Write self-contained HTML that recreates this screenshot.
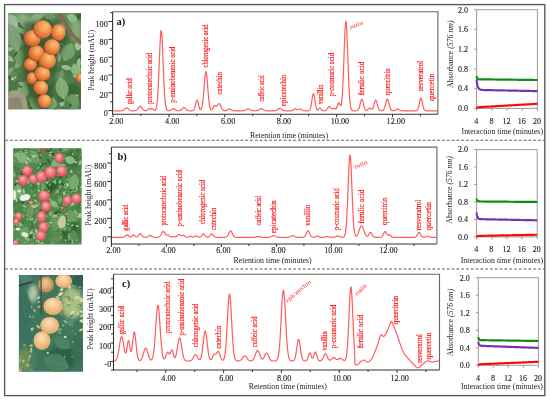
<!DOCTYPE html>
<html><head><meta charset="utf-8"><title>Figure</title>
<style>html,body{margin:0;padding:0;background:#fff;}svg{display:block;filter:blur(0.3px);}</style></head><body>
<svg width="550" height="402" viewBox="0 0 550 402" font-family="'Liberation Serif', 'Times New Roman', serif">
<defs><radialGradient id="ap1" cx="0.58" cy="0.42" r="0.6" fx="0.64" fy="0.3"><stop offset="0" stop-color="#fcc47c"/><stop offset="0.45" stop-color="#f39c52"/><stop offset="0.85" stop-color="#dc6c36"/><stop offset="1" stop-color="#b24c26"/></radialGradient>
<radialGradient id="ap1b" cx="0.56" cy="0.42" r="0.6" fx="0.6" fy="0.3"><stop offset="0" stop-color="#fbbc76"/><stop offset="0.45" stop-color="#f0924a"/><stop offset="0.85" stop-color="#d66232"/><stop offset="1" stop-color="#ae4824"/></radialGradient>
<radialGradient id="ap2" cx="0.5" cy="0.45" r="0.6" fx="0.45" fy="0.32"><stop offset="0" stop-color="#fcbcb8"/><stop offset="0.45" stop-color="#f27c84"/><stop offset="0.85" stop-color="#d6505c"/><stop offset="1" stop-color="#d6505c"/></radialGradient>
<radialGradient id="ap3" cx="0.5" cy="0.45" r="0.6" fx="0.45" fy="0.3"><stop offset="0" stop-color="#fce2b6"/><stop offset="0.45" stop-color="#f4c892"/><stop offset="0.85" stop-color="#e4ac74"/><stop offset="1" stop-color="#cc9460"/></radialGradient>
<radialGradient id="ap3d" cx="0.5" cy="0.5" r="0.55" fx="0.45" fy="0.35"><stop offset="0" stop-color="#f0c890"/><stop offset="0.45" stop-color="#deb07a"/><stop offset="0.85" stop-color="#b88a58"/><stop offset="1" stop-color="#b88a58"/></radialGradient>
<filter id="soft" x="-5%" y="-5%" width="110%" height="110%"><feGaussianBlur stdDeviation="0.5"/></filter>
<filter id="soft2" x="-20%" y="-20%" width="140%" height="140%"><feGaussianBlur stdDeviation="2"/></filter>
<clipPath id="c1"><rect x="8.3" y="13.3" width="72.7" height="96"/></clipPath>
<clipPath id="c2"><rect x="13.2" y="148.2" width="68.3" height="96.2"/></clipPath>
<clipPath id="c3"><rect x="18.9" y="275" width="64.1" height="96.7"/></clipPath></defs>
<rect x="0" y="0" width="550" height="402" fill="#fff"/>
<rect x="4.6" y="4.6" width="540.2" height="391" fill="none" stroke="#5a5a5a" stroke-width="1.4"/>
<line x1="5.3" y1="140.2" x2="544.2" y2="140.2" stroke="#555" stroke-width="1.1" stroke-dasharray="2.6 2.2"/>
<line x1="5.3" y1="269.0" x2="544.2" y2="269.0" stroke="#555" stroke-width="1.1" stroke-dasharray="2.6 2.2"/>
<g clip-path="url(#c1)">
<rect x="8" y="13" width="74" height="97" fill="#4b7a44"/>
<g filter="url(#soft2)">
<ellipse cx="18" cy="28" rx="12" ry="16" transform="rotate(0 18 28)" fill="#7fa874" opacity="1"/>
<ellipse cx="15" cy="60" rx="9" ry="18" transform="rotate(0 15 60)" fill="#557f4a" opacity="1"/>
<ellipse cx="72" cy="60" rx="10" ry="18" transform="rotate(0 72 60)" fill="#4a7a42" opacity="1"/>
<ellipse cx="70" cy="96" rx="12" ry="14" transform="rotate(0 70 96)" fill="#3c6634" opacity="1"/>
<ellipse cx="22" cy="84" rx="10" ry="10" transform="rotate(0 22 84)" fill="#4d7644" opacity="1"/>
<ellipse cx="64" cy="20" rx="14" ry="8" transform="rotate(0 64 20)" fill="#5e8c52" opacity="1"/>
<ellipse cx="76" cy="30" rx="6" ry="12" transform="rotate(0 76 30)" fill="#84ac74" opacity="1"/>
</g>
<g filter="url(#soft)">
<path d="M-7.7 0 Q0 -6.0 7.7 0 Q0 6.0 -7.7 0Z" transform="translate(41.0 67.3) rotate(91)" fill="#9cb896"/>
<path d="M-5.9 0 Q0 -5.0 5.9 0 Q0 5.0 -5.9 0Z" transform="translate(21.9 91.0) rotate(34)" fill="#84a87e"/>
<path d="M-7.25 0 Q0 -6.2 7.25 0 Q0 6.2 -7.25 0Z" transform="translate(30.1 21.8) rotate(8)" fill="#84a87e"/>
<path d="M-6.45 0 Q0 -4.4 6.45 0 Q0 4.4 -6.45 0Z" transform="translate(78.4 76.4) rotate(3)" fill="#9cb896"/>
<path d="M-7.5 0 Q0 -6.2 7.5 0 Q0 6.2 -7.5 0Z" transform="translate(12.6 16.5) rotate(140)" fill="#6a9464"/>
<path d="M-6.1 0 Q0 -5.2 6.1 0 Q0 5.2 -6.1 0Z" transform="translate(40.2 94.7) rotate(90)" fill="#2f5230"/>
<path d="M-5.65 0 Q0 -4.6 5.65 0 Q0 4.6 -5.65 0Z" transform="translate(14.2 76.5) rotate(168)" fill="#3c6236"/>
<path d="M-4.9 0 Q0 -3.6 4.9 0 Q0 3.6 -4.9 0Z" transform="translate(59.7 43.6) rotate(13)" fill="#78a070"/>
<path d="M-5.15 0 Q0 -3.4 5.15 0 Q0 3.4 -5.15 0Z" transform="translate(15.9 23.5) rotate(3)" fill="#2f5230"/>
<path d="M-7.65 0 Q0 -6.0 7.65 0 Q0 6.0 -7.65 0Z" transform="translate(8.0 33.3) rotate(176)" fill="#84a87e"/>
<path d="M-4.8 0 Q0 -4.2 4.8 0 Q0 4.2 -4.8 0Z" transform="translate(38.6 67.9) rotate(61)" fill="#6a9464"/>
<path d="M-7.05 0 Q0 -4.8 7.05 0 Q0 4.8 -7.05 0Z" transform="translate(32.3 106.5) rotate(44)" fill="#3c6236"/>
<path d="M-5.95 0 Q0 -5.2 5.95 0 Q0 5.2 -5.95 0Z" transform="translate(8.8 58.1) rotate(34)" fill="#9cb896"/>
<path d="M-4.5 0 Q0 -3.8 4.5 0 Q0 3.8 -4.5 0Z" transform="translate(21.9 84.0) rotate(21)" fill="#84a87e"/>
<path d="M-7.45 0 Q0 -7.0 7.45 0 Q0 7.0 -7.45 0Z" transform="translate(80.3 13.0) rotate(107)" fill="#3c6236"/>
<path d="M-7.4 0 Q0 -6.2 7.4 0 Q0 6.2 -7.4 0Z" transform="translate(23.4 51.2) rotate(18)" fill="#52804a"/>
<path d="M-7.1 0 Q0 -5.2 7.1 0 Q0 5.2 -7.1 0Z" transform="translate(23.6 38.1) rotate(53)" fill="#3c6236"/>
<path d="M-6.55 0 Q0 -4.2 6.55 0 Q0 4.2 -6.55 0Z" transform="translate(13.4 33.2) rotate(66)" fill="#9cb896"/>
<path d="M-5.95 0 Q0 -4.8 5.95 0 Q0 4.8 -5.95 0Z" transform="translate(41.1 106.0) rotate(156)" fill="#52804a"/>
<path d="M-4.9 0 Q0 -4.2 4.9 0 Q0 4.2 -4.9 0Z" transform="translate(53.8 43.1) rotate(131)" fill="#52804a"/>
<path d="M-4.8 0 Q0 -4.6 4.8 0 Q0 4.6 -4.8 0Z" transform="translate(62.0 104.2) rotate(159)" fill="#9cb896"/>
<path d="M-4.45 0 Q0 -3.6 4.45 0 Q0 3.6 -4.45 0Z" transform="translate(13.7 17.6) rotate(46)" fill="#2f5230"/>
<path d="M-7.3 0 Q0 -6.0 7.3 0 Q0 6.0 -7.3 0Z" transform="translate(59.4 37.9) rotate(53)" fill="#52804a"/>
<path d="M-4.5 0 Q0 -3.6 4.5 0 Q0 3.6 -4.5 0Z" transform="translate(75.8 107.8) rotate(118)" fill="#9cb896"/>
<path d="M-7.65 0 Q0 -5.4 7.65 0 Q0 5.4 -7.65 0Z" transform="translate(52.8 40.2) rotate(3)" fill="#6a9464"/>
<path d="M-4.2 0 Q0 -3.0 4.2 0 Q0 3.0 -4.2 0Z" transform="translate(38.0 37.2) rotate(96)" fill="#52804a"/>
<path d="M-5.8 0 Q0 -4.4 5.8 0 Q0 4.4 -5.8 0Z" transform="translate(14.7 26.4) rotate(132)" fill="#9cb896"/>
<path d="M-4.15 0 Q0 -2.6 4.15 0 Q0 2.6 -4.15 0Z" transform="translate(50.7 26.6) rotate(164)" fill="#2f5230"/>
<path d="M-6.4 0 Q0 -4.2 6.4 0 Q0 4.2 -6.4 0Z" transform="translate(30.8 16.3) rotate(12)" fill="#6a9464"/>
<path d="M-4.3 0 Q0 -3.6 4.3 0 Q0 3.6 -4.3 0Z" transform="translate(31.3 109.9) rotate(133)" fill="#2f5230"/>
<path d="M-7.85 0 Q0 -5.8 7.85 0 Q0 5.8 -7.85 0Z" transform="translate(61.8 25.6) rotate(15)" fill="#84a87e"/>
<path d="M-5.65 0 Q0 -5.0 5.65 0 Q0 5.0 -5.65 0Z" transform="translate(73.8 97.5) rotate(155)" fill="#9cb896"/>
<path d="M-5.5 0 Q0 -3.6 5.5 0 Q0 3.6 -5.5 0Z" transform="translate(9.1 77.2) rotate(13)" fill="#3c6236"/>
<path d="M-7.5 0 Q0 -6.6 7.5 0 Q0 6.6 -7.5 0Z" transform="translate(54.7 109.4) rotate(70)" fill="#2f5230"/>
<path d="M-5.85 0 Q0 -4.8 5.85 0 Q0 4.8 -5.85 0Z" transform="translate(58.7 57.4) rotate(93)" fill="#9cb896"/>
<path d="M-5.9 0 Q0 -4.2 5.9 0 Q0 4.2 -5.9 0Z" transform="translate(10.2 71.3) rotate(126)" fill="#84a87e"/>
<path d="M-5.95 0 Q0 -5.6 5.95 0 Q0 5.6 -5.95 0Z" transform="translate(64.9 77.0) rotate(66)" fill="#52804a"/>
<path d="M-4.7 0 Q0 -4.4 4.7 0 Q0 4.4 -4.7 0Z" transform="translate(57.5 32.6) rotate(119)" fill="#84a87e"/>
<path d="M-5.6 0 Q0 -4.0 5.6 0 Q0 4.0 -5.6 0Z" transform="translate(44.4 36.4) rotate(114)" fill="#78a070"/>
<path d="M-7.5 0 Q0 -5.8 7.5 0 Q0 5.8 -7.5 0Z" transform="translate(66.8 101.7) rotate(105)" fill="#6a9464"/>
<path d="M-5.4 0 Q0 -5.0 5.4 0 Q0 5.0 -5.4 0Z" transform="translate(23.3 26.1) rotate(7)" fill="#3c6236"/>
<path d="M-4.7 0 Q0 -3.6 4.7 0 Q0 3.6 -4.7 0Z" transform="translate(77.4 39.8) rotate(50)" fill="#52804a"/>
<path d="M-6.1 0 Q0 -5.2 6.1 0 Q0 5.2 -6.1 0Z" transform="translate(68.7 50.1) rotate(129)" fill="#78a070"/>
<path d="M-4.3 0 Q0 -2.8 4.3 0 Q0 2.8 -4.3 0Z" transform="translate(79.7 56.9) rotate(157)" fill="#3c6236"/>
<path d="M-5.4 0 Q0 -4.6 5.4 0 Q0 4.6 -5.4 0Z" transform="translate(57.5 40.3) rotate(102)" fill="#2f5230"/>
<path d="M-4.1 0 Q0 -3.8 4.1 0 Q0 3.8 -4.1 0Z" transform="translate(17.9 57.1) rotate(43)" fill="#52804a"/>
<path d="M-4.45 0 Q0 -3.0 4.45 0 Q0 3.0 -4.45 0Z" transform="translate(66.2 108.4) rotate(96)" fill="#2f5230"/>
<path d="M-6.75 0 Q0 -4.8 6.75 0 Q0 4.8 -6.75 0Z" transform="translate(66.9 106.0) rotate(86)" fill="#52804a"/>
<path d="M-6.15 0 Q0 -4.0 6.15 0 Q0 4.0 -6.15 0Z" transform="translate(60.1 86.2) rotate(41)" fill="#78a070"/>
<path d="M-6.1 0 Q0 -5.0 6.1 0 Q0 5.0 -6.1 0Z" transform="translate(33.2 80.6) rotate(136)" fill="#84a87e"/>
<path d="M-4.9 0 Q0 -3.8 4.9 0 Q0 3.8 -4.9 0Z" transform="translate(70.0 80.9) rotate(161)" fill="#84a87e"/>
<path d="M-6.5 0 Q0 -6.0 6.5 0 Q0 6.0 -6.5 0Z" transform="translate(17.5 57.0) rotate(68)" fill="#9cb896"/>
<path d="M-7.3 0 Q0 -5.4 7.3 0 Q0 5.4 -7.3 0Z" transform="translate(55.6 61.8) rotate(59)" fill="#52804a"/>
<path d="M-7.2 0 Q0 -6.8 7.2 0 Q0 6.8 -7.2 0Z" transform="translate(15.2 97.0) rotate(22)" fill="#52804a"/>
<path d="M-7.9 0 Q0 -6.4 7.9 0 Q0 6.4 -7.9 0Z" transform="translate(73.7 108.1) rotate(142)" fill="#6a9464"/>
<path d="M-4.05 0 Q0 -3.2 4.05 0 Q0 3.2 -4.05 0Z" transform="translate(27.1 82.7) rotate(7)" fill="#6a9464"/>
<path d="M-5.95 0 Q0 -3.8 5.95 0 Q0 3.8 -5.95 0Z" transform="translate(48.2 87.5) rotate(146)" fill="#3c6236"/>
<path d="M-6.15 0 Q0 -5.2 6.15 0 Q0 5.2 -6.15 0Z" transform="translate(39.3 16.4) rotate(165)" fill="#84a87e"/>
<path d="M-6.9 0 Q0 -6.2 6.9 0 Q0 6.2 -6.9 0Z" transform="translate(18.9 63.1) rotate(124)" fill="#84a87e"/>
<path d="M-7.05 0 Q0 -5.4 7.05 0 Q0 5.4 -7.05 0Z" transform="translate(50.3 79.8) rotate(101)" fill="#78a070"/>
<path d="M-6.1 0 Q0 -5.6 6.1 0 Q0 5.6 -6.1 0Z" transform="translate(61.2 75.0) rotate(101)" fill="#6a9464"/>
<path d="M-7.5 0 Q0 -6.2 7.5 0 Q0 6.2 -7.5 0Z" transform="translate(57.0 105.6) rotate(55)" fill="#52804a"/>
<path d="M-6.3 0 Q0 -4.4 6.3 0 Q0 4.4 -6.3 0Z" transform="translate(78.7 63.8) rotate(96)" fill="#9cb896"/>
<path d="M-6.15 0 Q0 -4.0 6.15 0 Q0 4.0 -6.15 0Z" transform="translate(8.4 49.6) rotate(165)" fill="#9cb896"/>
<path d="M-5.95 0 Q0 -5.2 5.95 0 Q0 5.2 -5.95 0Z" transform="translate(66.5 67.6) rotate(12)" fill="#9cb896"/>
<path d="M-7.2 0 Q0 -5.6 7.2 0 Q0 5.6 -7.2 0Z" transform="translate(41.5 102.3) rotate(44)" fill="#84a87e"/>
<path d="M-7.25 0 Q0 -6.8 7.25 0 Q0 6.8 -7.25 0Z" transform="translate(17.3 55.1) rotate(86)" fill="#6a9464"/>
<path d="M-4.1 0 Q0 -3.0 4.1 0 Q0 3.0 -4.1 0Z" transform="translate(15.9 53.7) rotate(126)" fill="#3c6236"/>
<path d="M-4.05 0 Q0 -3.0 4.05 0 Q0 3.0 -4.05 0Z" transform="translate(10.6 28.1) rotate(130)" fill="#52804a"/>
<path d="M-6.9 0 Q0 -4.8 6.9 0 Q0 4.8 -6.9 0Z" transform="translate(53.2 23.2) rotate(92)" fill="#6a9464"/>
<path d="M-9.0 0 Q0 -12 9.0 0 Q0 12 -9.0 0Z" transform="translate(26 22) rotate(60)" fill="#8aac84"/><path d="M-8.1 0 L8.1 0" transform="translate(26 22) rotate(60)" stroke="#a4c29c" stroke-width="0.5"/>
<path d="M-15.0 0 Q0 -14 15.0 0 Q0 14 -15.0 0Z" transform="translate(14 38) rotate(75)" fill="#7a9e74"/><path d="M-13.5 0 L13.5 0" transform="translate(14 38) rotate(75)" stroke="#94b48c" stroke-width="0.5"/>
<path d="M-7.0 0 Q0 -10 7.0 0 Q0 10 -7.0 0Z" transform="translate(12 20) rotate(40)" fill="#a0b89a"/>
<path d="M-8.0 0 Q0 -9.0 8.0 0 Q0 9.0 -8.0 0Z" transform="translate(20 58) rotate(100)" fill="#6f9a62"/>
<path d="M-6.0 0 Q0 -8 6.0 0 Q0 8 -6.0 0Z" transform="translate(14 76) rotate(80)" fill="#5f8a54"/>
<path d="M-8.0 0 Q0 -9.0 8.0 0 Q0 9.0 -8.0 0Z" transform="translate(24 92) rotate(110)" fill="#7aa46c"/>
<path d="M-6.0 0 Q0 -8 6.0 0 Q0 8 -6.0 0Z" transform="translate(36 18) rotate(-10)" fill="#86b07a"/>
<path d="M-6.0 0 Q0 -8 6.0 0 Q0 8 -6.0 0Z" transform="translate(50 16) rotate(10)" fill="#6e9a62"/>
<path d="M-10.0 0 Q0 -14 10.0 0 Q0 14 -10.0 0Z" transform="translate(68 52) rotate(115)" fill="#76a06a"/><path d="M-9.0 0 L9.0 0" transform="translate(68 52) rotate(115)" stroke="#90b684" stroke-width="0.5"/>
<path d="M-7.0 0 Q0 -10 7.0 0 Q0 10 -7.0 0Z" transform="translate(76 70) rotate(70)" fill="#8ab87c"/>
<path d="M-12.0 0 Q0 -13.0 12.0 0 Q0 13.0 -12.0 0Z" transform="translate(62 88) rotate(80)" fill="#80aa76"/><path d="M-10.8 0 L10.8 0" transform="translate(62 88) rotate(80)" stroke="#98c08e" stroke-width="0.5"/>
<path d="M-7.0 0 Q0 -10 7.0 0 Q0 10 -7.0 0Z" transform="translate(74 100) rotate(60)" fill="#6a9c5c"/>
<path d="M-7.0 0 Q0 -10 7.0 0 Q0 10 -7.0 0Z" transform="translate(52 104) rotate(100)" fill="#78a86a"/>
<path d="M-8.0 0 Q0 -8 8.0 0 Q0 8 -8.0 0Z" transform="translate(34 104) rotate(70)" fill="#6a9a5c"/>
<path d="M-6.0 0 Q0 -8 6.0 0 Q0 8 -6.0 0Z" transform="translate(72 18) rotate(30)" fill="#8fbc82"/>
<path d="M-5.0 0 Q0 -7.0 5.0 0 Q0 7.0 -5.0 0Z" transform="translate(78 46) rotate(100)" fill="#9ec690"/>
<path d="M-5.0 0 Q0 -7.0 5.0 0 Q0 7.0 -5.0 0Z" transform="translate(56 76) rotate(120)" fill="#5c8c50"/>
<path d="M-5.0 0 Q0 -8 5.0 0 Q0 8 -5.0 0Z" transform="translate(70 80) rotate(20)" fill="#4f7e44"/>
<g filter="url(#soft2)"><path d="M24 22 L60 20 L68 38 L58 58 L54 80 L50 108 L36 108 L26 86 L22 60 Z" fill="#34502c" opacity="0.7"/></g>
<path d="M8 93 Q13 88 19 91 Q25 94 27 102 L28 110 L8 110 Z" fill="#a39c84"/>
<path d="M9 99 Q15 95 21 99 L23 110 L9 110 Z" fill="#8e8770"/>
<circle cx="12.5" cy="79" r="1.3" fill="#d8d2c0"/><circle cx="15" cy="77.5" r="1" fill="#cfc8b4"/>
<path d="M58.5 13 L66 25 L72 34 L80 43" stroke="#80584e" stroke-width="3.2" fill="none" stroke-linecap="round"/>
<path d="M58.5 13 L66 25 L72 34 L80 43" stroke="#b08078" stroke-width="0.8" fill="none" transform="translate(-0.6 -0.4)"/>
<ellipse cx="79.8" cy="78" rx="3.8" ry="4.8" fill="url(#ap1b)"/>
<ellipse cx="44.4" cy="101.2" rx="6.8" ry="7" fill="url(#ap1)"/>
<ellipse cx="40.8" cy="87.8" rx="7.5" ry="7.2" fill="url(#ap1)"/>
<ellipse cx="31.9" cy="78.2" rx="5.2" ry="6" fill="url(#ap1b)"/>
<ellipse cx="30.3" cy="64.5" rx="6.6" ry="6.4" fill="url(#ap1b)"/>
<ellipse cx="42.3" cy="73.8" rx="8.1" ry="7.3" fill="url(#ap1)"/>
<ellipse cx="36.3" cy="53.4" rx="8.1" ry="8.1" fill="url(#ap1b)"/>
<ellipse cx="47.3" cy="60.5" rx="8.7" ry="8.5" fill="url(#ap1)"/>
<ellipse cx="32.3" cy="38.4" rx="8.4" ry="8.3" fill="url(#ap1b)"/>
<ellipse cx="52" cy="47.2" rx="8.1" ry="8" fill="url(#ap1)"/>
<ellipse cx="58.3" cy="32.6" rx="7.3" ry="8.4" fill="url(#ap1)"/>
<ellipse cx="42.5" cy="29.4" rx="9.3" ry="9.2" fill="url(#ap1)"/>
</g>
</g>
<g clip-path="url(#c2)">
<rect x="13" y="148" width="69" height="97" fill="#4e8549"/>
<g filter="url(#soft2)">
<ellipse cx="25" cy="160" rx="10" ry="8" transform="rotate(0 25 160)" fill="#5e9458" opacity="1"/>
<ellipse cx="72" cy="160" rx="10" ry="8" transform="rotate(0 72 160)" fill="#3c703e" opacity="1"/>
<ellipse cx="28" cy="200" rx="10" ry="12" transform="rotate(0 28 200)" fill="#4f8a4c" opacity="1"/>
<ellipse cx="70" cy="230" rx="10" ry="14" transform="rotate(0 70 230)" fill="#3a6e3c" opacity="1"/>
<ellipse cx="25" cy="235" rx="10" ry="10" transform="rotate(0 25 235)" fill="#5c9456" opacity="1"/>
<ellipse cx="50" cy="188" rx="8" ry="6" transform="rotate(0 50 188)" fill="#2f5e32" opacity="1"/>
<ellipse cx="58" cy="222" rx="8" ry="12" transform="rotate(0 58 222)" fill="#6a9a5e" opacity="1"/>
</g>
<g filter="url(#soft)">
<path d="M-2.05 0 Q0 -2.2 2.05 0 Q0 2.2 -2.05 0Z" transform="translate(79.1 161.6) rotate(33)" fill="#2f5e30"/>
<path d="M-3.6 0 Q0 -2.6 3.6 0 Q0 2.6 -3.6 0Z" transform="translate(64.0 233.2) rotate(48)" fill="#2f5e30"/>
<path d="M-3.85 0 Q0 -3.6 3.85 0 Q0 3.6 -3.85 0Z" transform="translate(35.0 206.3) rotate(166)" fill="#a8cc9a"/>
<path d="M-2.05 0 Q0 -1.6 2.05 0 Q0 1.6 -2.05 0Z" transform="translate(74.0 204.0) rotate(76)" fill="#417a40"/>
<path d="M-3.9 0 Q0 -3.8 3.9 0 Q0 3.8 -3.9 0Z" transform="translate(71.6 204.5) rotate(173)" fill="#8cbc80"/>
<path d="M-2.65 0 Q0 -2.0 2.65 0 Q0 2.0 -2.65 0Z" transform="translate(17.2 179.7) rotate(71)" fill="#4a8446"/>
<path d="M-3.05 0 Q0 -2.4 3.05 0 Q0 2.4 -3.05 0Z" transform="translate(73.1 240.7) rotate(49)" fill="#a8cc9a"/>
<path d="M-3.05 0 Q0 -2.2 3.05 0 Q0 2.2 -3.05 0Z" transform="translate(25.8 152.8) rotate(167)" fill="#8cbc80"/>
<path d="M-2.8 0 Q0 -2.8 2.8 0 Q0 2.8 -2.8 0Z" transform="translate(32.6 233.6) rotate(33)" fill="#8cbc80"/>
<path d="M-2.6 0 Q0 -2.4 2.6 0 Q0 2.4 -2.6 0Z" transform="translate(38.8 204.5) rotate(98)" fill="#72a866"/>
<path d="M-2.85 0 Q0 -2.2 2.85 0 Q0 2.2 -2.85 0Z" transform="translate(65.3 235.2) rotate(80)" fill="#2f5e30"/>
<path d="M-3.85 0 Q0 -4.0 3.85 0 Q0 4.0 -3.85 0Z" transform="translate(42.8 187.1) rotate(92)" fill="#72a866"/>
<path d="M-2.4 0 Q0 -1.8 2.4 0 Q0 1.8 -2.4 0Z" transform="translate(13.5 192.5) rotate(68)" fill="#417a40"/>
<path d="M-2.4 0 Q0 -1.8 2.4 0 Q0 1.8 -2.4 0Z" transform="translate(35.7 182.6) rotate(96)" fill="#4a8446"/>
<path d="M-3.3 0 Q0 -2.4 3.3 0 Q0 2.4 -3.3 0Z" transform="translate(66.7 219.7) rotate(35)" fill="#2f5e30"/>
<path d="M-2.9 0 Q0 -2.8 2.9 0 Q0 2.8 -2.9 0Z" transform="translate(70.1 237.3) rotate(90)" fill="#8cbc80"/>
<path d="M-3.35 0 Q0 -3.4 3.35 0 Q0 3.4 -3.35 0Z" transform="translate(22.4 175.6) rotate(86)" fill="#2f5e30"/>
<path d="M-3.55 0 Q0 -3.6 3.55 0 Q0 3.6 -3.55 0Z" transform="translate(57.4 182.3) rotate(110)" fill="#2f5e30"/>
<path d="M-3.25 0 Q0 -2.8 3.25 0 Q0 2.8 -3.25 0Z" transform="translate(14.3 196.5) rotate(31)" fill="#a8cc9a"/>
<path d="M-2.35 0 Q0 -1.8 2.35 0 Q0 1.8 -2.35 0Z" transform="translate(54.2 215.9) rotate(34)" fill="#a8cc9a"/>
<path d="M-2.5 0 Q0 -2.6 2.5 0 Q0 2.6 -2.5 0Z" transform="translate(21.1 169.0) rotate(33)" fill="#5a9052"/>
<path d="M-3.25 0 Q0 -2.8 3.25 0 Q0 2.8 -3.25 0Z" transform="translate(64.9 204.3) rotate(21)" fill="#8cbc80"/>
<path d="M-2.75 0 Q0 -2.8 2.75 0 Q0 2.8 -2.75 0Z" transform="translate(70.6 151.7) rotate(6)" fill="#417a40"/>
<path d="M-2.1 0 Q0 -2.0 2.1 0 Q0 2.0 -2.1 0Z" transform="translate(65.0 209.6) rotate(75)" fill="#5a9052"/>
<path d="M-2.55 0 Q0 -1.8 2.55 0 Q0 1.8 -2.55 0Z" transform="translate(30.2 170.4) rotate(120)" fill="#417a40"/>
<path d="M-2.65 0 Q0 -2.0 2.65 0 Q0 2.0 -2.65 0Z" transform="translate(25.3 241.3) rotate(29)" fill="#5a9052"/>
<path d="M-2.05 0 Q0 -2.0 2.05 0 Q0 2.0 -2.05 0Z" transform="translate(15.9 195.2) rotate(1)" fill="#a8cc9a"/>
<path d="M-3.3 0 Q0 -2.8 3.3 0 Q0 2.8 -3.3 0Z" transform="translate(69.0 191.9) rotate(77)" fill="#5a9052"/>
<path d="M-3.65 0 Q0 -2.6 3.65 0 Q0 2.6 -3.65 0Z" transform="translate(36.6 231.8) rotate(68)" fill="#a8cc9a"/>
<path d="M-3.9 0 Q0 -3.6 3.9 0 Q0 3.6 -3.9 0Z" transform="translate(20.4 230.1) rotate(117)" fill="#5a9052"/>
<path d="M-2.4 0 Q0 -2.0 2.4 0 Q0 2.0 -2.4 0Z" transform="translate(71.5 197.7) rotate(29)" fill="#4a8446"/>
<path d="M-3.0 0 Q0 -2.2 3.0 0 Q0 2.2 -3.0 0Z" transform="translate(67.8 196.1) rotate(97)" fill="#72a866"/>
<path d="M-3.5 0 Q0 -3.0 3.5 0 Q0 3.0 -3.5 0Z" transform="translate(41.0 232.8) rotate(118)" fill="#417a40"/>
<path d="M-3.85 0 Q0 -3.2 3.85 0 Q0 3.2 -3.85 0Z" transform="translate(61.8 156.3) rotate(10)" fill="#8cbc80"/>
<path d="M-3.1 0 Q0 -3.2 3.1 0 Q0 3.2 -3.1 0Z" transform="translate(79.9 162.8) rotate(108)" fill="#8cbc80"/>
<path d="M-2.25 0 Q0 -2.0 2.25 0 Q0 2.0 -2.25 0Z" transform="translate(35.2 222.3) rotate(9)" fill="#a8cc9a"/>
<path d="M-2.15 0 Q0 -1.6 2.15 0 Q0 1.6 -2.15 0Z" transform="translate(69.9 157.6) rotate(91)" fill="#5a9052"/>
<path d="M-3.25 0 Q0 -3.2 3.25 0 Q0 3.2 -3.25 0Z" transform="translate(75.7 188.0) rotate(60)" fill="#a8cc9a"/>
<path d="M-3.8 0 Q0 -3.8 3.8 0 Q0 3.8 -3.8 0Z" transform="translate(78.0 218.5) rotate(117)" fill="#5a9052"/>
<path d="M-2.5 0 Q0 -1.8 2.5 0 Q0 1.8 -2.5 0Z" transform="translate(59.9 148.3) rotate(57)" fill="#2f5e30"/>
<path d="M-3.8 0 Q0 -3.8 3.8 0 Q0 3.8 -3.8 0Z" transform="translate(77.6 158.9) rotate(165)" fill="#417a40"/>
<path d="M-2.7 0 Q0 -2.6 2.7 0 Q0 2.6 -2.7 0Z" transform="translate(45.9 188.2) rotate(55)" fill="#8cbc80"/>
<path d="M-3.8 0 Q0 -3.8 3.8 0 Q0 3.8 -3.8 0Z" transform="translate(28.7 208.3) rotate(84)" fill="#5a9052"/>
<path d="M-2.25 0 Q0 -1.8 2.25 0 Q0 1.8 -2.25 0Z" transform="translate(48.5 169.1) rotate(56)" fill="#417a40"/>
<path d="M-2.5 0 Q0 -2.0 2.5 0 Q0 2.0 -2.5 0Z" transform="translate(43.7 172.9) rotate(101)" fill="#5a9052"/>
<path d="M-2.15 0 Q0 -1.8 2.15 0 Q0 1.8 -2.15 0Z" transform="translate(68.3 196.9) rotate(69)" fill="#a8cc9a"/>
<path d="M-3.25 0 Q0 -2.4 3.25 0 Q0 2.4 -3.25 0Z" transform="translate(53.2 192.5) rotate(124)" fill="#4a8446"/>
<path d="M-2.4 0 Q0 -2.2 2.4 0 Q0 2.2 -2.4 0Z" transform="translate(71.8 190.7) rotate(169)" fill="#2f5e30"/>
<path d="M-3.55 0 Q0 -2.8 3.55 0 Q0 2.8 -3.55 0Z" transform="translate(23.7 192.0) rotate(85)" fill="#a8cc9a"/>
<path d="M-3.5 0 Q0 -2.8 3.5 0 Q0 2.8 -3.5 0Z" transform="translate(31.4 160.1) rotate(142)" fill="#8cbc80"/>
<path d="M-3.85 0 Q0 -3.2 3.85 0 Q0 3.2 -3.85 0Z" transform="translate(29.5 214.8) rotate(72)" fill="#8cbc80"/>
<path d="M-3.35 0 Q0 -2.8 3.35 0 Q0 2.8 -3.35 0Z" transform="translate(62.4 223.3) rotate(144)" fill="#72a866"/>
<path d="M-3.55 0 Q0 -2.8 3.55 0 Q0 2.8 -3.55 0Z" transform="translate(31.1 232.3) rotate(95)" fill="#a8cc9a"/>
<path d="M-3.85 0 Q0 -3.6 3.85 0 Q0 3.6 -3.85 0Z" transform="translate(33.1 152.5) rotate(43)" fill="#72a866"/>
<path d="M-3.95 0 Q0 -3.6 3.95 0 Q0 3.6 -3.95 0Z" transform="translate(68.1 184.2) rotate(41)" fill="#72a866"/>
<path d="M-2.3 0 Q0 -2.0 2.3 0 Q0 2.0 -2.3 0Z" transform="translate(38.8 241.6) rotate(91)" fill="#a8cc9a"/>
<path d="M-3.35 0 Q0 -3.2 3.35 0 Q0 3.2 -3.35 0Z" transform="translate(66.6 160.3) rotate(42)" fill="#417a40"/>
<path d="M-3.5 0 Q0 -2.6 3.5 0 Q0 2.6 -3.5 0Z" transform="translate(20.0 197.0) rotate(30)" fill="#4a8446"/>
<path d="M-2.35 0 Q0 -2.2 2.35 0 Q0 2.2 -2.35 0Z" transform="translate(36.2 194.9) rotate(127)" fill="#5a9052"/>
<path d="M-2.35 0 Q0 -1.8 2.35 0 Q0 1.8 -2.35 0Z" transform="translate(38.6 194.2) rotate(90)" fill="#5a9052"/>
<path d="M-2.65 0 Q0 -2.6 2.65 0 Q0 2.6 -2.65 0Z" transform="translate(60.3 200.2) rotate(58)" fill="#4a8446"/>
<path d="M-2.1 0 Q0 -1.6 2.1 0 Q0 1.6 -2.1 0Z" transform="translate(25.4 231.3) rotate(13)" fill="#4a8446"/>
<path d="M-2.85 0 Q0 -2.8 2.85 0 Q0 2.8 -2.85 0Z" transform="translate(49.6 241.6) rotate(171)" fill="#4a8446"/>
<path d="M-3.6 0 Q0 -3.0 3.6 0 Q0 3.0 -3.6 0Z" transform="translate(63.5 170.4) rotate(8)" fill="#5a9052"/>
<path d="M-3.45 0 Q0 -2.8 3.45 0 Q0 2.8 -3.45 0Z" transform="translate(55.4 174.5) rotate(72)" fill="#2f5e30"/>
<path d="M-3.1 0 Q0 -2.4 3.1 0 Q0 2.4 -3.1 0Z" transform="translate(75.4 214.9) rotate(172)" fill="#2f5e30"/>
<path d="M-2.15 0 Q0 -2.0 2.15 0 Q0 2.0 -2.15 0Z" transform="translate(44.2 185.3) rotate(154)" fill="#72a866"/>
<path d="M-3.1 0 Q0 -3.2 3.1 0 Q0 3.2 -3.1 0Z" transform="translate(27.7 158.7) rotate(168)" fill="#a8cc9a"/>
<path d="M-2.4 0 Q0 -2.0 2.4 0 Q0 2.0 -2.4 0Z" transform="translate(20.6 193.0) rotate(33)" fill="#417a40"/>
<path d="M-2.25 0 Q0 -1.8 2.25 0 Q0 1.8 -2.25 0Z" transform="translate(24.4 149.9) rotate(136)" fill="#4a8446"/>
<path d="M-3.2 0 Q0 -2.6 3.2 0 Q0 2.6 -3.2 0Z" transform="translate(46.6 175.2) rotate(49)" fill="#5a9052"/>
<path d="M-2.45 0 Q0 -2.0 2.45 0 Q0 2.0 -2.45 0Z" transform="translate(18.6 193.5) rotate(70)" fill="#2f5e30"/>
<path d="M-3.5 0 Q0 -3.0 3.5 0 Q0 3.0 -3.5 0Z" transform="translate(68.9 223.1) rotate(165)" fill="#4a8446"/>
<path d="M-3.05 0 Q0 -3.0 3.05 0 Q0 3.0 -3.05 0Z" transform="translate(75.0 226.5) rotate(86)" fill="#2f5e30"/>
<path d="M-2.1 0 Q0 -1.6 2.1 0 Q0 1.6 -2.1 0Z" transform="translate(27.6 219.2) rotate(89)" fill="#8cbc80"/>
<path d="M-2.45 0 Q0 -2.0 2.45 0 Q0 2.0 -2.45 0Z" transform="translate(37.1 158.8) rotate(75)" fill="#417a40"/>
<path d="M-3.55 0 Q0 -3.2 3.55 0 Q0 3.2 -3.55 0Z" transform="translate(30.9 236.4) rotate(124)" fill="#2f5e30"/>
<path d="M-2.5 0 Q0 -2.0 2.5 0 Q0 2.0 -2.5 0Z" transform="translate(65.8 181.5) rotate(53)" fill="#417a40"/>
<path d="M-2.7 0 Q0 -2.8 2.7 0 Q0 2.8 -2.7 0Z" transform="translate(76.0 214.2) rotate(111)" fill="#a8cc9a"/>
<path d="M-3.8 0 Q0 -3.0 3.8 0 Q0 3.0 -3.8 0Z" transform="translate(34.0 186.1) rotate(38)" fill="#417a40"/>
<path d="M-2.15 0 Q0 -2.0 2.15 0 Q0 2.0 -2.15 0Z" transform="translate(35.0 160.8) rotate(165)" fill="#8cbc80"/>
<path d="M-2.2 0 Q0 -1.8 2.2 0 Q0 1.8 -2.2 0Z" transform="translate(46.6 204.7) rotate(138)" fill="#2f5e30"/>
<path d="M-3.25 0 Q0 -3.0 3.25 0 Q0 3.0 -3.25 0Z" transform="translate(64.2 150.0) rotate(135)" fill="#72a866"/>
<path d="M-3.05 0 Q0 -2.4 3.05 0 Q0 2.4 -3.05 0Z" transform="translate(48.8 161.2) rotate(58)" fill="#2f5e30"/>
<path d="M-3.5 0 Q0 -3.0 3.5 0 Q0 3.0 -3.5 0Z" transform="translate(35.0 156.3) rotate(144)" fill="#8cbc80"/>
<path d="M-2.25 0 Q0 -2.0 2.25 0 Q0 2.0 -2.25 0Z" transform="translate(47.7 170.6) rotate(122)" fill="#a8cc9a"/>
<path d="M-3.35 0 Q0 -2.4 3.35 0 Q0 2.4 -3.35 0Z" transform="translate(16.1 154.2) rotate(170)" fill="#8cbc80"/>
<path d="M-2.85 0 Q0 -2.8 2.85 0 Q0 2.8 -2.85 0Z" transform="translate(39.0 158.1) rotate(18)" fill="#2f5e30"/>
<path d="M-2.7 0 Q0 -2.2 2.7 0 Q0 2.2 -2.7 0Z" transform="translate(78.4 207.0) rotate(108)" fill="#417a40"/>
<path d="M-3.2 0 Q0 -3.2 3.2 0 Q0 3.2 -3.2 0Z" transform="translate(19.5 176.7) rotate(155)" fill="#5a9052"/>
<path d="M-3.45 0 Q0 -3.6 3.45 0 Q0 3.6 -3.45 0Z" transform="translate(69.2 228.9) rotate(61)" fill="#5a9052"/>
<path d="M-3.5 0 Q0 -3.6 3.5 0 Q0 3.6 -3.5 0Z" transform="translate(31.6 155.0) rotate(143)" fill="#72a866"/>
<path d="M-3.6 0 Q0 -2.8 3.6 0 Q0 2.8 -3.6 0Z" transform="translate(50.9 164.7) rotate(28)" fill="#417a40"/>
<path d="M-2.85 0 Q0 -2.2 2.85 0 Q0 2.2 -2.85 0Z" transform="translate(66.9 170.8) rotate(67)" fill="#4a8446"/>
<path d="M-3.95 0 Q0 -3.4 3.95 0 Q0 3.4 -3.95 0Z" transform="translate(57.8 191.2) rotate(144)" fill="#72a866"/>
<path d="M-2.55 0 Q0 -2.0 2.55 0 Q0 2.0 -2.55 0Z" transform="translate(20.8 176.9) rotate(160)" fill="#8cbc80"/>
<path d="M-3.95 0 Q0 -3.6 3.95 0 Q0 3.6 -3.95 0Z" transform="translate(60.2 200.2) rotate(107)" fill="#72a866"/>
<path d="M-2.95 0 Q0 -2.6 2.95 0 Q0 2.6 -2.95 0Z" transform="translate(41.0 171.5) rotate(22)" fill="#72a866"/>
<path d="M-3.15 0 Q0 -2.6 3.15 0 Q0 2.6 -3.15 0Z" transform="translate(78.9 216.5) rotate(3)" fill="#a8cc9a"/>
<path d="M-3.7 0 Q0 -3.8 3.7 0 Q0 3.8 -3.7 0Z" transform="translate(36.9 221.4) rotate(87)" fill="#5a9052"/>
<path d="M-2.5 0 Q0 -2.0 2.5 0 Q0 2.0 -2.5 0Z" transform="translate(67.0 149.0) rotate(39)" fill="#72a866"/>
<path d="M-2.45 0 Q0 -2.2 2.45 0 Q0 2.2 -2.45 0Z" transform="translate(25.5 168.4) rotate(9)" fill="#2f5e30"/>
<path d="M-2.85 0 Q0 -2.6 2.85 0 Q0 2.6 -2.85 0Z" transform="translate(14.8 221.3) rotate(134)" fill="#a8cc9a"/>
<path d="M-2.25 0 Q0 -1.6 2.25 0 Q0 1.6 -2.25 0Z" transform="translate(22.0 224.0) rotate(92)" fill="#4a8446"/>
<path d="M-2.8 0 Q0 -2.2 2.8 0 Q0 2.2 -2.8 0Z" transform="translate(50.2 151.7) rotate(17)" fill="#2f5e30"/>
<path d="M-3.65 0 Q0 -2.8 3.65 0 Q0 2.8 -3.65 0Z" transform="translate(72.7 243.5) rotate(93)" fill="#8cbc80"/>
<path d="M-2.2 0 Q0 -1.6 2.2 0 Q0 1.6 -2.2 0Z" transform="translate(47.5 215.2) rotate(51)" fill="#5a9052"/>
<path d="M-3.1 0 Q0 -2.6 3.1 0 Q0 2.6 -3.1 0Z" transform="translate(44.0 225.9) rotate(41)" fill="#5a9052"/>
<path d="M-2.5 0 Q0 -2.6 2.5 0 Q0 2.6 -2.5 0Z" transform="translate(56.1 213.3) rotate(9)" fill="#5a9052"/>
<path d="M-3.25 0 Q0 -3.4 3.25 0 Q0 3.4 -3.25 0Z" transform="translate(59.5 208.6) rotate(120)" fill="#417a40"/>
<path d="M-3.25 0 Q0 -2.6 3.25 0 Q0 2.6 -3.25 0Z" transform="translate(82.0 181.8) rotate(92)" fill="#8cbc80"/>
<path d="M-3.55 0 Q0 -3.0 3.55 0 Q0 3.0 -3.55 0Z" transform="translate(45.8 211.5) rotate(38)" fill="#2f5e30"/>
<path d="M-2.05 0 Q0 -1.8 2.05 0 Q0 1.8 -2.05 0Z" transform="translate(24.0 233.0) rotate(168)" fill="#a8cc9a"/>
<path d="M-2.2 0 Q0 -1.6 2.2 0 Q0 1.6 -2.2 0Z" transform="translate(51.6 170.5) rotate(55)" fill="#5a9052"/>
<path d="M-3.65 0 Q0 -3.4 3.65 0 Q0 3.4 -3.65 0Z" transform="translate(41.9 243.7) rotate(79)" fill="#8cbc80"/>
<path d="M-3.45 0 Q0 -3.4 3.45 0 Q0 3.4 -3.45 0Z" transform="translate(52.5 154.2) rotate(46)" fill="#2f5e30"/>
<path d="M-2.2 0 Q0 -2.0 2.2 0 Q0 2.0 -2.2 0Z" transform="translate(39.1 186.8) rotate(141)" fill="#72a866"/>
<path d="M-3.6 0 Q0 -3.4 3.6 0 Q0 3.4 -3.6 0Z" transform="translate(63.7 156.8) rotate(115)" fill="#5a9052"/>
<path d="M-3.35 0 Q0 -3.0 3.35 0 Q0 3.0 -3.35 0Z" transform="translate(62.4 165.8) rotate(140)" fill="#a8cc9a"/>
<path d="M-3.2 0 Q0 -3.2 3.2 0 Q0 3.2 -3.2 0Z" transform="translate(58.1 222.3) rotate(162)" fill="#72a866"/>
<path d="M-2.85 0 Q0 -2.6 2.85 0 Q0 2.6 -2.85 0Z" transform="translate(81.0 158.3) rotate(77)" fill="#417a40"/>
<path d="M-3.8 0 Q0 -3.8 3.8 0 Q0 3.8 -3.8 0Z" transform="translate(35.1 159.9) rotate(72)" fill="#8cbc80"/>
<path d="M-3.05 0 Q0 -3.0 3.05 0 Q0 3.0 -3.05 0Z" transform="translate(43.8 209.3) rotate(160)" fill="#72a866"/>
<path d="M-2.25 0 Q0 -2.2 2.25 0 Q0 2.2 -2.25 0Z" transform="translate(24.4 194.8) rotate(71)" fill="#4a8446"/>
<path d="M-3.2 0 Q0 -3.2 3.2 0 Q0 3.2 -3.2 0Z" transform="translate(47.2 224.9) rotate(46)" fill="#8cbc80"/>
<path d="M-2.2 0 Q0 -2.0 2.2 0 Q0 2.0 -2.2 0Z" transform="translate(70.5 158.0) rotate(59)" fill="#72a866"/>
<path d="M-3.7 0 Q0 -3.2 3.7 0 Q0 3.2 -3.7 0Z" transform="translate(70.9 162.4) rotate(96)" fill="#417a40"/>
<path d="M-2.6 0 Q0 -2.2 2.6 0 Q0 2.2 -2.6 0Z" transform="translate(72.2 191.4) rotate(161)" fill="#72a866"/>
<path d="M-2.65 0 Q0 -2.0 2.65 0 Q0 2.0 -2.65 0Z" transform="translate(26.2 228.5) rotate(130)" fill="#417a40"/>
<path d="M-3.3 0 Q0 -3.0 3.3 0 Q0 3.0 -3.3 0Z" transform="translate(16.0 184.6) rotate(95)" fill="#2f5e30"/>
<path d="M-2.85 0 Q0 -2.8 2.85 0 Q0 2.8 -2.85 0Z" transform="translate(39.4 149.8) rotate(66)" fill="#72a866"/>
<path d="M-3.0 0 Q0 -3.0 3.0 0 Q0 3.0 -3.0 0Z" transform="translate(32.5 188.2) rotate(152)" fill="#417a40"/>
<path d="M-3.55 0 Q0 -3.2 3.55 0 Q0 3.2 -3.55 0Z" transform="translate(78.7 172.9) rotate(58)" fill="#5a9052"/>
<path d="M-3.8 0 Q0 -4.0 3.8 0 Q0 4.0 -3.8 0Z" transform="translate(57.5 212.8) rotate(178)" fill="#2f5e30"/>
<path d="M-3.95 0 Q0 -3.4 3.95 0 Q0 3.4 -3.95 0Z" transform="translate(43.8 210.5) rotate(34)" fill="#4a8446"/>
<path d="M-3.0 0 Q0 -2.4 3.0 0 Q0 2.4 -3.0 0Z" transform="translate(74.7 199.3) rotate(167)" fill="#4a8446"/>
<path d="M-2.3 0 Q0 -1.6 2.3 0 Q0 1.6 -2.3 0Z" transform="translate(22.0 202.6) rotate(168)" fill="#2f5e30"/>
<path d="M-2.25 0 Q0 -2.0 2.25 0 Q0 2.0 -2.25 0Z" transform="translate(38.1 184.1) rotate(44)" fill="#a8cc9a"/>
<path d="M-3.2 0 Q0 -2.8 3.2 0 Q0 2.8 -3.2 0Z" transform="translate(68.6 167.8) rotate(12)" fill="#4a8446"/>
<path d="M-2.6 0 Q0 -1.8 2.6 0 Q0 1.8 -2.6 0Z" transform="translate(67.8 223.1) rotate(18)" fill="#4a8446"/>
<path d="M-2.5 0 Q0 -2.6 2.5 0 Q0 2.6 -2.5 0Z" transform="translate(72.6 199.5) rotate(101)" fill="#a8cc9a"/>
<path d="M-3.7 0 Q0 -2.8 3.7 0 Q0 2.8 -3.7 0Z" transform="translate(57.2 231.2) rotate(164)" fill="#4a8446"/>
<path d="M-2.65 0 Q0 -2.4 2.65 0 Q0 2.4 -2.65 0Z" transform="translate(68.9 220.4) rotate(18)" fill="#8cbc80"/>
<path d="M-2.0 0 Q0 -1.8 2.0 0 Q0 1.8 -2.0 0Z" transform="translate(69.4 199.9) rotate(90)" fill="#417a40"/>
<path d="M-3.6 0 Q0 -3.4 3.6 0 Q0 3.4 -3.6 0Z" transform="translate(13.3 173.9) rotate(65)" fill="#8cbc80"/>
<path d="M-3.75 0 Q0 -3.2 3.75 0 Q0 3.2 -3.75 0Z" transform="translate(61.1 176.3) rotate(128)" fill="#2f5e30"/>
<path d="M-2.05 0 Q0 -2.0 2.05 0 Q0 2.0 -2.05 0Z" transform="translate(81.6 151.2) rotate(110)" fill="#5a9052"/>
<path d="M-2.1 0 Q0 -1.6 2.1 0 Q0 1.6 -2.1 0Z" transform="translate(29.8 191.4) rotate(23)" fill="#4a8446"/>
<path d="M-3.65 0 Q0 -3.0 3.65 0 Q0 3.0 -3.65 0Z" transform="translate(74.9 154.4) rotate(170)" fill="#4a8446"/>
<path d="M-2.95 0 Q0 -2.8 2.95 0 Q0 2.8 -2.95 0Z" transform="translate(81.1 190.9) rotate(88)" fill="#5a9052"/>
<path d="M-2.1 0 Q0 -1.8 2.1 0 Q0 1.8 -2.1 0Z" transform="translate(76.8 240.0) rotate(107)" fill="#88b47a"/>
<path d="M-1.9 0 Q0 -1.8 1.9 0 Q0 1.8 -1.9 0Z" transform="translate(39.2 182.7) rotate(3)" fill="#a4c894"/>
<path d="M-1.1 0 Q0 -1.2 1.1 0 Q0 1.2 -1.1 0Z" transform="translate(44.4 150.4) rotate(76)" fill="#a4c894"/>
<path d="M-1.95 0 Q0 -1.8 1.95 0 Q0 1.8 -1.95 0Z" transform="translate(56.3 189.8) rotate(6)" fill="#6a9a5e"/>
<path d="M-2.2 0 Q0 -2.0 2.2 0 Q0 2.0 -2.2 0Z" transform="translate(58.4 208.2) rotate(137)" fill="#6a9a5e"/>
<path d="M-2.2 0 Q0 -2.2 2.2 0 Q0 2.2 -2.2 0Z" transform="translate(79.8 175.3) rotate(147)" fill="#4a7e44"/>
<path d="M-1.55 0 Q0 -1.6 1.55 0 Q0 1.6 -1.55 0Z" transform="translate(62.5 205.3) rotate(33)" fill="#4a7e44"/>
<path d="M-1.65 0 Q0 -1.8 1.65 0 Q0 1.8 -1.65 0Z" transform="translate(49.8 213.3) rotate(15)" fill="#88b47a"/>
<path d="M-1.7 0 Q0 -2.0 1.7 0 Q0 2.0 -1.7 0Z" transform="translate(15.7 174.7) rotate(60)" fill="#6a9a5e"/>
<path d="M-2.1 0 Q0 -2.0 2.1 0 Q0 2.0 -2.1 0Z" transform="translate(75.1 200.6) rotate(39)" fill="#4a7e44"/>
<path d="M-1.9 0 Q0 -2.2 1.9 0 Q0 2.2 -1.9 0Z" transform="translate(20.4 224.0) rotate(43)" fill="#a4c894"/>
<path d="M-1.15 0 Q0 -1.0 1.15 0 Q0 1.0 -1.15 0Z" transform="translate(22.8 220.3) rotate(81)" fill="#335f30"/>
<path d="M-1.05 0 Q0 -1.2 1.05 0 Q0 1.2 -1.05 0Z" transform="translate(16.9 188.4) rotate(124)" fill="#4a7e44"/>
<path d="M-1.65 0 Q0 -2.0 1.65 0 Q0 2.0 -1.65 0Z" transform="translate(68.5 240.0) rotate(135)" fill="#6a9a5e"/>
<path d="M-1.6 0 Q0 -1.4 1.6 0 Q0 1.4 -1.6 0Z" transform="translate(14.1 224.5) rotate(48)" fill="#a4c894"/>
<path d="M-2.2 0 Q0 -2.0 2.2 0 Q0 2.0 -2.2 0Z" transform="translate(26.6 238.6) rotate(19)" fill="#a4c894"/>
<path d="M-1.7 0 Q0 -1.6 1.7 0 Q0 1.6 -1.7 0Z" transform="translate(57.8 215.0) rotate(18)" fill="#4a7e44"/>
<path d="M-1.45 0 Q0 -1.6 1.45 0 Q0 1.6 -1.45 0Z" transform="translate(75.2 191.1) rotate(146)" fill="#a4c894"/>
<path d="M-1.85 0 Q0 -2.2 1.85 0 Q0 2.2 -1.85 0Z" transform="translate(60.5 188.0) rotate(115)" fill="#4a7e44"/>
<path d="M-1.35 0 Q0 -1.6 1.35 0 Q0 1.6 -1.35 0Z" transform="translate(50.7 189.2) rotate(110)" fill="#335f30"/>
<path d="M-1.8 0 Q0 -1.6 1.8 0 Q0 1.6 -1.8 0Z" transform="translate(70.0 158.5) rotate(101)" fill="#5a8a50"/>
<path d="M-1.85 0 Q0 -1.8 1.85 0 Q0 1.8 -1.85 0Z" transform="translate(42.7 164.0) rotate(124)" fill="#335f30"/>
<path d="M-1.6 0 Q0 -1.6 1.6 0 Q0 1.6 -1.6 0Z" transform="translate(29.2 202.4) rotate(129)" fill="#335f30"/>
<path d="M-2.2 0 Q0 -2.4 2.2 0 Q0 2.4 -2.2 0Z" transform="translate(36.3 150.3) rotate(72)" fill="#5a8a50"/>
<path d="M-1.55 0 Q0 -1.6 1.55 0 Q0 1.6 -1.55 0Z" transform="translate(60.0 164.8) rotate(15)" fill="#b8d4a8"/>
<path d="M-2.25 0 Q0 -2.4 2.25 0 Q0 2.4 -2.25 0Z" transform="translate(32.1 205.9) rotate(32)" fill="#a4c894"/>
<path d="M-1.1 0 Q0 -1.2 1.1 0 Q0 1.2 -1.1 0Z" transform="translate(33.5 235.2) rotate(155)" fill="#88b47a"/>
<path d="M-1.55 0 Q0 -1.6 1.55 0 Q0 1.6 -1.55 0Z" transform="translate(39.0 149.7) rotate(123)" fill="#88b47a"/>
<path d="M-2.2 0 Q0 -2.0 2.2 0 Q0 2.0 -2.2 0Z" transform="translate(37.1 177.3) rotate(70)" fill="#88b47a"/>
<path d="M-1.95 0 Q0 -2.2 1.95 0 Q0 2.2 -1.95 0Z" transform="translate(74.2 212.8) rotate(97)" fill="#b8d4a8"/>
<path d="M-1.35 0 Q0 -1.6 1.35 0 Q0 1.6 -1.35 0Z" transform="translate(19.1 169.1) rotate(90)" fill="#335f30"/>
<path d="M-1.35 0 Q0 -1.4 1.35 0 Q0 1.4 -1.35 0Z" transform="translate(55.8 244.0) rotate(1)" fill="#335f30"/>
<path d="M-1.3 0 Q0 -1.6 1.3 0 Q0 1.6 -1.3 0Z" transform="translate(30.9 230.5) rotate(114)" fill="#335f30"/>
<path d="M-1.25 0 Q0 -1.2 1.25 0 Q0 1.2 -1.25 0Z" transform="translate(41.1 155.7) rotate(112)" fill="#5a8a50"/>
<path d="M-1.5 0 Q0 -1.6 1.5 0 Q0 1.6 -1.5 0Z" transform="translate(19.2 219.6) rotate(53)" fill="#335f30"/>
<path d="M-1.75 0 Q0 -1.4 1.75 0 Q0 1.4 -1.75 0Z" transform="translate(56.1 215.6) rotate(22)" fill="#b8d4a8"/>
<path d="M-1.75 0 Q0 -1.6 1.75 0 Q0 1.6 -1.75 0Z" transform="translate(25.6 149.9) rotate(132)" fill="#88b47a"/>
<path d="M-2.0 0 Q0 -1.6 2.0 0 Q0 1.6 -2.0 0Z" transform="translate(74.9 176.6) rotate(8)" fill="#5a8a50"/>
<path d="M-1.15 0 Q0 -1.0 1.15 0 Q0 1.0 -1.15 0Z" transform="translate(53.8 179.7) rotate(154)" fill="#4a7e44"/>
<path d="M-1.95 0 Q0 -1.8 1.95 0 Q0 1.8 -1.95 0Z" transform="translate(79.7 244.2) rotate(106)" fill="#88b47a"/>
<path d="M-1.25 0 Q0 -1.4 1.25 0 Q0 1.4 -1.25 0Z" transform="translate(58.8 199.6) rotate(133)" fill="#88b47a"/>
<path d="M-2.25 0 Q0 -1.8 2.25 0 Q0 1.8 -2.25 0Z" transform="translate(74.2 243.2) rotate(68)" fill="#5a8a50"/>
<path d="M-1.6 0 Q0 -1.6 1.6 0 Q0 1.6 -1.6 0Z" transform="translate(34.4 237.4) rotate(38)" fill="#b8d4a8"/>
<path d="M-1.5 0 Q0 -1.2 1.5 0 Q0 1.2 -1.5 0Z" transform="translate(49.9 168.4) rotate(57)" fill="#88b47a"/>
<path d="M-2.15 0 Q0 -2.0 2.15 0 Q0 2.0 -2.15 0Z" transform="translate(45.6 163.5) rotate(172)" fill="#335f30"/>
<path d="M-1.2 0 Q0 -1.4 1.2 0 Q0 1.4 -1.2 0Z" transform="translate(59.3 191.2) rotate(104)" fill="#335f30"/>
<path d="M-1.55 0 Q0 -1.6 1.55 0 Q0 1.6 -1.55 0Z" transform="translate(50.0 208.4) rotate(165)" fill="#4a7e44"/>
<path d="M-1.1 0 Q0 -1.2 1.1 0 Q0 1.2 -1.1 0Z" transform="translate(58.6 189.7) rotate(70)" fill="#88b47a"/>
<path d="M-1.55 0 Q0 -1.4 1.55 0 Q0 1.4 -1.55 0Z" transform="translate(30.6 219.5) rotate(170)" fill="#b8d4a8"/>
<path d="M-1.35 0 Q0 -1.2 1.35 0 Q0 1.2 -1.35 0Z" transform="translate(61.9 212.8) rotate(108)" fill="#335f30"/>
<path d="M-1.6 0 Q0 -1.8 1.6 0 Q0 1.8 -1.6 0Z" transform="translate(64.8 226.7) rotate(167)" fill="#88b47a"/>
<path d="M-1.8 0 Q0 -1.6 1.8 0 Q0 1.6 -1.8 0Z" transform="translate(45.7 162.1) rotate(112)" fill="#5a8a50"/>
<path d="M-1.8 0 Q0 -2.0 1.8 0 Q0 2.0 -1.8 0Z" transform="translate(48.9 168.2) rotate(141)" fill="#6a9a5e"/>
<path d="M-1.6 0 Q0 -1.6 1.6 0 Q0 1.6 -1.6 0Z" transform="translate(31.5 175.6) rotate(142)" fill="#6a9a5e"/>
<path d="M-1.3 0 Q0 -1.4 1.3 0 Q0 1.4 -1.3 0Z" transform="translate(36.3 219.7) rotate(142)" fill="#a4c894"/>
<path d="M-2.2 0 Q0 -2.4 2.2 0 Q0 2.4 -2.2 0Z" transform="translate(23.6 214.9) rotate(20)" fill="#6a9a5e"/>
<path d="M-2.05 0 Q0 -1.6 2.05 0 Q0 1.6 -2.05 0Z" transform="translate(79.9 158.7) rotate(15)" fill="#5a8a50"/>
<path d="M-2.15 0 Q0 -1.8 2.15 0 Q0 1.8 -2.15 0Z" transform="translate(15.3 194.3) rotate(48)" fill="#a4c894"/>
<path d="M-1.8 0 Q0 -2.0 1.8 0 Q0 2.0 -1.8 0Z" transform="translate(52.5 244.3) rotate(36)" fill="#b8d4a8"/>
<path d="M-1.8 0 Q0 -1.6 1.8 0 Q0 1.6 -1.8 0Z" transform="translate(58.5 213.7) rotate(150)" fill="#88b47a"/>
<path d="M-1.2 0 Q0 -1.4 1.2 0 Q0 1.4 -1.2 0Z" transform="translate(17.2 212.3) rotate(0)" fill="#5a8a50"/>
<path d="M-1.95 0 Q0 -1.8 1.95 0 Q0 1.8 -1.95 0Z" transform="translate(39.6 152.4) rotate(8)" fill="#335f30"/>
<path d="M-1.45 0 Q0 -1.4 1.45 0 Q0 1.4 -1.45 0Z" transform="translate(22.6 225.3) rotate(92)" fill="#88b47a"/>
<path d="M-1.55 0 Q0 -1.4 1.55 0 Q0 1.4 -1.55 0Z" transform="translate(13.6 196.2) rotate(129)" fill="#335f30"/>
<path d="M-2.0 0 Q0 -2.2 2.0 0 Q0 2.2 -2.0 0Z" transform="translate(70.4 168.2) rotate(26)" fill="#4a7e44"/>
<path d="M-1.15 0 Q0 -1.2 1.15 0 Q0 1.2 -1.15 0Z" transform="translate(69.6 212.9) rotate(135)" fill="#4a7e44"/>
<path d="M-1.65 0 Q0 -1.8 1.65 0 Q0 1.8 -1.65 0Z" transform="translate(68.9 198.7) rotate(168)" fill="#5a8a50"/>
<path d="M-1.8 0 Q0 -1.6 1.8 0 Q0 1.6 -1.8 0Z" transform="translate(27.2 154.2) rotate(105)" fill="#5a8a50"/>
<path d="M-1.15 0 Q0 -1.2 1.15 0 Q0 1.2 -1.15 0Z" transform="translate(78.7 236.8) rotate(64)" fill="#4a7e44"/>
<path d="M-1.4 0 Q0 -1.6 1.4 0 Q0 1.6 -1.4 0Z" transform="translate(59.8 184.7) rotate(128)" fill="#4a7e44"/>
<path d="M-1.55 0 Q0 -1.4 1.55 0 Q0 1.4 -1.55 0Z" transform="translate(38.5 233.9) rotate(99)" fill="#4a7e44"/>
<path d="M-2.2 0 Q0 -1.8 2.2 0 Q0 1.8 -2.2 0Z" transform="translate(36.1 202.7) rotate(23)" fill="#5a8a50"/>
<path d="M-1.8 0 Q0 -2.0 1.8 0 Q0 2.0 -1.8 0Z" transform="translate(23.5 202.5) rotate(80)" fill="#335f30"/>
<path d="M-1.45 0 Q0 -1.2 1.45 0 Q0 1.2 -1.45 0Z" transform="translate(24.2 234.3) rotate(127)" fill="#b8d4a8"/>
<path d="M-1.55 0 Q0 -1.6 1.55 0 Q0 1.6 -1.55 0Z" transform="translate(36.3 157.0) rotate(143)" fill="#88b47a"/>
<path d="M-1.8 0 Q0 -1.4 1.8 0 Q0 1.4 -1.8 0Z" transform="translate(49.7 184.6) rotate(102)" fill="#b8d4a8"/>
<path d="M-2.05 0 Q0 -2.4 2.05 0 Q0 2.4 -2.05 0Z" transform="translate(78.2 150.3) rotate(125)" fill="#335f30"/>
<path d="M-1.8 0 Q0 -2.0 1.8 0 Q0 2.0 -1.8 0Z" transform="translate(71.7 212.8) rotate(60)" fill="#88b47a"/>
<path d="M-1.2 0 Q0 -1.0 1.2 0 Q0 1.0 -1.2 0Z" transform="translate(56.7 237.7) rotate(95)" fill="#a4c894"/>
<path d="M-2.0 0 Q0 -2.0 2.0 0 Q0 2.0 -2.0 0Z" transform="translate(50.5 205.9) rotate(114)" fill="#a4c894"/>
<path d="M-1.75 0 Q0 -1.6 1.75 0 Q0 1.6 -1.75 0Z" transform="translate(40.6 219.7) rotate(61)" fill="#4a7e44"/>
<path d="M-2.0 0 Q0 -2.0 2.0 0 Q0 2.0 -2.0 0Z" transform="translate(69.3 234.5) rotate(158)" fill="#88b47a"/>
<path d="M-2.0 0 Q0 -2.2 2.0 0 Q0 2.2 -2.0 0Z" transform="translate(37.2 237.8) rotate(152)" fill="#6a9a5e"/>
<path d="M-1.75 0 Q0 -2.0 1.75 0 Q0 2.0 -1.75 0Z" transform="translate(25.2 149.8) rotate(66)" fill="#5a8a50"/>
<path d="M-1.8 0 Q0 -2.0 1.8 0 Q0 2.0 -1.8 0Z" transform="translate(30.0 157.1) rotate(46)" fill="#4a7e44"/>
<path d="M-2.25 0 Q0 -2.6 2.25 0 Q0 2.6 -2.25 0Z" transform="translate(80.1 214.7) rotate(27)" fill="#b8d4a8"/>
<path d="M-1.5 0 Q0 -1.4 1.5 0 Q0 1.4 -1.5 0Z" transform="translate(35.2 222.8) rotate(40)" fill="#88b47a"/>
<path d="M-1.45 0 Q0 -1.4 1.45 0 Q0 1.4 -1.45 0Z" transform="translate(71.6 153.0) rotate(142)" fill="#335f30"/>
<path d="M-1.25 0 Q0 -1.4 1.25 0 Q0 1.4 -1.25 0Z" transform="translate(17.5 160.4) rotate(51)" fill="#4a7e44"/>
<path d="M-1.85 0 Q0 -1.8 1.85 0 Q0 1.8 -1.85 0Z" transform="translate(37.5 157.8) rotate(103)" fill="#b8d4a8"/>
<path d="M-2.25 0 Q0 -2.0 2.25 0 Q0 2.0 -2.25 0Z" transform="translate(69.0 237.0) rotate(102)" fill="#88b47a"/>
<path d="M-1.35 0 Q0 -1.4 1.35 0 Q0 1.4 -1.35 0Z" transform="translate(75.2 220.4) rotate(139)" fill="#5a8a50"/>
<path d="M-1.05 0 Q0 -1.0 1.05 0 Q0 1.0 -1.05 0Z" transform="translate(24.2 210.1) rotate(71)" fill="#b8d4a8"/>
<path d="M-1.9 0 Q0 -2.2 1.9 0 Q0 2.2 -1.9 0Z" transform="translate(16.0 194.3) rotate(153)" fill="#88b47a"/>
<path d="M-1.2 0 Q0 -1.2 1.2 0 Q0 1.2 -1.2 0Z" transform="translate(66.8 200.7) rotate(127)" fill="#6a9a5e"/>
<path d="M-1.15 0 Q0 -1.4 1.15 0 Q0 1.4 -1.15 0Z" transform="translate(73.6 203.9) rotate(106)" fill="#5a8a50"/>
<path d="M-1.6 0 Q0 -1.6 1.6 0 Q0 1.6 -1.6 0Z" transform="translate(13.2 174.1) rotate(153)" fill="#88b47a"/>
<path d="M-1.9 0 Q0 -2.2 1.9 0 Q0 2.2 -1.9 0Z" transform="translate(42.1 167.5) rotate(175)" fill="#5a8a50"/>
<path d="M-2.1 0 Q0 -1.8 2.1 0 Q0 1.8 -2.1 0Z" transform="translate(41.1 241.4) rotate(150)" fill="#4a7e44"/>
<path d="M-1.85 0 Q0 -1.8 1.85 0 Q0 1.8 -1.85 0Z" transform="translate(28.0 148.7) rotate(75)" fill="#4a7e44"/>
<path d="M-2.2 0 Q0 -2.4 2.2 0 Q0 2.4 -2.2 0Z" transform="translate(41.4 167.2) rotate(162)" fill="#335f30"/>
<path d="M-1.45 0 Q0 -1.6 1.45 0 Q0 1.6 -1.45 0Z" transform="translate(62.7 148.3) rotate(5)" fill="#88b47a"/>
<path d="M-2.1 0 Q0 -2.4 2.1 0 Q0 2.4 -2.1 0Z" transform="translate(61.3 203.9) rotate(160)" fill="#4a7e44"/>
<path d="M-1.15 0 Q0 -1.0 1.15 0 Q0 1.0 -1.15 0Z" transform="translate(31.6 222.9) rotate(35)" fill="#335f30"/>
<path d="M-2.05 0 Q0 -2.2 2.05 0 Q0 2.2 -2.05 0Z" transform="translate(81.9 239.6) rotate(79)" fill="#6a9a5e"/>
<path d="M-2.0 0 Q0 -1.6 2.0 0 Q0 1.6 -2.0 0Z" transform="translate(47.3 197.3) rotate(8)" fill="#b8d4a8"/>
<path d="M-2.05 0 Q0 -2.0 2.05 0 Q0 2.0 -2.05 0Z" transform="translate(24.8 179.1) rotate(148)" fill="#a4c894"/>
<path d="M-1.75 0 Q0 -1.4 1.75 0 Q0 1.4 -1.75 0Z" transform="translate(40.7 178.4) rotate(136)" fill="#a4c894"/>
<path d="M-2.05 0 Q0 -2.4 2.05 0 Q0 2.4 -2.05 0Z" transform="translate(50.9 212.6) rotate(147)" fill="#88b47a"/>
<path d="M-1.35 0 Q0 -1.6 1.35 0 Q0 1.6 -1.35 0Z" transform="translate(38.2 167.8) rotate(149)" fill="#b8d4a8"/>
<path d="M-1.4 0 Q0 -1.6 1.4 0 Q0 1.6 -1.4 0Z" transform="translate(80.3 208.4) rotate(40)" fill="#4a7e44"/>
<path d="M-1.1 0 Q0 -1.0 1.1 0 Q0 1.0 -1.1 0Z" transform="translate(58.0 151.3) rotate(114)" fill="#88b47a"/>
<path d="M-1.25 0 Q0 -1.0 1.25 0 Q0 1.0 -1.25 0Z" transform="translate(60.7 235.6) rotate(92)" fill="#4a7e44"/>
<path d="M-1.7 0 Q0 -1.6 1.7 0 Q0 1.6 -1.7 0Z" transform="translate(26.9 215.3) rotate(120)" fill="#88b47a"/>
<path d="M-1.1 0 Q0 -1.2 1.1 0 Q0 1.2 -1.1 0Z" transform="translate(31.4 185.7) rotate(162)" fill="#335f30"/>
<path d="M-1.65 0 Q0 -1.6 1.65 0 Q0 1.6 -1.65 0Z" transform="translate(36.6 241.0) rotate(127)" fill="#a4c894"/>
<path d="M-1.45 0 Q0 -1.6 1.45 0 Q0 1.6 -1.45 0Z" transform="translate(30.9 164.0) rotate(140)" fill="#4a7e44"/>
<path d="M-1.9 0 Q0 -2.2 1.9 0 Q0 2.2 -1.9 0Z" transform="translate(69.4 184.1) rotate(86)" fill="#5a8a50"/>
<path d="M-1.25 0 Q0 -1.2 1.25 0 Q0 1.2 -1.25 0Z" transform="translate(63.2 150.4) rotate(42)" fill="#4a7e44"/>
<path d="M-2.15 0 Q0 -1.8 2.15 0 Q0 1.8 -2.15 0Z" transform="translate(75.9 162.3) rotate(156)" fill="#a4c894"/>
<path d="M-2.0 0 Q0 -2.2 2.0 0 Q0 2.2 -2.0 0Z" transform="translate(62.6 166.3) rotate(147)" fill="#88b47a"/>
<path d="M-1.15 0 Q0 -1.0 1.15 0 Q0 1.0 -1.15 0Z" transform="translate(65.7 191.7) rotate(143)" fill="#a4c894"/>
<path d="M-1.95 0 Q0 -2.2 1.95 0 Q0 2.2 -1.95 0Z" transform="translate(74.8 180.9) rotate(173)" fill="#b8d4a8"/>
<path d="M-1.25 0 Q0 -1.2 1.25 0 Q0 1.2 -1.25 0Z" transform="translate(33.6 232.8) rotate(121)" fill="#6a9a5e"/>
<path d="M-1.25 0 Q0 -1.0 1.25 0 Q0 1.0 -1.25 0Z" transform="translate(73.9 208.3) rotate(6)" fill="#5a8a50"/>
<path d="M-1.1 0 Q0 -1.0 1.1 0 Q0 1.0 -1.1 0Z" transform="translate(16.5 241.5) rotate(17)" fill="#88b47a"/>
<path d="M-1.4 0 Q0 -1.6 1.4 0 Q0 1.6 -1.4 0Z" transform="translate(49.3 181.3) rotate(45)" fill="#6a9a5e"/>
<path d="M-1.6 0 Q0 -1.8 1.6 0 Q0 1.8 -1.6 0Z" transform="translate(21.9 172.0) rotate(135)" fill="#335f30"/>
<path d="M-2.05 0 Q0 -1.8 2.05 0 Q0 1.8 -2.05 0Z" transform="translate(34.7 195.3) rotate(129)" fill="#88b47a"/>
<path d="M-1.25 0 Q0 -1.4 1.25 0 Q0 1.4 -1.25 0Z" transform="translate(49.9 174.0) rotate(122)" fill="#b8d4a8"/>
<path d="M-1.75 0 Q0 -1.6 1.75 0 Q0 1.6 -1.75 0Z" transform="translate(40.7 224.1) rotate(178)" fill="#4a7e44"/>
<path d="M-1.75 0 Q0 -2.0 1.75 0 Q0 2.0 -1.75 0Z" transform="translate(40.1 194.0) rotate(108)" fill="#5a8a50"/>
<path d="M-1.8 0 Q0 -1.4 1.8 0 Q0 1.4 -1.8 0Z" transform="translate(19.1 176.8) rotate(78)" fill="#88b47a"/>
<path d="M-2.15 0 Q0 -2.2 2.15 0 Q0 2.2 -2.15 0Z" transform="translate(63.2 185.8) rotate(146)" fill="#6a9a5e"/>
<path d="M-1.45 0 Q0 -1.2 1.45 0 Q0 1.2 -1.45 0Z" transform="translate(66.2 172.8) rotate(71)" fill="#b8d4a8"/>
<path d="M-1.3 0 Q0 -1.0 1.3 0 Q0 1.0 -1.3 0Z" transform="translate(42.1 178.9) rotate(135)" fill="#4a7e44"/>
<path d="M-1.5 0 Q0 -1.4 1.5 0 Q0 1.4 -1.5 0Z" transform="translate(60.6 237.0) rotate(93)" fill="#b8d4a8"/>
<path d="M-2.0 0 Q0 -2.2 2.0 0 Q0 2.2 -2.0 0Z" transform="translate(81.7 220.8) rotate(4)" fill="#6a9a5e"/>
<path d="M-1.2 0 Q0 -1.2 1.2 0 Q0 1.2 -1.2 0Z" transform="translate(18.6 202.8) rotate(54)" fill="#335f30"/>
<path d="M-1.35 0 Q0 -1.2 1.35 0 Q0 1.2 -1.35 0Z" transform="translate(64.6 170.7) rotate(42)" fill="#5a8a50"/>
<path d="M-1.0 0 Q0 -0.8 1.0 0 Q0 0.8 -1.0 0Z" transform="translate(41.7 193.3) rotate(83)" fill="#88b47a"/>
<path d="M-1.5 0 Q0 -1.8 1.5 0 Q0 1.8 -1.5 0Z" transform="translate(79.7 155.8) rotate(123)" fill="#6a9a5e"/>
<path d="M-1.9 0 Q0 -1.6 1.9 0 Q0 1.6 -1.9 0Z" transform="translate(51.0 152.3) rotate(171)" fill="#b8d4a8"/>
<path d="M-1.65 0 Q0 -2.0 1.65 0 Q0 2.0 -1.65 0Z" transform="translate(58.3 229.5) rotate(130)" fill="#4a7e44"/>
<path d="M-1.6 0 Q0 -1.6 1.6 0 Q0 1.6 -1.6 0Z" transform="translate(77.4 182.3) rotate(176)" fill="#6a9a5e"/>
<path d="M-1.85 0 Q0 -2.2 1.85 0 Q0 2.2 -1.85 0Z" transform="translate(21.6 169.5) rotate(2)" fill="#6a9a5e"/>
<path d="M-1.9 0 Q0 -1.8 1.9 0 Q0 1.8 -1.9 0Z" transform="translate(38.9 190.6) rotate(29)" fill="#b8d4a8"/>
<path d="M-2.0 0 Q0 -2.2 2.0 0 Q0 2.2 -2.0 0Z" transform="translate(21.3 229.3) rotate(96)" fill="#5a8a50"/>
<path d="M-1.5 0 Q0 -1.4 1.5 0 Q0 1.4 -1.5 0Z" transform="translate(58.7 196.6) rotate(122)" fill="#88b47a"/>
<path d="M-1.75 0 Q0 -1.8 1.75 0 Q0 1.8 -1.75 0Z" transform="translate(70.2 181.0) rotate(97)" fill="#335f30"/>
<path d="M-1.25 0 Q0 -1.2 1.25 0 Q0 1.2 -1.25 0Z" transform="translate(39.1 192.3) rotate(80)" fill="#6a9a5e"/>
<path d="M-2.25 0 Q0 -2.6 2.25 0 Q0 2.6 -2.25 0Z" transform="translate(47.7 173.8) rotate(18)" fill="#5a8a50"/>
<path d="M-1.8 0 Q0 -1.6 1.8 0 Q0 1.6 -1.8 0Z" transform="translate(43.9 234.7) rotate(175)" fill="#b8d4a8"/>
<path d="M-2.2 0 Q0 -2.4 2.2 0 Q0 2.4 -2.2 0Z" transform="translate(28.2 182.0) rotate(136)" fill="#a4c894"/>
<path d="M-1.1 0 Q0 -1.2 1.1 0 Q0 1.2 -1.1 0Z" transform="translate(40.0 235.3) rotate(112)" fill="#88b47a"/>
<path d="M-1.65 0 Q0 -1.6 1.65 0 Q0 1.6 -1.65 0Z" transform="translate(16.1 156.0) rotate(102)" fill="#b8d4a8"/>
<path d="M-1.1 0 Q0 -0.8 1.1 0 Q0 0.8 -1.1 0Z" transform="translate(23.1 177.1) rotate(53)" fill="#335f30"/>
<path d="M-2.25 0 Q0 -2.4 2.25 0 Q0 2.4 -2.25 0Z" transform="translate(47.0 182.6) rotate(1)" fill="#a4c894"/>
<path d="M-1.4 0 Q0 -1.2 1.4 0 Q0 1.2 -1.4 0Z" transform="translate(29.0 200.5) rotate(168)" fill="#4a7e44"/>
<path d="M-1.75 0 Q0 -1.6 1.75 0 Q0 1.6 -1.75 0Z" transform="translate(29.3 212.0) rotate(97)" fill="#6a9a5e"/>
<path d="M-1.6 0 Q0 -1.2 1.6 0 Q0 1.2 -1.6 0Z" transform="translate(40.6 215.5) rotate(169)" fill="#335f30"/>
<path d="M-2.25 0 Q0 -2.0 2.25 0 Q0 2.0 -2.25 0Z" transform="translate(66.1 180.2) rotate(153)" fill="#6a9a5e"/>
<path d="M-1.05 0 Q0 -1.2 1.05 0 Q0 1.2 -1.05 0Z" transform="translate(34.9 234.5) rotate(159)" fill="#a4c894"/>
<path d="M-2.1 0 Q0 -1.8 2.1 0 Q0 1.8 -2.1 0Z" transform="translate(36.8 223.8) rotate(74)" fill="#4a7e44"/>
<path d="M-1.5 0 Q0 -1.8 1.5 0 Q0 1.8 -1.5 0Z" transform="translate(68.3 224.3) rotate(44)" fill="#a4c894"/>
<path d="M-1.95 0 Q0 -1.8 1.95 0 Q0 1.8 -1.95 0Z" transform="translate(75.4 211.2) rotate(58)" fill="#88b47a"/>
<path d="M-1.25 0 Q0 -1.4 1.25 0 Q0 1.4 -1.25 0Z" transform="translate(36.5 175.6) rotate(148)" fill="#a4c894"/>
<path d="M-1.2 0 Q0 -1.4 1.2 0 Q0 1.4 -1.2 0Z" transform="translate(73.0 195.8) rotate(108)" fill="#5a8a50"/>
<path d="M-2.1 0 Q0 -1.8 2.1 0 Q0 1.8 -2.1 0Z" transform="translate(44.9 161.9) rotate(167)" fill="#5a8a50"/>
<path d="M-1.55 0 Q0 -1.6 1.55 0 Q0 1.6 -1.55 0Z" transform="translate(60.6 188.0) rotate(104)" fill="#88b47a"/>
<path d="M-2.05 0 Q0 -2.0 2.05 0 Q0 2.0 -2.05 0Z" transform="translate(53.4 184.8) rotate(101)" fill="#335f30"/>
<path d="M-1.15 0 Q0 -1.0 1.15 0 Q0 1.0 -1.15 0Z" transform="translate(80.2 173.3) rotate(115)" fill="#335f30"/>
<path d="M-1.7 0 Q0 -1.6 1.7 0 Q0 1.6 -1.7 0Z" transform="translate(62.8 163.1) rotate(109)" fill="#6a9a5e"/>
<path d="M-1.35 0 Q0 -1.4 1.35 0 Q0 1.4 -1.35 0Z" transform="translate(35.1 198.2) rotate(29)" fill="#335f30"/>
<path d="M-2.0 0 Q0 -2.0 2.0 0 Q0 2.0 -2.0 0Z" transform="translate(64.9 165.4) rotate(27)" fill="#6a9a5e"/>
<path d="M-1.75 0 Q0 -1.8 1.75 0 Q0 1.8 -1.75 0Z" transform="translate(54.0 181.8) rotate(176)" fill="#88b47a"/>
<path d="M-1.65 0 Q0 -1.6 1.65 0 Q0 1.6 -1.65 0Z" transform="translate(40.3 219.3) rotate(176)" fill="#a4c894"/>
<path d="M-1.95 0 Q0 -1.6 1.95 0 Q0 1.6 -1.95 0Z" transform="translate(25.5 160.8) rotate(174)" fill="#4a7e44"/>
<path d="M-1.0 0 Q0 -1.0 1.0 0 Q0 1.0 -1.0 0Z" transform="translate(24.0 192.8) rotate(32)" fill="#a4c894"/>
<path d="M-1.15 0 Q0 -1.0 1.15 0 Q0 1.0 -1.15 0Z" transform="translate(16.5 171.0) rotate(82)" fill="#5a8a50"/>
<path d="M-1.65 0 Q0 -1.8 1.65 0 Q0 1.8 -1.65 0Z" transform="translate(64.2 205.0) rotate(140)" fill="#6a9a5e"/>
<path d="M-1.05 0 Q0 -1.0 1.05 0 Q0 1.0 -1.05 0Z" transform="translate(81.0 203.8) rotate(78)" fill="#b8d4a8"/>
<path d="M-1.7 0 Q0 -2.0 1.7 0 Q0 2.0 -1.7 0Z" transform="translate(18.8 218.6) rotate(21)" fill="#6a9a5e"/>
<path d="M-1.65 0 Q0 -1.6 1.65 0 Q0 1.6 -1.65 0Z" transform="translate(27.3 204.6) rotate(63)" fill="#b8d4a8"/>
<path d="M-1.2 0 Q0 -1.2 1.2 0 Q0 1.2 -1.2 0Z" transform="translate(33.2 183.0) rotate(24)" fill="#b8d4a8"/>
<path d="M-1.15 0 Q0 -1.0 1.15 0 Q0 1.0 -1.15 0Z" transform="translate(45.8 194.4) rotate(21)" fill="#88b47a"/>
<path d="M-1.8 0 Q0 -2.0 1.8 0 Q0 2.0 -1.8 0Z" transform="translate(63.7 226.6) rotate(136)" fill="#6a9a5e"/>
<path d="M-1.9 0 Q0 -1.6 1.9 0 Q0 1.6 -1.9 0Z" transform="translate(72.3 183.3) rotate(38)" fill="#5a8a50"/>
<path d="M-1.05 0 Q0 -1.0 1.05 0 Q0 1.0 -1.05 0Z" transform="translate(26.2 156.3) rotate(28)" fill="#a4c894"/>
<path d="M-2.1 0 Q0 -2.2 2.1 0 Q0 2.2 -2.1 0Z" transform="translate(53.8 170.5) rotate(64)" fill="#335f30"/>
<path d="M-1.2 0 Q0 -1.0 1.2 0 Q0 1.0 -1.2 0Z" transform="translate(64.6 222.3) rotate(123)" fill="#b8d4a8"/>
<path d="M-1.45 0 Q0 -1.6 1.45 0 Q0 1.6 -1.45 0Z" transform="translate(35.0 148.1) rotate(2)" fill="#b8d4a8"/>
<path d="M-2.15 0 Q0 -1.8 2.15 0 Q0 1.8 -2.15 0Z" transform="translate(23.1 184.5) rotate(32)" fill="#5a8a50"/>
<path d="M-1.3 0 Q0 -1.4 1.3 0 Q0 1.4 -1.3 0Z" transform="translate(59.9 164.6) rotate(14)" fill="#88b47a"/>
<path d="M-2.15 0 Q0 -2.2 2.15 0 Q0 2.2 -2.15 0Z" transform="translate(31.2 190.8) rotate(71)" fill="#6a9a5e"/>
<path d="M-2.0 0 Q0 -2.2 2.0 0 Q0 2.2 -2.0 0Z" transform="translate(34.0 156.5) rotate(18)" fill="#b8d4a8"/>
<path d="M-1.75 0 Q0 -1.6 1.75 0 Q0 1.6 -1.75 0Z" transform="translate(40.3 164.1) rotate(91)" fill="#88b47a"/>
<path d="M-2.1 0 Q0 -2.4 2.1 0 Q0 2.4 -2.1 0Z" transform="translate(60.3 238.6) rotate(110)" fill="#6a9a5e"/>
<path d="M-1.9 0 Q0 -2.0 1.9 0 Q0 2.0 -1.9 0Z" transform="translate(29.6 171.4) rotate(13)" fill="#5a8a50"/>
<path d="M-1.85 0 Q0 -2.0 1.85 0 Q0 2.0 -1.85 0Z" transform="translate(14.8 204.3) rotate(110)" fill="#4a7e44"/>
<path d="M-1.25 0 Q0 -1.2 1.25 0 Q0 1.2 -1.25 0Z" transform="translate(23.5 223.3) rotate(12)" fill="#335f30"/>
<path d="M-1.85 0 Q0 -1.8 1.85 0 Q0 1.8 -1.85 0Z" transform="translate(13.9 167.0) rotate(8)" fill="#4a7e44"/>
<path d="M-2.0 0 Q0 -2.0 2.0 0 Q0 2.0 -2.0 0Z" transform="translate(14.3 220.0) rotate(147)" fill="#4a7e44"/>
<path d="M-1.8 0 Q0 -2.0 1.8 0 Q0 2.0 -1.8 0Z" transform="translate(68.0 229.2) rotate(132)" fill="#5a8a50"/>
<path d="M-1.05 0 Q0 -1.0 1.05 0 Q0 1.0 -1.05 0Z" transform="translate(72.6 172.7) rotate(135)" fill="#a4c894"/>
<path d="M-1.55 0 Q0 -1.4 1.55 0 Q0 1.4 -1.55 0Z" transform="translate(32.0 200.7) rotate(38)" fill="#5a8a50"/>
<path d="M-2.1 0 Q0 -2.0 2.1 0 Q0 2.0 -2.1 0Z" transform="translate(53.4 195.9) rotate(97)" fill="#5a8a50"/>
<path d="M-1.5 0 Q0 -1.6 1.5 0 Q0 1.6 -1.5 0Z" transform="translate(32.9 195.0) rotate(96)" fill="#6a9a5e"/>
<path d="M-1.0 0 Q0 -1.2 1.0 0 Q0 1.2 -1.0 0Z" transform="translate(48.5 176.5) rotate(135)" fill="#6a9a5e"/>
<path d="M-2.15 0 Q0 -2.0 2.15 0 Q0 2.0 -2.15 0Z" transform="translate(65.6 187.4) rotate(46)" fill="#88b47a"/>
<path d="M-2.1 0 Q0 -2.2 2.1 0 Q0 2.2 -2.1 0Z" transform="translate(13.2 229.5) rotate(5)" fill="#a4c894"/>
<path d="M-2.2 0 Q0 -2.6 2.2 0 Q0 2.6 -2.2 0Z" transform="translate(64.2 193.5) rotate(84)" fill="#a4c894"/>
<path d="M-1.6 0 Q0 -1.4 1.6 0 Q0 1.4 -1.6 0Z" transform="translate(21.2 243.3) rotate(94)" fill="#5a8a50"/>
<path d="M-1.3 0 Q0 -1.0 1.3 0 Q0 1.0 -1.3 0Z" transform="translate(81.5 167.7) rotate(13)" fill="#335f30"/>
<path d="M-1.55 0 Q0 -1.8 1.55 0 Q0 1.8 -1.55 0Z" transform="translate(69.3 176.4) rotate(91)" fill="#6a9a5e"/>
<path d="M-1.5 0 Q0 -1.4 1.5 0 Q0 1.4 -1.5 0Z" transform="translate(17.1 173.8) rotate(101)" fill="#335f30"/>
<path d="M-1.95 0 Q0 -2.0 1.95 0 Q0 2.0 -1.95 0Z" transform="translate(20.7 151.8) rotate(29)" fill="#88b47a"/>
<path d="M-1.95 0 Q0 -2.2 1.95 0 Q0 2.2 -1.95 0Z" transform="translate(81.7 206.5) rotate(104)" fill="#a4c894"/>
<path d="M-1.8 0 Q0 -1.6 1.8 0 Q0 1.6 -1.8 0Z" transform="translate(55.5 193.9) rotate(168)" fill="#6a9a5e"/>
<path d="M-1.9 0 Q0 -2.0 1.9 0 Q0 2.0 -1.9 0Z" transform="translate(24.5 204.3) rotate(93)" fill="#5a8a50"/>
<path d="M-2.15 0 Q0 -1.8 2.15 0 Q0 1.8 -2.15 0Z" transform="translate(13.1 225.5) rotate(35)" fill="#4a7e44"/>
<path d="M-1.4 0 Q0 -1.4 1.4 0 Q0 1.4 -1.4 0Z" transform="translate(60.1 186.9) rotate(54)" fill="#b8d4a8"/>
<path d="M-2.05 0 Q0 -2.4 2.05 0 Q0 2.4 -2.05 0Z" transform="translate(50.3 214.6) rotate(127)" fill="#88b47a"/>
<path d="M-1.5 0 Q0 -1.8 1.5 0 Q0 1.8 -1.5 0Z" transform="translate(60.7 181.7) rotate(156)" fill="#4a7e44"/>
<path d="M-1.55 0 Q0 -1.6 1.55 0 Q0 1.6 -1.55 0Z" transform="translate(21.9 180.8) rotate(175)" fill="#6a9a5e"/>
<path d="M-2.15 0 Q0 -2.6 2.15 0 Q0 2.6 -2.15 0Z" transform="translate(41.6 210.0) rotate(90)" fill="#335f30"/>
<path d="M-1.95 0 Q0 -1.8 1.95 0 Q0 1.8 -1.95 0Z" transform="translate(53.2 217.8) rotate(80)" fill="#a4c894"/>
<path d="M-1.55 0 Q0 -1.6 1.55 0 Q0 1.6 -1.55 0Z" transform="translate(72.2 188.2) rotate(83)" fill="#88b47a"/>
<path d="M-1.1 0 Q0 -0.8 1.1 0 Q0 0.8 -1.1 0Z" transform="translate(39.3 179.2) rotate(28)" fill="#335f30"/>
<path d="M-1.2 0 Q0 -1.4 1.2 0 Q0 1.4 -1.2 0Z" transform="translate(23.2 216.7) rotate(14)" fill="#88b47a"/>
<path d="M-2.0 0 Q0 -1.6 2.0 0 Q0 1.6 -2.0 0Z" transform="translate(58.0 240.9) rotate(0)" fill="#b8d4a8"/>
<path d="M-2.2 0 Q0 -2.6 2.2 0 Q0 2.6 -2.2 0Z" transform="translate(36.5 211.5) rotate(94)" fill="#6a9a5e"/>
<path d="M-2.0 0 Q0 -2.0 2.0 0 Q0 2.0 -2.0 0Z" transform="translate(47.1 150.7) rotate(17)" fill="#335f30"/>
<path d="M-2.1 0 Q0 -2.4 2.1 0 Q0 2.4 -2.1 0Z" transform="translate(39.8 229.8) rotate(156)" fill="#88b47a"/>
<path d="M-2.25 0 Q0 -2.0 2.25 0 Q0 2.0 -2.25 0Z" transform="translate(18.5 196.8) rotate(35)" fill="#88b47a"/>
<path d="M-1.7 0 Q0 -1.4 1.7 0 Q0 1.4 -1.7 0Z" transform="translate(46.1 149.8) rotate(101)" fill="#335f30"/>
<path d="M-1.3 0 Q0 -1.4 1.3 0 Q0 1.4 -1.3 0Z" transform="translate(35.8 172.3) rotate(40)" fill="#5a8a50"/>
<path d="M-1.95 0 Q0 -2.2 1.95 0 Q0 2.2 -1.95 0Z" transform="translate(21.5 181.5) rotate(53)" fill="#5a8a50"/>
<path d="M-1.9 0 Q0 -2.2 1.9 0 Q0 2.2 -1.9 0Z" transform="translate(13.9 214.9) rotate(167)" fill="#88b47a"/>
<path d="M-1.05 0 Q0 -1.2 1.05 0 Q0 1.2 -1.05 0Z" transform="translate(72.4 225.2) rotate(147)" fill="#6a9a5e"/>
<path d="M-1.95 0 Q0 -1.6 1.95 0 Q0 1.6 -1.95 0Z" transform="translate(70.3 179.4) rotate(90)" fill="#6a9a5e"/>
<path d="M-1.0 0 Q0 -1.2 1.0 0 Q0 1.2 -1.0 0Z" transform="translate(30.1 240.8) rotate(106)" fill="#4a7e44"/>
<path d="M-2.1 0 Q0 -2.2 2.1 0 Q0 2.2 -2.1 0Z" transform="translate(81.5 187.3) rotate(104)" fill="#b8d4a8"/>
<path d="M-1.85 0 Q0 -1.8 1.85 0 Q0 1.8 -1.85 0Z" transform="translate(72.2 178.2) rotate(134)" fill="#335f30"/>
<path d="M-1.35 0 Q0 -1.6 1.35 0 Q0 1.6 -1.35 0Z" transform="translate(51.8 177.2) rotate(1)" fill="#4a7e44"/>
<path d="M-1.25 0 Q0 -1.0 1.25 0 Q0 1.0 -1.25 0Z" transform="translate(36.4 215.4) rotate(48)" fill="#6a9a5e"/>
<path d="M-2.2 0 Q0 -2.6 2.2 0 Q0 2.6 -2.2 0Z" transform="translate(75.2 185.5) rotate(26)" fill="#a4c894"/>
<path d="M-1.55 0 Q0 -1.6 1.55 0 Q0 1.6 -1.55 0Z" transform="translate(55.3 182.9) rotate(30)" fill="#b8d4a8"/>
<path d="M-1.2 0 Q0 -1.0 1.2 0 Q0 1.0 -1.2 0Z" transform="translate(28.0 180.2) rotate(139)" fill="#6a9a5e"/>
<path d="M-1.85 0 Q0 -1.8 1.85 0 Q0 1.8 -1.85 0Z" transform="translate(81.6 238.3) rotate(91)" fill="#6a9a5e"/>
<path d="M-1.15 0 Q0 -1.2 1.15 0 Q0 1.2 -1.15 0Z" transform="translate(44.7 240.6) rotate(34)" fill="#5a8a50"/>
<path d="M-1.45 0 Q0 -1.6 1.45 0 Q0 1.6 -1.45 0Z" transform="translate(37.9 203.4) rotate(104)" fill="#88b47a"/>
<path d="M-1.05 0 Q0 -1.0 1.05 0 Q0 1.0 -1.05 0Z" transform="translate(41.7 234.2) rotate(160)" fill="#335f30"/>
<path d="M-1.25 0 Q0 -1.4 1.25 0 Q0 1.4 -1.25 0Z" transform="translate(41.0 155.0) rotate(23)" fill="#88b47a"/>
<path d="M-2.2 0 Q0 -2.6 2.2 0 Q0 2.6 -2.2 0Z" transform="translate(71.7 159.2) rotate(121)" fill="#4a7e44"/>
<path d="M-1.85 0 Q0 -1.8 1.85 0 Q0 1.8 -1.85 0Z" transform="translate(47.7 229.0) rotate(139)" fill="#335f30"/>
<path d="M-1.55 0 Q0 -1.8 1.55 0 Q0 1.8 -1.55 0Z" transform="translate(27.4 204.5) rotate(61)" fill="#335f30"/>
<path d="M-1.2 0 Q0 -1.2 1.2 0 Q0 1.2 -1.2 0Z" transform="translate(71.1 172.4) rotate(156)" fill="#a4c894"/>
<path d="M-1.75 0 Q0 -1.8 1.75 0 Q0 1.8 -1.75 0Z" transform="translate(39.1 178.5) rotate(60)" fill="#88b47a"/>
<path d="M-1.6 0 Q0 -1.6 1.6 0 Q0 1.6 -1.6 0Z" transform="translate(48.2 199.0) rotate(38)" fill="#a4c894"/>
<path d="M-2.15 0 Q0 -1.8 2.15 0 Q0 1.8 -2.15 0Z" transform="translate(77.1 226.1) rotate(14)" fill="#b8d4a8"/>
<path d="M-1.1 0 Q0 -1.2 1.1 0 Q0 1.2 -1.1 0Z" transform="translate(76.9 218.6) rotate(63)" fill="#6a9a5e"/>
<path d="M-2.2 0 Q0 -2.4 2.2 0 Q0 2.4 -2.2 0Z" transform="translate(67.5 184.7) rotate(70)" fill="#b8d4a8"/>
<path d="M-1.8 0 Q0 -1.4 1.8 0 Q0 1.4 -1.8 0Z" transform="translate(48.7 191.0) rotate(142)" fill="#a4c894"/>
<path d="M-1.85 0 Q0 -2.0 1.85 0 Q0 2.0 -1.85 0Z" transform="translate(53.7 157.0) rotate(49)" fill="#6a9a5e"/>
<path d="M-2.2 0 Q0 -1.8 2.2 0 Q0 1.8 -2.2 0Z" transform="translate(34.2 181.3) rotate(33)" fill="#335f30"/>
<path d="M-1.45 0 Q0 -1.4 1.45 0 Q0 1.4 -1.45 0Z" transform="translate(43.5 229.1) rotate(146)" fill="#a4c894"/>
<path d="M-2.2 0 Q0 -2.0 2.2 0 Q0 2.0 -2.2 0Z" transform="translate(24.6 206.3) rotate(28)" fill="#a4c894"/>
<path d="M-1.45 0 Q0 -1.8 1.45 0 Q0 1.8 -1.45 0Z" transform="translate(50.6 199.9) rotate(64)" fill="#a4c894"/>
<path d="M-1.55 0 Q0 -1.4 1.55 0 Q0 1.4 -1.55 0Z" transform="translate(51.4 196.9) rotate(109)" fill="#4a7e44"/>
<path d="M-1.3 0 Q0 -1.2 1.3 0 Q0 1.2 -1.3 0Z" transform="translate(64.3 177.5) rotate(142)" fill="#6a9a5e"/>
<path d="M-1.6 0 Q0 -1.2 1.6 0 Q0 1.2 -1.6 0Z" transform="translate(41.2 197.8) rotate(147)" fill="#4a7e44"/>
<path d="M-1.35 0 Q0 -1.4 1.35 0 Q0 1.4 -1.35 0Z" transform="translate(33.9 175.8) rotate(95)" fill="#a4c894"/>
<path d="M-1.55 0 Q0 -1.8 1.55 0 Q0 1.8 -1.55 0Z" transform="translate(51.1 148.8) rotate(159)" fill="#335f30"/>
<path d="M-1.15 0 Q0 -1.2 1.15 0 Q0 1.2 -1.15 0Z" transform="translate(57.1 243.2) rotate(107)" fill="#4a7e44"/>
<path d="M-1.0 0 Q0 -1.0 1.0 0 Q0 1.0 -1.0 0Z" transform="translate(70.5 234.2) rotate(80)" fill="#b8d4a8"/>
<path d="M-1.5 0 Q0 -1.8 1.5 0 Q0 1.8 -1.5 0Z" transform="translate(44.9 168.1) rotate(160)" fill="#6a9a5e"/>
<path d="M-2.1 0 Q0 -1.8 2.1 0 Q0 1.8 -2.1 0Z" transform="translate(26.1 189.1) rotate(109)" fill="#4a7e44"/>
<path d="M-1.3 0 Q0 -1.4 1.3 0 Q0 1.4 -1.3 0Z" transform="translate(43.9 186.8) rotate(149)" fill="#6a9a5e"/>
<path d="M-1.15 0 Q0 -1.2 1.15 0 Q0 1.2 -1.15 0Z" transform="translate(16.9 224.8) rotate(158)" fill="#88b47a"/>
<path d="M-1.25 0 Q0 -1.0 1.25 0 Q0 1.0 -1.25 0Z" transform="translate(41.5 204.2) rotate(68)" fill="#5a8a50"/>
<path d="M-2.05 0 Q0 -2.4 2.05 0 Q0 2.4 -2.05 0Z" transform="translate(75.1 189.1) rotate(114)" fill="#4a7e44"/>
<path d="M-1.7 0 Q0 -1.8 1.7 0 Q0 1.8 -1.7 0Z" transform="translate(72.8 224.7) rotate(1)" fill="#4a7e44"/>
<path d="M-1.1 0 Q0 -1.2 1.1 0 Q0 1.2 -1.1 0Z" transform="translate(80.6 234.2) rotate(96)" fill="#335f30"/>
<path d="M-2.05 0 Q0 -1.8 2.05 0 Q0 1.8 -2.05 0Z" transform="translate(55.0 197.6) rotate(54)" fill="#4a7e44"/>
<path d="M-1.85 0 Q0 -1.6 1.85 0 Q0 1.6 -1.85 0Z" transform="translate(14.2 189.1) rotate(171)" fill="#5a8a50"/>
<path d="M-1.05 0 Q0 -1.0 1.05 0 Q0 1.0 -1.05 0Z" transform="translate(39.7 207.8) rotate(63)" fill="#88b47a"/>
<path d="M-1.0 0 Q0 -1.2 1.0 0 Q0 1.2 -1.0 0Z" transform="translate(78.4 150.5) rotate(90)" fill="#6a9a5e"/>
<path d="M-1.25 0 Q0 -1.4 1.25 0 Q0 1.4 -1.25 0Z" transform="translate(41.7 184.1) rotate(32)" fill="#6a9a5e"/>
<path d="M-1.4 0 Q0 -1.2 1.4 0 Q0 1.2 -1.4 0Z" transform="translate(53.4 218.6) rotate(13)" fill="#5a8a50"/>
<path d="M-1.0 0 Q0 -1.0 1.0 0 Q0 1.0 -1.0 0Z" transform="translate(34.2 227.7) rotate(130)" fill="#335f30"/>
<path d="M-1.95 0 Q0 -2.2 1.95 0 Q0 2.2 -1.95 0Z" transform="translate(75.4 216.7) rotate(139)" fill="#4a7e44"/>
<path d="M-1.75 0 Q0 -1.8 1.75 0 Q0 1.8 -1.75 0Z" transform="translate(73.9 242.0) rotate(127)" fill="#5a8a50"/>
<path d="M-1.8 0 Q0 -2.2 1.8 0 Q0 2.2 -1.8 0Z" transform="translate(50.1 154.8) rotate(0)" fill="#88b47a"/>
<path d="M-2.25 0 Q0 -2.4 2.25 0 Q0 2.4 -2.25 0Z" transform="translate(35.9 200.7) rotate(40)" fill="#88b47a"/>
<path d="M-1.7 0 Q0 -1.8 1.7 0 Q0 1.8 -1.7 0Z" transform="translate(57.0 175.4) rotate(157)" fill="#6a9a5e"/>
<path d="M-1.55 0 Q0 -1.2 1.55 0 Q0 1.2 -1.55 0Z" transform="translate(65.4 240.6) rotate(76)" fill="#b8d4a8"/>
<path d="M-2.15 0 Q0 -1.8 2.15 0 Q0 1.8 -2.15 0Z" transform="translate(61.3 226.1) rotate(35)" fill="#6a9a5e"/>
<path d="M-2.25 0 Q0 -2.0 2.25 0 Q0 2.0 -2.25 0Z" transform="translate(31.8 226.7) rotate(110)" fill="#335f30"/>
<path d="M-1.5 0 Q0 -1.6 1.5 0 Q0 1.6 -1.5 0Z" transform="translate(24.7 242.3) rotate(22)" fill="#88b47a"/>
<path d="M-1.1 0 Q0 -1.0 1.1 0 Q0 1.0 -1.1 0Z" transform="translate(13.2 202.6) rotate(49)" fill="#335f30"/>
<path d="M-1.4 0 Q0 -1.6 1.4 0 Q0 1.6 -1.4 0Z" transform="translate(46.9 179.1) rotate(77)" fill="#335f30"/>
<path d="M-1.85 0 Q0 -2.2 1.85 0 Q0 2.2 -1.85 0Z" transform="translate(28.6 201.2) rotate(44)" fill="#6a9a5e"/>
<path d="M-2.05 0 Q0 -2.4 2.05 0 Q0 2.4 -2.05 0Z" transform="translate(59.6 181.9) rotate(96)" fill="#a4c894"/>
<path d="M-1.75 0 Q0 -1.6 1.75 0 Q0 1.6 -1.75 0Z" transform="translate(69.7 204.5) rotate(107)" fill="#335f30"/>
<path d="M-1.25 0 Q0 -1.4 1.25 0 Q0 1.4 -1.25 0Z" transform="translate(40.0 200.9) rotate(130)" fill="#6a9a5e"/>
<path d="M-1.75 0 Q0 -2.0 1.75 0 Q0 2.0 -1.75 0Z" transform="translate(43.0 182.9) rotate(163)" fill="#6a9a5e"/>
<path d="M-1.55 0 Q0 -1.6 1.55 0 Q0 1.6 -1.55 0Z" transform="translate(40.3 219.8) rotate(37)" fill="#b8d4a8"/>
<path d="M-1.15 0 Q0 -1.0 1.15 0 Q0 1.0 -1.15 0Z" transform="translate(59.2 206.5) rotate(4)" fill="#a4c894"/>
<path d="M-1.2 0 Q0 -1.0 1.2 0 Q0 1.0 -1.2 0Z" transform="translate(51.7 227.3) rotate(156)" fill="#4a7e44"/>
<path d="M-1.7 0 Q0 -1.6 1.7 0 Q0 1.6 -1.7 0Z" transform="translate(30.1 177.4) rotate(98)" fill="#b8d4a8"/>
<path d="M-1.4 0 Q0 -1.2 1.4 0 Q0 1.2 -1.4 0Z" transform="translate(80.8 207.9) rotate(174)" fill="#5a8a50"/>
<path d="M-1.45 0 Q0 -1.6 1.45 0 Q0 1.6 -1.45 0Z" transform="translate(39.4 151.5) rotate(157)" fill="#88b47a"/>
<path d="M-1.1 0 Q0 -1.0 1.1 0 Q0 1.0 -1.1 0Z" transform="translate(55.6 165.9) rotate(131)" fill="#b8d4a8"/>
<path d="M-1.95 0 Q0 -1.8 1.95 0 Q0 1.8 -1.95 0Z" transform="translate(61.2 221.7) rotate(142)" fill="#a4c894"/>
<path d="M-1.45 0 Q0 -1.2 1.45 0 Q0 1.2 -1.45 0Z" transform="translate(14.6 160.7) rotate(48)" fill="#88b47a"/>
<path d="M-1.55 0 Q0 -1.2 1.55 0 Q0 1.2 -1.55 0Z" transform="translate(13.8 214.9) rotate(85)" fill="#a4c894"/>
<path d="M-1.6 0 Q0 -1.8 1.6 0 Q0 1.8 -1.6 0Z" transform="translate(57.7 181.8) rotate(4)" fill="#4a7e44"/>
<path d="M-1.45 0 Q0 -1.2 1.45 0 Q0 1.2 -1.45 0Z" transform="translate(40.2 212.0) rotate(121)" fill="#6a9a5e"/>
<path d="M-1.4 0 Q0 -1.4 1.4 0 Q0 1.4 -1.4 0Z" transform="translate(32.4 218.5) rotate(28)" fill="#a4c894"/>
<path d="M-1.4 0 Q0 -1.4 1.4 0 Q0 1.4 -1.4 0Z" transform="translate(70.1 235.2) rotate(173)" fill="#4a7e44"/>
<path d="M-1.15 0 Q0 -1.4 1.15 0 Q0 1.4 -1.15 0Z" transform="translate(31.2 185.5) rotate(80)" fill="#a4c894"/>
<path d="M-1.4 0 Q0 -1.2 1.4 0 Q0 1.2 -1.4 0Z" transform="translate(38.6 169.7) rotate(80)" fill="#335f30"/>
<path d="M-1.05 0 Q0 -0.8 1.05 0 Q0 0.8 -1.05 0Z" transform="translate(66.9 168.1) rotate(175)" fill="#b8d4a8"/>
<path d="M-1.25 0 Q0 -1.0 1.25 0 Q0 1.0 -1.25 0Z" transform="translate(43.8 173.4) rotate(174)" fill="#b8d4a8"/>
<path d="M-1.1 0 Q0 -1.0 1.1 0 Q0 1.0 -1.1 0Z" transform="translate(61.6 238.4) rotate(82)" fill="#88b47a"/>
<path d="M-1.1 0 Q0 -1.4 1.1 0 Q0 1.4 -1.1 0Z" transform="translate(60.5 189.4) rotate(93)" fill="#335f30"/>
<path d="M-1.05 0 Q0 -1.0 1.05 0 Q0 1.0 -1.05 0Z" transform="translate(73.4 196.8) rotate(86)" fill="#a4c894"/>
<path d="M-1.4 0 Q0 -1.6 1.4 0 Q0 1.6 -1.4 0Z" transform="translate(58.6 212.4) rotate(26)" fill="#335f30"/>
<path d="M-2.15 0 Q0 -2.2 2.15 0 Q0 2.2 -2.15 0Z" transform="translate(42.4 168.0) rotate(128)" fill="#6a9a5e"/>
<path d="M-2.2 0 Q0 -2.4 2.2 0 Q0 2.4 -2.2 0Z" transform="translate(63.4 225.7) rotate(121)" fill="#5a8a50"/>
<path d="M-1.8 0 Q0 -2.2 1.8 0 Q0 2.2 -1.8 0Z" transform="translate(73.5 162.2) rotate(89)" fill="#335f30"/>
<path d="M-1.85 0 Q0 -2.2 1.85 0 Q0 2.2 -1.85 0Z" transform="translate(17.4 239.7) rotate(115)" fill="#88b47a"/>
<path d="M-1.9 0 Q0 -1.6 1.9 0 Q0 1.6 -1.9 0Z" transform="translate(50.6 222.8) rotate(173)" fill="#b8d4a8"/>
<path d="M-1.85 0 Q0 -1.8 1.85 0 Q0 1.8 -1.85 0Z" transform="translate(28.1 179.9) rotate(56)" fill="#a4c894"/>
<path d="M-1.5 0 Q0 -1.6 1.5 0 Q0 1.6 -1.5 0Z" transform="translate(44.6 225.8) rotate(163)" fill="#335f30"/>
<path d="M-1.25 0 Q0 -1.2 1.25 0 Q0 1.2 -1.25 0Z" transform="translate(15.0 243.3) rotate(31)" fill="#6a9a5e"/>
<path d="M-2.25 0 Q0 -2.6 2.25 0 Q0 2.6 -2.25 0Z" transform="translate(21.3 235.3) rotate(179)" fill="#5a8a50"/>
<path d="M-2.15 0 Q0 -2.0 2.15 0 Q0 2.0 -2.15 0Z" transform="translate(75.6 179.4) rotate(127)" fill="#6a9a5e"/>
<path d="M-1.6 0 Q0 -1.6 1.6 0 Q0 1.6 -1.6 0Z" transform="translate(47.2 199.5) rotate(149)" fill="#88b47a"/>
<path d="M-1.4 0 Q0 -1.4 1.4 0 Q0 1.4 -1.4 0Z" transform="translate(32.3 219.9) rotate(118)" fill="#88b47a"/>
<path d="M-2.15 0 Q0 -2.2 2.15 0 Q0 2.2 -2.15 0Z" transform="translate(26.5 162.3) rotate(73)" fill="#b8d4a8"/>
<path d="M-1.8 0 Q0 -1.8 1.8 0 Q0 1.8 -1.8 0Z" transform="translate(39.5 213.1) rotate(79)" fill="#4a7e44"/>
<path d="M-1.0 0 Q0 -0.8 1.0 0 Q0 0.8 -1.0 0Z" transform="translate(31.0 190.5) rotate(63)" fill="#6a9a5e"/>
<path d="M-1.15 0 Q0 -1.0 1.15 0 Q0 1.0 -1.15 0Z" transform="translate(64.4 184.5) rotate(37)" fill="#a4c894"/>
<path d="M-1.7 0 Q0 -2.0 1.7 0 Q0 2.0 -1.7 0Z" transform="translate(27.9 182.4) rotate(37)" fill="#88b47a"/>
<path d="M-2.15 0 Q0 -2.6 2.15 0 Q0 2.6 -2.15 0Z" transform="translate(62.6 184.2) rotate(44)" fill="#335f30"/>
<path d="M-1.05 0 Q0 -1.0 1.05 0 Q0 1.0 -1.05 0Z" transform="translate(36.1 152.5) rotate(79)" fill="#a4c894"/>
<path d="M-1.2 0 Q0 -1.4 1.2 0 Q0 1.4 -1.2 0Z" transform="translate(35.0 200.8) rotate(55)" fill="#b8d4a8"/>
<path d="M-1.1 0 Q0 -1.2 1.1 0 Q0 1.2 -1.1 0Z" transform="translate(60.4 159.8) rotate(25)" fill="#b8d4a8"/>
<path d="M-2.05 0 Q0 -2.4 2.05 0 Q0 2.4 -2.05 0Z" transform="translate(55.5 161.9) rotate(37)" fill="#335f30"/>
<path d="M-1.45 0 Q0 -1.6 1.45 0 Q0 1.6 -1.45 0Z" transform="translate(72.4 225.2) rotate(17)" fill="#b8d4a8"/>
<path d="M-1.3 0 Q0 -1.4 1.3 0 Q0 1.4 -1.3 0Z" transform="translate(49.0 183.1) rotate(176)" fill="#335f30"/>
<path d="M-1.1 0 Q0 -1.0 1.1 0 Q0 1.0 -1.1 0Z" transform="translate(60.3 208.1) rotate(131)" fill="#335f30"/>
<path d="M-1.4 0 Q0 -1.4 1.4 0 Q0 1.4 -1.4 0Z" transform="translate(16.5 217.8) rotate(6)" fill="#4a7e44"/>
<path d="M-2.05 0 Q0 -2.2 2.05 0 Q0 2.2 -2.05 0Z" transform="translate(68.0 202.8) rotate(90)" fill="#4a7e44"/>
<path d="M-1.95 0 Q0 -1.6 1.95 0 Q0 1.6 -1.95 0Z" transform="translate(79.6 197.0) rotate(91)" fill="#4a7e44"/>
<path d="M-1.9 0 Q0 -1.6 1.9 0 Q0 1.6 -1.9 0Z" transform="translate(16.5 224.5) rotate(55)" fill="#a4c894"/>
<path d="M-2.2 0 Q0 -1.8 2.2 0 Q0 1.8 -2.2 0Z" transform="translate(41.7 191.4) rotate(142)" fill="#b8d4a8"/>
<path d="M-1.2 0 Q0 -1.0 1.2 0 Q0 1.0 -1.2 0Z" transform="translate(41.7 173.9) rotate(22)" fill="#4a7e44"/>
<path d="M-1.1 0 Q0 -1.2 1.1 0 Q0 1.2 -1.1 0Z" transform="translate(70.7 188.3) rotate(144)" fill="#88b47a"/>
<path d="M-1.4 0 Q0 -1.2 1.4 0 Q0 1.2 -1.4 0Z" transform="translate(65.1 150.0) rotate(97)" fill="#88b47a"/>
<path d="M-2.0 0 Q0 -2.2 2.0 0 Q0 2.2 -2.0 0Z" transform="translate(73.3 202.8) rotate(137)" fill="#b8d4a8"/>
<path d="M-2.15 0 Q0 -2.0 2.15 0 Q0 2.0 -2.15 0Z" transform="translate(17.1 181.0) rotate(11)" fill="#b8d4a8"/>
<path d="M-1.2 0 Q0 -1.2 1.2 0 Q0 1.2 -1.2 0Z" transform="translate(13.9 206.5) rotate(148)" fill="#335f30"/>
<path d="M-2.15 0 Q0 -2.2 2.15 0 Q0 2.2 -2.15 0Z" transform="translate(30.3 228.1) rotate(143)" fill="#4a7e44"/>
<path d="M-1.25 0 Q0 -1.4 1.25 0 Q0 1.4 -1.25 0Z" transform="translate(67.2 231.9) rotate(111)" fill="#335f30"/>
<path d="M-1.75 0 Q0 -1.4 1.75 0 Q0 1.4 -1.75 0Z" transform="translate(67.8 186.5) rotate(128)" fill="#88b47a"/>
<path d="M-1.65 0 Q0 -1.8 1.65 0 Q0 1.8 -1.65 0Z" transform="translate(18.4 153.6) rotate(49)" fill="#b8d4a8"/>
<path d="M-1.6 0 Q0 -1.4 1.6 0 Q0 1.4 -1.6 0Z" transform="translate(40.4 186.3) rotate(15)" fill="#4a7e44"/>
<path d="M-1.0 0 Q0 -1.0 1.0 0 Q0 1.0 -1.0 0Z" transform="translate(64.6 227.1) rotate(165)" fill="#6a9a5e"/>
<path d="M-1.4 0 Q0 -1.4 1.4 0 Q0 1.4 -1.4 0Z" transform="translate(70.5 238.3) rotate(64)" fill="#4a7e44"/>
<path d="M-1.0 0 Q0 -1.0 1.0 0 Q0 1.0 -1.0 0Z" transform="translate(33.1 151.0) rotate(123)" fill="#4a7e44"/>
<path d="M-1.5 0 Q0 -1.8 1.5 0 Q0 1.8 -1.5 0Z" transform="translate(19.0 216.8) rotate(23)" fill="#5a8a50"/>
<path d="M-1.75 0 Q0 -1.4 1.75 0 Q0 1.4 -1.75 0Z" transform="translate(50.6 155.5) rotate(91)" fill="#a4c894"/>
<path d="M-1.1 0 Q0 -1.4 1.1 0 Q0 1.4 -1.1 0Z" transform="translate(58.1 164.5) rotate(9)" fill="#88b47a"/>
<path d="M-1.7 0 Q0 -1.4 1.7 0 Q0 1.4 -1.7 0Z" transform="translate(60.7 206.6) rotate(52)" fill="#335f30"/>
<path d="M-1.7 0 Q0 -1.8 1.7 0 Q0 1.8 -1.7 0Z" transform="translate(35.2 205.0) rotate(104)" fill="#88b47a"/>
<path d="M-1.35 0 Q0 -1.2 1.35 0 Q0 1.2 -1.35 0Z" transform="translate(65.1 225.8) rotate(166)" fill="#88b47a"/>
<path d="M-2.25 0 Q0 -2.0 2.25 0 Q0 2.0 -2.25 0Z" transform="translate(16.4 199.8) rotate(73)" fill="#b8d4a8"/>
<path d="M-1.05 0 Q0 -0.8 1.05 0 Q0 0.8 -1.05 0Z" transform="translate(23.7 160.4) rotate(171)" fill="#88b47a"/>
<path d="M-1.3 0 Q0 -1.0 1.3 0 Q0 1.0 -1.3 0Z" transform="translate(70.0 169.8) rotate(24)" fill="#335f30"/>
<path d="M-1.6 0 Q0 -1.6 1.6 0 Q0 1.6 -1.6 0Z" transform="translate(72.8 153.8) rotate(102)" fill="#a4c894"/>
<path d="M-1.8 0 Q0 -2.0 1.8 0 Q0 2.0 -1.8 0Z" transform="translate(64.9 229.1) rotate(157)" fill="#88b47a"/>
<path d="M-1.6 0 Q0 -1.8 1.6 0 Q0 1.8 -1.6 0Z" transform="translate(28.3 204.8) rotate(148)" fill="#6a9a5e"/>
<path d="M-1.6 0 Q0 -1.6 1.6 0 Q0 1.6 -1.6 0Z" transform="translate(61.3 158.2) rotate(170)" fill="#88b47a"/>
<path d="M-2.1 0 Q0 -2.2 2.1 0 Q0 2.2 -2.1 0Z" transform="translate(28.5 239.8) rotate(130)" fill="#88b47a"/>
<path d="M-1.8 0 Q0 -2.0 1.8 0 Q0 2.0 -1.8 0Z" transform="translate(46.0 188.5) rotate(79)" fill="#4a7e44"/>
<path d="M-2.05 0 Q0 -2.2 2.05 0 Q0 2.2 -2.05 0Z" transform="translate(21.0 194.4) rotate(53)" fill="#b8d4a8"/>
<path d="M-1.4 0 Q0 -1.2 1.4 0 Q0 1.2 -1.4 0Z" transform="translate(55.8 232.6) rotate(130)" fill="#5a8a50"/>
<path d="M-2.1 0 Q0 -1.8 2.1 0 Q0 1.8 -2.1 0Z" transform="translate(63.5 168.7) rotate(69)" fill="#5a8a50"/>
<path d="M-2.0 0 Q0 -2.0 2.0 0 Q0 2.0 -2.0 0Z" transform="translate(20.1 224.9) rotate(98)" fill="#a4c894"/>
<path d="M-1.05 0 Q0 -1.2 1.05 0 Q0 1.2 -1.05 0Z" transform="translate(16.0 182.5) rotate(132)" fill="#b8d4a8"/>
<path d="M-1.4 0 Q0 -1.6 1.4 0 Q0 1.6 -1.4 0Z" transform="translate(47.0 216.5) rotate(140)" fill="#88b47a"/>
<path d="M-1.3 0 Q0 -1.2 1.3 0 Q0 1.2 -1.3 0Z" transform="translate(25.0 153.6) rotate(147)" fill="#88b47a"/>
<path d="M-1.45 0 Q0 -1.6 1.45 0 Q0 1.6 -1.45 0Z" transform="translate(79.7 203.0) rotate(57)" fill="#335f30"/>
<path d="M-2.0 0 Q0 -1.8 2.0 0 Q0 1.8 -2.0 0Z" transform="translate(50.3 168.0) rotate(11)" fill="#4a7e44"/>
<path d="M-1.6 0 Q0 -1.8 1.6 0 Q0 1.8 -1.6 0Z" transform="translate(57.6 191.7) rotate(114)" fill="#88b47a"/>
<path d="M-2.05 0 Q0 -1.8 2.05 0 Q0 1.8 -2.05 0Z" transform="translate(68.1 179.7) rotate(29)" fill="#88b47a"/>
<path d="M-1.9 0 Q0 -2.2 1.9 0 Q0 2.2 -1.9 0Z" transform="translate(24.6 150.8) rotate(103)" fill="#335f30"/>
<path d="M-1.65 0 Q0 -2.0 1.65 0 Q0 2.0 -1.65 0Z" transform="translate(71.0 170.9) rotate(158)" fill="#a4c894"/>
<path d="M-1.3 0 Q0 -1.4 1.3 0 Q0 1.4 -1.3 0Z" transform="translate(71.0 226.7) rotate(53)" fill="#6a9a5e"/>
<path d="M-1.25 0 Q0 -1.4 1.25 0 Q0 1.4 -1.25 0Z" transform="translate(55.8 167.9) rotate(171)" fill="#4a7e44"/>
<path d="M-1.6 0 Q0 -1.4 1.6 0 Q0 1.4 -1.6 0Z" transform="translate(55.1 180.7) rotate(142)" fill="#a4c894"/>
<path d="M-1.75 0 Q0 -2.0 1.75 0 Q0 2.0 -1.75 0Z" transform="translate(73.8 196.0) rotate(159)" fill="#88b47a"/>
<path d="M-1.25 0 Q0 -1.4 1.25 0 Q0 1.4 -1.25 0Z" transform="translate(63.0 158.9) rotate(91)" fill="#5a8a50"/>
<path d="M-1.15 0 Q0 -1.0 1.15 0 Q0 1.0 -1.15 0Z" transform="translate(50.3 169.2) rotate(76)" fill="#4a7e44"/>
<path d="M-1.25 0 Q0 -1.4 1.25 0 Q0 1.4 -1.25 0Z" transform="translate(70.3 178.5) rotate(76)" fill="#88b47a"/>
<path d="M-1.2 0 Q0 -1.0 1.2 0 Q0 1.0 -1.2 0Z" transform="translate(45.0 149.9) rotate(23)" fill="#335f30"/>
<path d="M-1.0 0 Q0 -1.2 1.0 0 Q0 1.2 -1.0 0Z" transform="translate(75.9 197.0) rotate(88)" fill="#b8d4a8"/>
<path d="M-1.85 0 Q0 -1.6 1.85 0 Q0 1.6 -1.85 0Z" transform="translate(63.9 158.2) rotate(2)" fill="#5a8a50"/>
<path d="M-1.85 0 Q0 -1.8 1.85 0 Q0 1.8 -1.85 0Z" transform="translate(75.1 202.6) rotate(118)" fill="#a4c894"/>
<path d="M-2.0 0 Q0 -2.4 2.0 0 Q0 2.4 -2.0 0Z" transform="translate(34.2 243.9) rotate(32)" fill="#6a9a5e"/>
<path d="M-1.25 0 Q0 -1.4 1.25 0 Q0 1.4 -1.25 0Z" transform="translate(37.7 209.4) rotate(160)" fill="#6a9a5e"/>
<path d="M-1.3 0 Q0 -1.2 1.3 0 Q0 1.2 -1.3 0Z" transform="translate(25.2 150.7) rotate(178)" fill="#b8d4a8"/>
<path d="M-1.7 0 Q0 -1.4 1.7 0 Q0 1.4 -1.7 0Z" transform="translate(58.5 160.7) rotate(53)" fill="#88b47a"/>
<path d="M-1.7 0 Q0 -1.4 1.7 0 Q0 1.4 -1.7 0Z" transform="translate(66.3 176.9) rotate(127)" fill="#335f30"/>
<path d="M-1.6 0 Q0 -1.4 1.6 0 Q0 1.4 -1.6 0Z" transform="translate(63.9 245.0) rotate(156)" fill="#b8d4a8"/>
<path d="M-1.45 0 Q0 -1.4 1.45 0 Q0 1.4 -1.45 0Z" transform="translate(69.7 207.8) rotate(136)" fill="#6a9a5e"/>
<path d="M-1.3 0 Q0 -1.2 1.3 0 Q0 1.2 -1.3 0Z" transform="translate(80.8 153.4) rotate(106)" fill="#4a7e44"/>
<path d="M-7.0 0 Q0 -10 7.0 0 Q0 10 -7.0 0Z" transform="translate(22 158) rotate(30)" fill="#86b27c"/>
<path d="M-8.0 0 Q0 -10 8.0 0 Q0 10 -8.0 0Z" transform="translate(74 182) rotate(100)" fill="#7aaa70"/>
<path d="M-6.0 0 Q0 -8 6.0 0 Q0 8 -6.0 0Z" transform="translate(56 163) rotate(-30)" fill="#80b076"/>
<path d="M-6.0 0 Q0 -8 6.0 0 Q0 8 -6.0 0Z" transform="translate(70 160) rotate(20)" fill="#8cbc82"/>
<path d="M-5.0 0 Q0 -7.0 5.0 0 Q0 7.0 -5.0 0Z" transform="translate(36 160) rotate(0)" fill="#6e9e64"/>
<path d="M-6.0 0 Q0 -8 6.0 0 Q0 8 -6.0 0Z" transform="translate(18 190) rotate(80)" fill="#7eae72"/>
<path d="M-6.0 0 Q0 -8 6.0 0 Q0 8 -6.0 0Z" transform="translate(30 212) rotate(100)" fill="#6a9a60"/>
<path d="M-7.0 0 Q0 -10 7.0 0 Q0 10 -7.0 0Z" transform="translate(72 216) rotate(60)" fill="#6e9e64"/>
<path d="M-6.0 0 Q0 -8 6.0 0 Q0 8 -6.0 0Z" transform="translate(55 240) rotate(0)" fill="#5c9056"/>
<path d="M-6.0 0 Q0 -8 6.0 0 Q0 8 -6.0 0Z" transform="translate(24 232) rotate(120)" fill="#74a46a"/>
<path d="M-6.0 0 Q0 -8 6.0 0 Q0 8 -6.0 0Z" transform="translate(74 236) rotate(80)" fill="#5a8c52"/>
<path d="M-5.0 0 Q0 -6 5.0 0 Q0 6 -5.0 0Z" transform="translate(54 204) rotate(40)" fill="#88b87c"/>
<ellipse cx="62" cy="222" rx="4" ry="6.5" transform="rotate(10 62 222)" fill="#c6ca9c" opacity="1"/>
<ellipse cx="25" cy="197.5" rx="5.5" ry="3.2" transform="rotate(-15 25 197.5)" fill="#f2f4f0" opacity="1"/>
<ellipse cx="14" cy="195" rx="2" ry="5" transform="rotate(0 14 195)" fill="#e8ece4" opacity="1"/>
<ellipse cx="25" cy="234.5" rx="3.5" ry="2" transform="rotate(20 25 234.5)" fill="#eef0ea" opacity="1"/>
<ellipse cx="19" cy="191" rx="2" ry="1.5" transform="rotate(0 19 191)" fill="#e0e6dc" opacity="1"/>
<ellipse cx="18" cy="229" rx="2.5" ry="1.6" transform="rotate(0 18 229)" fill="#dfe6da" opacity="1"/>
<ellipse cx="25" cy="235" rx="3" ry="2" transform="rotate(20 25 235)" fill="#e4e8e0" opacity="1"/>
<ellipse cx="42.5" cy="150.5" rx="3.5" ry="2.2" transform="rotate(0 42.5 150.5)" fill="#8a6a50" opacity="1"/>
<ellipse cx="27.1" cy="171" rx="5.3" ry="5.3" fill="url(#ap2)"/>
<ellipse cx="23" cy="180.3" rx="5.2" ry="5.2" fill="url(#ap2)"/>
<ellipse cx="33.3" cy="179.2" rx="4.6" ry="4.8" fill="url(#ap2)"/>
<ellipse cx="41.2" cy="176.9" rx="5.7" ry="5.7" fill="url(#ap2)"/>
<ellipse cx="50.4" cy="172.4" rx="6.2" ry="6.2" fill="url(#ap2)"/>
<ellipse cx="61.7" cy="171" rx="5.5" ry="5.5" fill="url(#ap2)"/>
<ellipse cx="59.3" cy="158" rx="4.8" ry="5.2" fill="url(#ap2)"/>
<ellipse cx="44.2" cy="196" rx="6.2" ry="5.6" fill="url(#ap2)"/>
<ellipse cx="45.9" cy="206.6" rx="5.5" ry="5.3" fill="url(#ap2)"/>
<ellipse cx="41.5" cy="216.9" rx="4.8" ry="5.8" fill="url(#ap2)"/>
<ellipse cx="43.5" cy="227.2" rx="5.2" ry="5.2" fill="url(#ap2)"/>
<ellipse cx="40.8" cy="236" rx="5.2" ry="5" fill="url(#ap2)"/>
<ellipse cx="67.5" cy="200.6" rx="4.8" ry="4.8" fill="url(#ap2)"/>
<ellipse cx="76.4" cy="198.6" rx="5.2" ry="5.2" fill="url(#ap2)"/>
<ellipse cx="18.5" cy="216.2" rx="3.8" ry="3.8" fill="url(#ap2)"/>
<ellipse cx="16.2" cy="221.7" rx="3" ry="3" fill="url(#ap2)"/>
<ellipse cx="15.5" cy="243" rx="3" ry="3" fill="url(#ap2)"/>
<ellipse cx="31.2" cy="203" rx="2.2" ry="2.2" fill="url(#ap2)"/>
<ellipse cx="62" cy="208" rx="1.5" ry="1.5" fill="url(#ap2)"/>
<ellipse cx="66.8" cy="214.2" rx="1.4" ry="1.4" fill="url(#ap2)"/>
</g>
</g>
<g clip-path="url(#c3)">
<rect x="18" y="274" width="66" height="98" fill="#40775c"/>
<g filter="url(#soft2)">
<ellipse cx="72" cy="303" rx="11" ry="16" transform="rotate(0 72 303)" fill="#a8c080" opacity="1"/>
<ellipse cx="33" cy="294" rx="4" ry="9" transform="rotate(0 33 294)" fill="#a8bca0" opacity="1"/>
<ellipse cx="25" cy="360" rx="8" ry="12" transform="rotate(0 25 360)" fill="#6e8c58" opacity="1"/>
<ellipse cx="24" cy="315" rx="6" ry="14" transform="rotate(0 24 315)" fill="#3a6e5c" opacity="1"/>
<ellipse cx="62" cy="358" rx="16" ry="12" transform="rotate(0 62 358)" fill="#2f6048" opacity="1"/>
<ellipse cx="78" cy="282" rx="6" ry="8" transform="rotate(0 78 282)" fill="#2e6050" opacity="1"/>
<ellipse cx="78" cy="345" rx="6" ry="14" transform="rotate(0 78 345)" fill="#3c6e52" opacity="1"/>
</g>
<g filter="url(#soft)">
<path d="M-3.15 0 Q0 -2.8 3.15 0 Q0 2.8 -3.15 0Z" transform="translate(71.5 315.6) rotate(117)" fill="#5e9070"/>
<path d="M-2.8 0 Q0 -3.0 2.8 0 Q0 3.0 -2.8 0Z" transform="translate(81.4 293.3) rotate(91)" fill="#5e9070"/>
<path d="M-2.85 0 Q0 -2.4 2.85 0 Q0 2.4 -2.85 0Z" transform="translate(68.9 298.1) rotate(74)" fill="#5e9070"/>
<path d="M-2.7 0 Q0 -3.0 2.7 0 Q0 3.0 -2.7 0Z" transform="translate(69.4 286.6) rotate(77)" fill="#d2dca0"/>
<path d="M-2.85 0 Q0 -2.4 2.85 0 Q0 2.4 -2.85 0Z" transform="translate(81.9 311.8) rotate(10)" fill="#d2dca0"/>
<path d="M-1.65 0 Q0 -1.6 1.65 0 Q0 1.6 -1.65 0Z" transform="translate(83.9 333.5) rotate(118)" fill="#b0c880"/>
<path d="M-2.2 0 Q0 -2.4 2.2 0 Q0 2.4 -2.2 0Z" transform="translate(69.9 300.0) rotate(100)" fill="#7aa478"/>
<path d="M-1.55 0 Q0 -1.8 1.55 0 Q0 1.8 -1.55 0Z" transform="translate(60.4 289.5) rotate(135)" fill="#5e9070"/>
<path d="M-1.7 0 Q0 -1.8 1.7 0 Q0 1.8 -1.7 0Z" transform="translate(79.7 287.2) rotate(1)" fill="#7aa478"/>
<path d="M-1.9 0 Q0 -2.0 1.9 0 Q0 2.0 -1.9 0Z" transform="translate(63.0 294.1) rotate(82)" fill="#7aa478"/>
<path d="M-2.4 0 Q0 -2.8 2.4 0 Q0 2.8 -2.4 0Z" transform="translate(77.9 313.5) rotate(87)" fill="#c4d490"/>
<path d="M-3.05 0 Q0 -2.6 3.05 0 Q0 2.6 -3.05 0Z" transform="translate(69.0 303.0) rotate(157)" fill="#c4d490"/>
<path d="M-2.95 0 Q0 -3.4 2.95 0 Q0 3.4 -2.95 0Z" transform="translate(82.2 315.7) rotate(152)" fill="#b0c880"/>
<path d="M-2.45 0 Q0 -2.6 2.45 0 Q0 2.6 -2.45 0Z" transform="translate(81.4 320.5) rotate(159)" fill="#d2dca0"/>
<path d="M-2.5 0 Q0 -2.2 2.5 0 Q0 2.2 -2.5 0Z" transform="translate(68.4 305.1) rotate(158)" fill="#7aa478"/>
<path d="M-2.15 0 Q0 -2.6 2.15 0 Q0 2.6 -2.15 0Z" transform="translate(66.2 322.0) rotate(30)" fill="#b0c880"/>
<path d="M-3.4 0 Q0 -4.0 3.4 0 Q0 4.0 -3.4 0Z" transform="translate(81.5 300.0) rotate(31)" fill="#d2dca0"/>
<path d="M-3.1 0 Q0 -3.6 3.1 0 Q0 3.6 -3.1 0Z" transform="translate(79.1 305.7) rotate(156)" fill="#5e9070"/>
<path d="M-3.0 0 Q0 -3.4 3.0 0 Q0 3.4 -3.0 0Z" transform="translate(74.1 285.7) rotate(2)" fill="#7aa478"/>
<path d="M-2.65 0 Q0 -2.8 2.65 0 Q0 2.8 -2.65 0Z" transform="translate(57.7 297.5) rotate(36)" fill="#b0c880"/>
<path d="M-1.65 0 Q0 -1.8 1.65 0 Q0 1.8 -1.65 0Z" transform="translate(60.8 314.4) rotate(2)" fill="#7aa478"/>
<path d="M-1.5 0 Q0 -1.8 1.5 0 Q0 1.8 -1.5 0Z" transform="translate(83.9 318.0) rotate(74)" fill="#c4d490"/>
<path d="M-1.6 0 Q0 -1.2 1.6 0 Q0 1.2 -1.6 0Z" transform="translate(78.6 290.9) rotate(141)" fill="#5e9070"/>
<path d="M-2.25 0 Q0 -2.6 2.25 0 Q0 2.6 -2.25 0Z" transform="translate(61.6 289.6) rotate(133)" fill="#d2dca0"/>
<path d="M-3.15 0 Q0 -2.6 3.15 0 Q0 2.6 -3.15 0Z" transform="translate(83.1 321.7) rotate(1)" fill="#d2dca0"/>
<path d="M-1.75 0 Q0 -1.6 1.75 0 Q0 1.6 -1.75 0Z" transform="translate(72.9 300.3) rotate(61)" fill="#7aa478"/>
<path d="M-3.25 0 Q0 -3.2 3.25 0 Q0 3.2 -3.25 0Z" transform="translate(76.8 297.6) rotate(151)" fill="#d2dca0"/>
<path d="M-1.75 0 Q0 -2.0 1.75 0 Q0 2.0 -1.75 0Z" transform="translate(57.9 304.7) rotate(98)" fill="#7aa478"/>
<path d="M-1.5 0 Q0 -1.2 1.5 0 Q0 1.2 -1.5 0Z" transform="translate(64.4 320.9) rotate(27)" fill="#b0c880"/>
<path d="M-2.1 0 Q0 -2.4 2.1 0 Q0 2.4 -2.1 0Z" transform="translate(65.5 296.6) rotate(2)" fill="#7aa478"/>
<path d="M-3.4 0 Q0 -3.0 3.4 0 Q0 3.0 -3.4 0Z" transform="translate(72.4 312.6) rotate(137)" fill="#d2dca0"/>
<path d="M-2.2 0 Q0 -1.8 2.2 0 Q0 1.8 -2.2 0Z" transform="translate(59.6 332.9) rotate(175)" fill="#7aa478"/>
<path d="M-1.6 0 Q0 -1.4 1.6 0 Q0 1.4 -1.6 0Z" transform="translate(64.6 324.5) rotate(143)" fill="#5e9070"/>
<path d="M-2.75 0 Q0 -3.0 2.75 0 Q0 3.0 -2.75 0Z" transform="translate(59.7 329.8) rotate(152)" fill="#7aa478"/>
<path d="M-3.25 0 Q0 -3.2 3.25 0 Q0 3.2 -3.25 0Z" transform="translate(60.5 294.0) rotate(146)" fill="#d2dca0"/>
<path d="M-2.1 0 Q0 -2.0 2.1 0 Q0 2.0 -2.1 0Z" transform="translate(63.2 303.2) rotate(106)" fill="#7aa478"/>
<path d="M-2.3 0 Q0 -2.0 2.3 0 Q0 2.0 -2.3 0Z" transform="translate(78.2 306.2) rotate(138)" fill="#b0c880"/>
<path d="M-1.7 0 Q0 -1.4 1.7 0 Q0 1.4 -1.7 0Z" transform="translate(63.1 325.3) rotate(59)" fill="#b0c880"/>
<path d="M-1.95 0 Q0 -2.2 1.95 0 Q0 2.2 -1.95 0Z" transform="translate(79.2 290.6) rotate(170)" fill="#7aa478"/>
<path d="M-2.65 0 Q0 -2.2 2.65 0 Q0 2.2 -2.65 0Z" transform="translate(81.2 329.9) rotate(157)" fill="#c4d490"/>
<path d="M-2.2 0 Q0 -2.6 2.2 0 Q0 2.6 -2.2 0Z" transform="translate(27.2 365.3) rotate(51)" fill="#9cb070"/>
<path d="M-2.2 0 Q0 -2.6 2.2 0 Q0 2.6 -2.2 0Z" transform="translate(27.5 365.2) rotate(49)" fill="#9cb070"/>
<path d="M-2.4 0 Q0 -2.0 2.4 0 Q0 2.0 -2.4 0Z" transform="translate(31.1 369.8) rotate(2)" fill="#6e9a68"/>
<path d="M-1.7 0 Q0 -1.4 1.7 0 Q0 1.4 -1.7 0Z" transform="translate(19.2 364.5) rotate(122)" fill="#b8c088"/>
<path d="M-1.35 0 Q0 -1.2 1.35 0 Q0 1.2 -1.35 0Z" transform="translate(19.4 371.5) rotate(102)" fill="#c8c898"/>
<path d="M-1.45 0 Q0 -1.2 1.45 0 Q0 1.2 -1.45 0Z" transform="translate(31.7 347.2) rotate(164)" fill="#6e9a68"/>
<path d="M-2.25 0 Q0 -2.2 2.25 0 Q0 2.2 -2.25 0Z" transform="translate(30.0 356.9) rotate(111)" fill="#b8c088"/>
<path d="M-2.45 0 Q0 -2.4 2.45 0 Q0 2.4 -2.45 0Z" transform="translate(23.0 361.1) rotate(136)" fill="#b8c088"/>
<path d="M-1.35 0 Q0 -1.4 1.35 0 Q0 1.4 -1.35 0Z" transform="translate(29.1 359.8) rotate(154)" fill="#c8c898"/>
<path d="M-2.4 0 Q0 -2.6 2.4 0 Q0 2.6 -2.4 0Z" transform="translate(24.8 345.2) rotate(44)" fill="#6e9a68"/>
<path d="M-2.1 0 Q0 -1.8 2.1 0 Q0 1.8 -2.1 0Z" transform="translate(31.2 345.5) rotate(171)" fill="#d0d0a4"/>
<path d="M-1.85 0 Q0 -2.0 1.85 0 Q0 2.0 -1.85 0Z" transform="translate(19.4 363.9) rotate(121)" fill="#6e9a68"/>
<path d="M-2.2 0 Q0 -2.0 2.2 0 Q0 2.0 -2.2 0Z" transform="translate(31.4 349.5) rotate(80)" fill="#c8c898"/>
<path d="M-2.3 0 Q0 -2.4 2.3 0 Q0 2.4 -2.3 0Z" transform="translate(31.2 363.8) rotate(50)" fill="#6e9a68"/>
<path d="M-1.6 0 Q0 -1.8 1.6 0 Q0 1.8 -1.6 0Z" transform="translate(21.5 361.4) rotate(18)" fill="#6e9a68"/>
<path d="M-1.7 0 Q0 -1.6 1.7 0 Q0 1.6 -1.7 0Z" transform="translate(20.3 360.2) rotate(124)" fill="#c8c898"/>
<path d="M-2.05 0 Q0 -1.8 2.05 0 Q0 1.8 -2.05 0Z" transform="translate(19.1 368.9) rotate(125)" fill="#9cb070"/>
<path d="M-2.45 0 Q0 -2.0 2.45 0 Q0 2.0 -2.45 0Z" transform="translate(29.1 359.5) rotate(164)" fill="#9cb070"/>
<path d="M-1.3 0 Q0 -1.2 1.3 0 Q0 1.2 -1.3 0Z" transform="translate(20.8 356.4) rotate(101)" fill="#b8c088"/>
<path d="M-2.1 0 Q0 -2.2 2.1 0 Q0 2.2 -2.1 0Z" transform="translate(21.7 366.9) rotate(144)" fill="#6e9a68"/>
<path d="M-1.9 0 Q0 -2.2 1.9 0 Q0 2.2 -1.9 0Z" transform="translate(20.5 370.9) rotate(122)" fill="#c8c898"/>
<path d="M-1.45 0 Q0 -1.4 1.45 0 Q0 1.4 -1.45 0Z" transform="translate(30.5 351.6) rotate(46)" fill="#d0d0a4"/>
<path d="M-2.45 0 Q0 -2.8 2.45 0 Q0 2.8 -2.45 0Z" transform="translate(31.9 329.2) rotate(142)" fill="#b8c8a8"/>
<path d="M-1.55 0 Q0 -1.8 1.55 0 Q0 1.8 -1.55 0Z" transform="translate(28.0 312.8) rotate(78)" fill="#d0dcc8"/>
<path d="M-2.3 0 Q0 -2.8 2.3 0 Q0 2.8 -2.3 0Z" transform="translate(34.5 310.5) rotate(62)" fill="#8aac84"/>
<path d="M-1.4 0 Q0 -1.4 1.4 0 Q0 1.4 -1.4 0Z" transform="translate(38.7 302.0) rotate(138)" fill="#d0dcc8"/>
<path d="M-1.65 0 Q0 -2.0 1.65 0 Q0 2.0 -1.65 0Z" transform="translate(30.2 316.5) rotate(30)" fill="#8aac84"/>
<path d="M-2.2 0 Q0 -2.0 2.2 0 Q0 2.0 -2.2 0Z" transform="translate(38.8 306.8) rotate(161)" fill="#a8c090"/>
<path d="M-2.15 0 Q0 -2.4 2.15 0 Q0 2.4 -2.15 0Z" transform="translate(38.4 326.9) rotate(46)" fill="#b8c8a8"/>
<path d="M-2.05 0 Q0 -1.8 2.05 0 Q0 1.8 -2.05 0Z" transform="translate(30.8 307.3) rotate(178)" fill="#b8c8a8"/>
<path d="M-1.95 0 Q0 -1.8 1.95 0 Q0 1.8 -1.95 0Z" transform="translate(38.2 297.9) rotate(131)" fill="#d0dcc8"/>
<path d="M-1.25 0 Q0 -1.2 1.25 0 Q0 1.2 -1.25 0Z" transform="translate(33.2 316.8) rotate(88)" fill="#d0dcc8"/>
<path d="M-1.5 0 Q0 -1.6 1.5 0 Q0 1.6 -1.5 0Z" transform="translate(29.0 313.9) rotate(64)" fill="#a8c090"/>
<path d="M-1.5 0 Q0 -1.6 1.5 0 Q0 1.6 -1.5 0Z" transform="translate(37.3 325.9) rotate(85)" fill="#d0dcc8"/>
<path d="M-1.95 0 Q0 -2.0 1.95 0 Q0 2.0 -1.95 0Z" transform="translate(38.7 297.6) rotate(171)" fill="#b8c8a8"/>
<path d="M-1.35 0 Q0 -1.4 1.35 0 Q0 1.4 -1.35 0Z" transform="translate(31.6 306.9) rotate(54)" fill="#8aac84"/>
<path d="M-1.6 0 Q0 -1.8 1.6 0 Q0 1.8 -1.6 0Z" transform="translate(75.1 333.8) rotate(150)" fill="#6e9a70"/>
<path d="M-1.45 0 Q0 -1.6 1.45 0 Q0 1.6 -1.45 0Z" transform="translate(58.9 371.3) rotate(177)" fill="#b4c490"/>
<path d="M-1.4 0 Q0 -1.6 1.4 0 Q0 1.6 -1.4 0Z" transform="translate(73.0 341.8) rotate(80)" fill="#9cb47c"/>
<path d="M-1.3 0 Q0 -1.2 1.3 0 Q0 1.2 -1.3 0Z" transform="translate(60.3 333.2) rotate(127)" fill="#6e9a70"/>
<path d="M-1.55 0 Q0 -1.2 1.55 0 Q0 1.2 -1.55 0Z" transform="translate(72.1 356.8) rotate(95)" fill="#9cb47c"/>
<path d="M-1.0 0 Q0 -1.0 1.0 0 Q0 1.0 -1.0 0Z" transform="translate(70.6 332.6) rotate(65)" fill="#6e9a70"/>
<path d="M-1.35 0 Q0 -1.2 1.35 0 Q0 1.2 -1.35 0Z" transform="translate(72.5 331.0) rotate(155)" fill="#6e9a70"/>
<path d="M-1.75 0 Q0 -1.6 1.75 0 Q0 1.6 -1.75 0Z" transform="translate(58.3 369.6) rotate(41)" fill="#6e9a70"/>
<path d="M-1.3 0 Q0 -1.4 1.3 0 Q0 1.4 -1.3 0Z" transform="translate(80.9 356.2) rotate(87)" fill="#9cb47c"/>
<path d="M-1.45 0 Q0 -1.2 1.45 0 Q0 1.2 -1.45 0Z" transform="translate(64.7 356.7) rotate(117)" fill="#b4c490"/>
<path d="M-9.0 0 Q0 -9.0 9.0 0 Q0 9.0 -9.0 0Z" transform="translate(26 279) rotate(20)" fill="#4c8272"/>
<path d="M-17.0 0 Q0 -14 17.0 0 Q0 14 -17.0 0Z" transform="translate(24 305) rotate(85)" fill="#3a7060"/><path d="M-15.3 0 L15.3 0" transform="translate(24 305) rotate(85)" stroke="#4c8272" stroke-width="0.5"/>
<path d="M-12.0 0 Q0 -12 12.0 0 Q0 12 -12.0 0Z" transform="translate(26 334) rotate(75)" fill="#3c7262"/>
<path d="M-7.0 0 Q0 -10 7.0 0 Q0 10 -7.0 0Z" transform="translate(78 280) rotate(130)" fill="#2e6050"/>
<path d="M-14.0 0 Q0 -18 14.0 0 Q0 18 -14.0 0Z" transform="translate(56 363) rotate(20)" fill="#4a8060"/><path d="M-12.6 0 L12.6 0" transform="translate(56 363) rotate(20)" stroke="#5a9070" stroke-width="0.5"/>
<path d="M-10.0 0 Q0 -12 10.0 0 Q0 12 -10.0 0Z" transform="translate(62 343) rotate(30)" fill="#4c8262"/>
<path d="M-10.0 0 Q0 -10 10.0 0 Q0 10 -10.0 0Z" transform="translate(78 355) rotate(95)" fill="#3c6e52"/>
<path d="M-6.0 0 Q0 -7.0 6.0 0 Q0 7.0 -6.0 0Z" transform="translate(70 322) rotate(60)" fill="#5a8c6c"/>
<path d="M-6.0 0 Q0 -7.0 6.0 0 Q0 7.0 -6.0 0Z" transform="translate(33 360) rotate(110)" fill="#4a7c5a"/>
<g filter="url(#soft2)"><ellipse cx="33" cy="293" rx="3" ry="7" transform="rotate(10 33 293)" fill="#b8c8b0" opacity="1"/></g>
<ellipse cx="65.2" cy="337" rx="1.5" ry="1" transform="rotate(0 65.2 337)" fill="#e0e4dc" opacity="1"/>
<ellipse cx="47.8" cy="353" rx="1.2" ry="1" transform="rotate(0 47.8 353)" fill="#d8dcd0" opacity="1"/>
<ellipse cx="46" cy="284.5" rx="8" ry="8" fill="url(#ap3d)"/>
<path d="M18.5 286 L33 281.5" stroke="#3a3838" stroke-width="1.6" fill="none"/>
<path d="M41 276 L41.3 315" stroke="#4a4038" stroke-width="1.1" fill="none"/>
<ellipse cx="63.7" cy="281" rx="8.4" ry="7.2" fill="url(#ap3)"/>
<ellipse cx="49.7" cy="325.5" rx="9.5" ry="8.5" fill="url(#ap3)"/>
<ellipse cx="53.1" cy="306.3" rx="9.6" ry="8.8" fill="url(#ap3)"/>
<ellipse cx="42" cy="340.7" rx="8.5" ry="9.4" fill="url(#ap3)"/>
</g>
</g>
<path d="M112.6 11.8 H437.9 V114.2" fill="none" stroke="#666" stroke-width="1.1"/>
<path d="M112.6 11.8 V114.2 H437.9" fill="none" stroke="#333" stroke-width="1.1"/>
<line x1="108.2" y1="110.6" x2="112.6" y2="110.6" stroke="#333" stroke-width="1"/>
<text x="107.8" y="116.2" font-size="8.2" text-anchor="end" fill="#222" stroke="#222" stroke-width="0.12">0</text>
<line x1="108.2" y1="92.8" x2="112.6" y2="92.8" stroke="#333" stroke-width="1"/>
<text x="107.8" y="98.4" font-size="8.2" text-anchor="end" fill="#222" stroke="#222" stroke-width="0.12">20</text>
<line x1="108.2" y1="75" x2="112.6" y2="75" stroke="#333" stroke-width="1"/>
<text x="107.8" y="80.6" font-size="8.2" text-anchor="end" fill="#222" stroke="#222" stroke-width="0.12">40</text>
<line x1="108.2" y1="57.2" x2="112.6" y2="57.2" stroke="#333" stroke-width="1"/>
<text x="107.8" y="62.8" font-size="8.2" text-anchor="end" fill="#222" stroke="#222" stroke-width="0.12">60</text>
<line x1="108.2" y1="39.4" x2="112.6" y2="39.4" stroke="#333" stroke-width="1"/>
<text x="107.8" y="45" font-size="8.2" text-anchor="end" fill="#222" stroke="#222" stroke-width="0.12">80</text>
<line x1="108.2" y1="21.6" x2="112.6" y2="21.6" stroke="#333" stroke-width="1"/>
<text x="107.8" y="27.2" font-size="8.2" text-anchor="end" fill="#222" stroke="#222" stroke-width="0.12">100</text>
<line x1="110.1" y1="101.7" x2="112.6" y2="101.7" stroke="#333" stroke-width="1"/>
<line x1="110.1" y1="83.9" x2="112.6" y2="83.9" stroke="#333" stroke-width="1"/>
<line x1="110.1" y1="66.1" x2="112.6" y2="66.1" stroke="#333" stroke-width="1"/>
<line x1="110.1" y1="48.3" x2="112.6" y2="48.3" stroke="#333" stroke-width="1"/>
<line x1="110.1" y1="30.5" x2="112.6" y2="30.5" stroke="#333" stroke-width="1"/>
<line x1="110.1" y1="12.7" x2="112.6" y2="12.7" stroke="#333" stroke-width="1"/>
<line x1="113" y1="114.2" x2="113" y2="117.2" stroke="#333" stroke-width="1"/>
<line x1="168.9" y1="114.2" x2="168.9" y2="117.2" stroke="#333" stroke-width="1"/>
<line x1="224.8" y1="114.2" x2="224.8" y2="117.2" stroke="#333" stroke-width="1"/>
<line x1="280.7" y1="114.2" x2="280.7" y2="117.2" stroke="#333" stroke-width="1"/>
<line x1="336.6" y1="114.2" x2="336.6" y2="117.2" stroke="#333" stroke-width="1"/>
<line x1="392.5" y1="114.2" x2="392.5" y2="117.2" stroke="#333" stroke-width="1"/>
<line x1="140.95" y1="114.2" x2="140.95" y2="116.2" stroke="#333" stroke-width="1"/>
<line x1="196.85" y1="114.2" x2="196.85" y2="116.2" stroke="#333" stroke-width="1"/>
<line x1="252.75" y1="114.2" x2="252.75" y2="116.2" stroke="#333" stroke-width="1"/>
<line x1="308.65" y1="114.2" x2="308.65" y2="116.2" stroke="#333" stroke-width="1"/>
<line x1="364.55" y1="114.2" x2="364.55" y2="116.2" stroke="#333" stroke-width="1"/>
<line x1="420.45" y1="114.2" x2="420.45" y2="116.2" stroke="#333" stroke-width="1"/>
<text x="116.3" y="124.4" font-size="8.2" text-anchor="middle" fill="#222" stroke="#222" stroke-width="0.12">2.00</text>
<text x="172.2" y="124.4" font-size="8.2" text-anchor="middle" fill="#222" stroke="#222" stroke-width="0.12">4.00</text>
<text x="228.1" y="124.4" font-size="8.2" text-anchor="middle" fill="#222" stroke="#222" stroke-width="0.12">6.00</text>
<text x="284" y="124.4" font-size="8.2" text-anchor="middle" fill="#222" stroke="#222" stroke-width="0.12">8.00</text>
<text x="339.9" y="124.4" font-size="8.2" text-anchor="middle" fill="#222" stroke="#222" stroke-width="0.12">10.00</text>
<text x="395.8" y="124.4" font-size="8.2" text-anchor="middle" fill="#222" stroke="#222" stroke-width="0.12">12.00</text>
<text transform="translate(94.2,60.3) rotate(-90)" font-size="7.6" text-anchor="middle" fill="#222" textLength="61" lengthAdjust="spacingAndGlyphs">Peak height (mAU)</text>
<text x="250.1" y="137.6" font-size="7.6" fill="#222" textLength="77.9" lengthAdjust="spacingAndGlyphs">Retention time (minutes)</text>
<text x="116.5" y="25.4" font-size="10.5" font-weight="bold" fill="#111">a)</text>
<polyline points="113.5,110.8 114,110.8 114.5,110.8 115,110.8 115.5,110.8 116,110.8 116.5,110.8 117,110.8 117.5,110.8 118,110.8 118.5,110.8 119,110.8 119.5,110.8 120,110.8 120.5,110.79 121,110.78 121.5,110.76 122,110.7 122.5,110.61 123,110.45 123.5,110.2 124,109.86 124.5,109.43 125,108.94 125.5,108.48 126,108.11 126.5,107.92 127,107.94 127.5,108.17 128,108.57 128.5,109.04 129,109.52 129.5,109.94 130,110.26 130.5,110.49 131,110.63 131.5,110.72 132,110.76 132.5,110.78 133,110.79 133.5,110.79 134,110.79 134.5,110.77 135,110.73 135.5,110.65 136,110.5 136.5,110.26 137,109.87 137.5,109.34 138,108.67 138.5,107.92 139,107.2 139.5,106.63 140,106.33 140.5,106.36 141,106.72 141.5,107.33 142,108.07 142.5,108.81 143,109.46 143.5,109.96 144,110.31 144.5,110.54 145,110.66 145.5,110.7 146,110.64 146.5,110.47 147,110.15 147.5,109.68 148,109.19 148.5,108.83 149,108.73 149.5,108.86 150,109.04 150.5,109.06 151,108.87 151.5,108.62 152,108.54 152.5,108.76 153,109.23 153.5,109.77 154,110.19 154.5,110.39 155,110.31 155.5,109.87 156,108.89 156.5,107.02 157,103.8 157.5,98.7 158,91.28 158.5,81.44 159,69.57 159.5,56.79 160,44.77 160.5,35.49 161,30.65 161.5,31.2 162,37.04 162.5,47.02 163,59.34 163.5,72.06 164,83.59 164.5,92.96 165,99.89 165.5,104.58 166,107.49 166.5,109.15 167,110.04 167.5,110.47 168,110.66 168.5,110.73 169,110.73 169.5,110.68 170,110.57 170.5,110.37 171,110.09 171.5,109.71 172,109.3 172.5,108.92 173,108.67 173.5,108.6 174,108.75 174.5,109.06 175,109.47 175.5,109.87 176,110.21 176.5,110.46 177,110.62 177.5,110.71 178,110.75 178.5,110.76 179,110.73 179.5,110.66 180,110.53 180.5,110.32 181,110 181.5,109.58 182,109.07 182.5,108.54 183,108.06 183.5,107.72 184,107.6 184.5,107.72 185,108.06 185.5,108.54 186,109.07 186.5,109.58 187,110 187.5,110.32 188,110.53 188.5,110.66 189,110.73 189.5,110.77 190,110.79 190.5,110.79 191,110.79 191.5,110.79 192,110.76 192.5,110.68 193,110.5 193.5,110.11 194,109.38 194.5,108.18 195,106.48 195.5,104.43 196,102.39 196.5,100.87 197,100.3 197.5,100.87 198,102.39 198.5,104.42 199,106.46 199.5,108.11 200,109.2 200.5,109.67 201,109.53 201.5,108.7 202,107 202.5,104.19 203,100.06 203.5,94.64 204,88.29 204.5,81.76 205,76.12 205.5,72.46 206,71.56 206.5,73.62 207,78.19 207.5,84.33 208,90.9 208.5,96.95 209,101.88 209.5,105.46 210,107.81 210.5,109.16 211,109.77 211.5,109.84 212,109.47 212.5,108.77 213,107.85 213.5,106.89 214,106.13 214.5,105.72 215,105.72 215.5,105.98 216,106.25 216.5,106.29 217,105.96 217.5,105.3 218,104.51 218.5,103.85 219,103.56 219.5,103.76 220,104.44 220.5,105.48 221,106.67 221.5,107.84 222,108.83 222.5,109.59 223,110.11 223.5,110.43 224,110.6 224.5,110.67 225,110.66 225.5,110.58 226,110.44 226.5,110.23 227,109.96 227.5,109.65 228,109.34 228.5,109.08 229,108.93 229.5,108.91 230,109.04 230.5,109.28 231,109.58 231.5,109.9 232,110.18 232.5,110.41 233,110.57 233.5,110.68 234,110.74 234.5,110.77 235,110.79 235.5,110.79 236,110.8 236.5,110.8 237,110.8 237.5,110.8 238,110.8 238.5,110.8 239,110.8 239.5,110.8 240,110.8 240.5,110.8 241,110.8 241.5,110.79 242,110.78 242.5,110.76 243,110.73 243.5,110.67 244,110.57 244.5,110.42 245,110.23 245.5,109.98 246,109.71 246.5,109.42 247,109.17 247.5,108.98 248,108.9 248.5,108.94 249,109.08 249.5,109.31 250,109.59 250.5,109.88 251,110.14 251.5,110.35 252,110.52 252.5,110.63 253,110.71 253.5,110.75 254,110.77 254.5,110.78 255,110.78 255.5,110.76 256,110.73 256.5,110.67 257,110.57 257.5,110.42 258,110.22 258.5,109.96 259,109.65 259.5,109.34 260,109.05 260.5,108.82 261,108.71 261.5,108.72 262,108.86 262.5,109.1 263,109.4 263.5,109.72 264,110.01 264.5,110.26 265,110.45 265.5,110.59 266,110.68 266.5,110.74 267,110.77 267.5,110.79 268,110.79 268.5,110.8 269,110.8 269.5,110.8 270,110.8 270.5,110.8 271,110.8 271.5,110.8 272,110.8 272.5,110.8 273,110.79 273.5,110.78 274,110.76 274.5,110.73 275,110.67 275.5,110.56 276,110.41 276.5,110.18 277,109.9 277.5,109.56 278,109.2 278.5,108.86 279,108.58 279.5,108.43 280,108.41 280.5,108.54 281,108.8 281.5,109.13 282,109.49 282.5,109.84 283,110.13 283.5,110.37 284,110.54 284.5,110.65 285,110.72 285.5,110.76 286,110.78 286.5,110.79 287,110.8 287.5,110.8 288,110.8 288.5,110.8 289,110.8 289.5,110.8 290,110.8 290.5,110.79 291,110.77 291.5,110.73 292,110.64 292.5,110.48 293,110.22 293.5,109.86 294,109.44 294.5,109.04 295,108.77 295.5,108.69 296,108.83 296.5,109.13 297,109.46 297.5,109.71 298,109.81 298.5,109.72 299,109.51 299.5,109.28 300,109.11 300.5,109.11 301,109.27 301.5,109.57 302,109.91 302.5,110.22 303,110.46 303.5,110.63 304,110.72 304.5,110.77 305,110.79 305.5,110.8 306,110.8 306.5,110.8 307,110.8 307.5,110.79 308,110.77 308.5,110.72 309,110.57 309.5,110.21 310,109.48 310.5,108.15 311,106.02 311.5,103.09 312,99.67 312.5,96.43 313,94.2 313.5,93.64 314,94.92 314.5,97.65 315,101.06 315.5,104.34 316,106.94 316.5,108.68 317,109.6 317.5,109.88 318,109.68 318.5,109.18 319,108.58 319.5,108.13 320,108.01 320.5,108.28 321,108.84 321.5,109.49 322,110.04 322.5,110.42 323,110.64 323.5,110.74 324,110.77 324.5,110.76 325,110.71 325.5,110.59 326,110.35 326.5,109.93 327,109.3 327.5,108.49 328,107.6 328.5,106.85 329,106.44 329.5,106.48 330,106.95 330.5,107.67 331,108.4 331.5,108.9 332,109.03 332.5,108.83 333,108.47 333.5,108.19 334,108.18 334.5,108.45 335,108.86 335.5,109.11 336,108.93 336.5,108.17 337,106.85 337.5,105.21 338,103.71 338.5,102.83 339,102.86 339.5,103.7 340,104.88 340.5,105.72 341,105.5 341.5,103.57 342,99.38 342.5,92.49 343,82.71 343.5,70.34 344,56.33 344.5,42.35 345,30.53 345.5,22.97 346,21.12 346.5,25.37 347,34.86 347.5,47.81 348,62.05 348.5,75.59 349,87.07 349.5,95.88 350,102.05 350.5,106.01 351,108.35 351.5,109.63 352,110.28 352.5,110.58 353,110.72 353.5,110.77 354,110.79 354.5,110.8 355,110.8 355.5,110.79 356,110.78 356.5,110.75 357,110.67 357.5,110.49 358,110.11 358.5,109.43 359,108.31 359.5,106.71 360,104.69 360.5,102.53 361,100.65 361.5,99.5 362,99.39 362.5,100.35 363,102.12 363.5,104.26 364,106.33 364.5,108.02 365,109.22 365.5,109.94 366,110.28 366.5,110.32 367,110.12 367.5,109.73 368,109.21 368.5,108.66 369,108.21 369.5,108 370,108.08 370.5,108.41 371,108.85 371.5,109.2 372,109.28 372.5,108.92 373,108.01 373.5,106.55 374,104.68 374.5,102.71 375,101.07 375.5,100.18 376,100.29 376.5,101.36 377,103.11 377.5,105.12 378,106.99 378.5,108.49 379,109.52 379.5,110.16 380,110.51 380.5,110.68 381,110.74 381.5,110.75 382,110.7 382.5,110.58 383,110.32 383.5,109.83 384,109.01 384.5,107.76 385,106.07 385.5,104.06 386,101.99 386.5,100.24 387,99.18 387.5,99.08 388,99.96 388.5,101.6 389,103.64 389.5,105.69 390,107.46 390.5,108.79 391,109.69 391.5,110.24 392,110.54 392.5,110.68 393,110.72 393.5,110.71 394,110.63 394.5,110.49 395,110.27 395.5,109.98 396,109.64 396.5,109.32 397,109.09 397.5,109 398,109.09 398.5,109.32 399,109.64 399.5,109.98 400,110.27 400.5,110.49 401,110.64 401.5,110.72 402,110.77 402.5,110.79 403,110.8 403.5,110.8 404,110.8 404.5,110.8 405,110.8 405.5,110.8 406,110.8 406.5,110.8 407,110.8 407.5,110.8 408,110.8 408.5,110.8 409,110.8 409.5,110.8 410,110.8 410.5,110.8 411,110.8 411.5,110.8 412,110.8 412.5,110.8 413,110.8 413.5,110.8 414,110.8 414.5,110.8 415,110.79 415.5,110.78 416,110.74 416.5,110.63 417,110.36 417.5,109.82 418,108.83 418.5,107.24 419,105.06 419.5,102.52 420,100.11 420.5,98.45 421,98.03 421.5,98.98 422,101.02 422.5,103.55 423,106 423.5,107.95 424,109.29 424.5,110.08 425,110.49 425.5,110.68 426,110.76 426.5,110.79 427,110.8 427.5,110.8 428,110.8 428.5,110.8 429,110.8 429.5,110.8 430,110.8 430.5,110.8 431,110.8 431.5,110.8 432,110.8 432.5,110.8 433,110.8 433.5,110.8 434,110.8 434.5,110.8 435,110.8 435.5,110.8 436,110.8 436.5,110.8 437,110.8" fill="none" stroke="#ff5c5c" stroke-width="1.2" stroke-linejoin="round"/>
<text transform="translate(131.59,104) rotate(-90)" font-size="8.2" fill="#ff0d0d" stroke="#ff0d0d" stroke-width="0.15" textLength="25.5" lengthAdjust="spacingAndGlyphs">gallic acid</text>
<text transform="translate(152.49,104) rotate(-90)" font-size="8.2" fill="#ff0d0d" stroke="#ff0d0d" stroke-width="0.15" textLength="51" lengthAdjust="spacingAndGlyphs">protocatechuic acid</text>
<text transform="translate(174.79,102.8) rotate(-90)" font-size="8.2" fill="#ff0d0d" stroke="#ff0d0d" stroke-width="0.15" textLength="56.2" lengthAdjust="spacingAndGlyphs">p-aminobenzoic acid</text>
<text transform="translate(207.59,67.5) rotate(-90)" font-size="8.2" fill="#ff0d0d" stroke="#ff0d0d" stroke-width="0.15" textLength="43.1" lengthAdjust="spacingAndGlyphs">chlorogenic acid</text>
<text transform="translate(222.29,94.4) rotate(-90)" font-size="8.2" fill="#ff0d0d" stroke="#ff0d0d" stroke-width="0.15" textLength="22.1" lengthAdjust="spacingAndGlyphs">catechin</text>
<text transform="translate(264.29,101.5) rotate(-90)" font-size="8.2" fill="#ff0d0d" stroke="#ff0d0d" stroke-width="0.15" textLength="26.1" lengthAdjust="spacingAndGlyphs">caffeic acid</text>
<text transform="translate(285.79,106) rotate(-90)" font-size="8.2" fill="#ff0d0d" stroke="#ff0d0d" stroke-width="0.15" textLength="31.3" lengthAdjust="spacingAndGlyphs">epicatechin</text>
<text transform="translate(322.79,104.2) rotate(-90)" font-size="8.2" fill="#ff0d0d" stroke="#ff0d0d" stroke-width="0.15" textLength="19.7" lengthAdjust="spacingAndGlyphs">vanillin</text>
<text transform="translate(333.79,96.3) rotate(-90)" font-size="8.2" fill="#ff0d0d" stroke="#ff0d0d" stroke-width="0.15" textLength="43.3" lengthAdjust="spacingAndGlyphs">p-coumaric acid</text>
<text transform="translate(364.29,95.2) rotate(-90)" font-size="8.2" fill="#ff0d0d" stroke="#ff0d0d" stroke-width="0.15" textLength="33.6" lengthAdjust="spacingAndGlyphs">ferulic acid</text>
<text transform="translate(390.09,95.2) rotate(-90)" font-size="8.2" fill="#ff0d0d" stroke="#ff0d0d" stroke-width="0.15" textLength="27" lengthAdjust="spacingAndGlyphs">quercitrin</text>
<text transform="translate(423.29,91.1) rotate(-90)" font-size="8.2" fill="#ff0d0d" stroke="#ff0d0d" stroke-width="0.15" textLength="30.3" lengthAdjust="spacingAndGlyphs">resveratrol</text>
<text transform="translate(434.09,100.9) rotate(-90)" font-size="8.2" fill="#ff0d0d" stroke="#ff0d0d" stroke-width="0.15" textLength="27" lengthAdjust="spacingAndGlyphs">quercetin</text>
<text transform="translate(350.5,29.5) rotate(-23)" font-size="6.2" fill="#ff2020" textLength="14" lengthAdjust="spacingAndGlyphs">rutin</text>
<path d="M111.4 147.1 H436.9 V244" fill="none" stroke="#666" stroke-width="1.1"/>
<path d="M111.4 147.1 V244 H436.9" fill="none" stroke="#333" stroke-width="1.1"/>
<line x1="107" y1="236.8" x2="111.4" y2="236.8" stroke="#333" stroke-width="1"/>
<text x="106.6" y="242.4" font-size="8.2" text-anchor="end" fill="#222" stroke="#222" stroke-width="0.12">0</text>
<line x1="107" y1="218.35" x2="111.4" y2="218.35" stroke="#333" stroke-width="1"/>
<text x="106.6" y="223.95" font-size="8.2" text-anchor="end" fill="#222" stroke="#222" stroke-width="0.12">200</text>
<line x1="107" y1="199.9" x2="111.4" y2="199.9" stroke="#333" stroke-width="1"/>
<text x="106.6" y="205.5" font-size="8.2" text-anchor="end" fill="#222" stroke="#222" stroke-width="0.12">400</text>
<line x1="107" y1="181.45" x2="111.4" y2="181.45" stroke="#333" stroke-width="1"/>
<text x="106.6" y="187.05" font-size="8.2" text-anchor="end" fill="#222" stroke="#222" stroke-width="0.12">600</text>
<line x1="107" y1="163" x2="111.4" y2="163" stroke="#333" stroke-width="1"/>
<text x="106.6" y="168.6" font-size="8.2" text-anchor="end" fill="#222" stroke="#222" stroke-width="0.12">800</text>
<line x1="108.9" y1="227.58" x2="111.4" y2="227.58" stroke="#333" stroke-width="1"/>
<line x1="108.9" y1="209.12" x2="111.4" y2="209.12" stroke="#333" stroke-width="1"/>
<line x1="108.9" y1="190.68" x2="111.4" y2="190.68" stroke="#333" stroke-width="1"/>
<line x1="108.9" y1="172.23" x2="111.4" y2="172.23" stroke="#333" stroke-width="1"/>
<line x1="108.9" y1="153.78" x2="111.4" y2="153.78" stroke="#333" stroke-width="1"/>
<line x1="111.4" y1="244" x2="111.4" y2="247" stroke="#333" stroke-width="1"/>
<line x1="166.4" y1="244" x2="166.4" y2="247" stroke="#333" stroke-width="1"/>
<line x1="221.4" y1="244" x2="221.4" y2="247" stroke="#333" stroke-width="1"/>
<line x1="276.4" y1="244" x2="276.4" y2="247" stroke="#333" stroke-width="1"/>
<line x1="331.4" y1="244" x2="331.4" y2="247" stroke="#333" stroke-width="1"/>
<line x1="386.4" y1="244" x2="386.4" y2="247" stroke="#333" stroke-width="1"/>
<line x1="138.9" y1="244" x2="138.9" y2="246" stroke="#333" stroke-width="1"/>
<line x1="193.9" y1="244" x2="193.9" y2="246" stroke="#333" stroke-width="1"/>
<line x1="248.9" y1="244" x2="248.9" y2="246" stroke="#333" stroke-width="1"/>
<line x1="303.9" y1="244" x2="303.9" y2="246" stroke="#333" stroke-width="1"/>
<line x1="358.9" y1="244" x2="358.9" y2="246" stroke="#333" stroke-width="1"/>
<line x1="413.9" y1="244" x2="413.9" y2="246" stroke="#333" stroke-width="1"/>
<text x="113.4" y="252.6" font-size="8.2" text-anchor="middle" fill="#222" stroke="#222" stroke-width="0.12">2.00</text>
<text x="168.4" y="252.6" font-size="8.2" text-anchor="middle" fill="#222" stroke="#222" stroke-width="0.12">4.00</text>
<text x="223.4" y="252.6" font-size="8.2" text-anchor="middle" fill="#222" stroke="#222" stroke-width="0.12">6.00</text>
<text x="278.4" y="252.6" font-size="8.2" text-anchor="middle" fill="#222" stroke="#222" stroke-width="0.12">8.00</text>
<text x="333.4" y="252.6" font-size="8.2" text-anchor="middle" fill="#222" stroke="#222" stroke-width="0.12">10.00</text>
<text x="388.4" y="252.6" font-size="8.2" text-anchor="middle" fill="#222" stroke="#222" stroke-width="0.12">12.00</text>
<text transform="translate(91.2,195.3) rotate(-90)" font-size="7.6" text-anchor="middle" fill="#222" textLength="61" lengthAdjust="spacingAndGlyphs">Peak height (mAU)</text>
<text x="233.6" y="263.1" font-size="7.6" fill="#222" textLength="78.1" lengthAdjust="spacingAndGlyphs">Retention time (minutes)</text>
<text x="117.5" y="159.8" font-size="10.5" font-weight="bold" fill="#111">b)</text>
<polyline points="111.9,237.3 112.4,237.3 112.9,237.3 113.4,237.3 113.9,237.3 114.4,237.3 114.9,237.3 115.4,237.3 115.9,237.3 116.4,237.3 116.9,237.3 117.4,237.3 117.9,237.3 118.4,237.3 118.9,237.3 119.4,237.3 119.9,237.3 120.4,237.3 120.9,237.3 121.4,237.3 121.9,237.29 122.4,237.28 122.9,237.24 123.4,237.17 123.9,237.02 124.4,236.77 124.9,236.4 125.4,235.94 125.9,235.47 126.4,235.08 126.9,234.91 127.4,234.98 127.9,235.3 128.4,235.75 128.9,236.22 129.4,236.62 129.9,236.89 130.4,237 130.9,236.95 131.4,236.72 131.9,236.31 132.4,235.79 132.9,235.31 133.4,235.03 133.9,235.06 134.4,235.4 134.9,235.9 135.4,236.4 135.9,236.77 136.4,236.95 136.9,236.93 137.4,236.71 137.9,236.29 138.4,235.68 138.9,234.97 139.4,234.29 139.9,233.83 140.4,233.71 140.9,233.98 141.4,234.55 141.9,235.26 142.4,235.95 142.9,236.5 143.4,236.87 143.9,237.1 144.4,237.21 144.9,237.26 145.4,237.27 145.9,237.25 146.4,237.19 146.9,237.07 147.4,236.89 147.9,236.62 148.4,236.29 148.9,235.93 149.4,235.62 149.9,235.43 150.4,235.41 150.9,235.57 151.4,235.87 151.9,236.22 152.4,236.56 152.9,236.84 153.4,237.04 153.9,237.17 154.4,237.24 154.9,237.27 155.4,237.29 155.9,237.3 156.4,237.29 156.9,237.29 157.4,237.27 157.9,237.22 158.4,237.13 158.9,236.96 159.4,236.66 159.9,236.2 160.4,235.54 160.9,234.69 161.4,233.72 161.9,232.75 162.4,231.95 162.9,231.48 163.4,231.43 163.9,231.82 164.4,232.53 164.9,233.4 165.4,234.22 165.9,234.81 166.4,235.1 166.9,235.12 167.4,235.02 167.9,235.01 168.4,235.21 168.9,235.61 169.4,236.11 169.9,236.56 170.4,236.88 170.9,237.03 171.4,237.03 171.9,236.91 172.4,236.73 172.9,236.56 173.4,236.49 173.9,236.54 174.4,236.67 174.9,236.79 175.4,236.81 175.9,236.7 176.4,236.43 176.9,236.03 177.4,235.56 177.9,235.11 178.4,234.76 178.9,234.6 179.4,234.65 179.9,234.89 180.4,235.21 180.9,235.49 181.4,235.62 181.9,235.55 182.4,235.36 182.9,235.2 183.4,235.21 183.9,235.46 184.4,235.88 184.9,236.36 185.4,236.75 185.9,237.03 186.4,237.17 186.9,237.23 187.4,237.22 187.9,237.14 188.4,236.99 188.9,236.79 189.4,236.56 189.9,236.37 190.4,236.3 190.9,236.37 191.4,236.56 191.9,236.78 192.4,236.98 192.9,237.1 193.4,237.12 193.9,237.04 194.4,236.84 194.9,236.57 195.4,236.28 195.9,236.06 196.4,236 196.9,236.13 197.4,236.39 197.9,236.69 198.4,236.93 198.9,237.09 199.4,237.13 199.9,237.05 200.4,236.83 200.9,236.45 201.4,235.9 201.9,235.24 202.4,234.58 202.9,234.08 203.4,233.9 203.9,234.08 204.4,234.58 204.9,235.24 205.4,235.9 205.9,236.45 206.4,236.83 206.9,237.04 207.4,237.11 207.9,237.06 208.4,236.88 208.9,236.56 209.4,236.09 209.9,235.49 210.4,234.86 210.9,234.3 211.4,233.96 211.9,233.93 212.4,234.21 212.9,234.73 213.4,235.37 213.9,235.98 214.4,236.48 214.9,236.84 215.4,237.07 215.9,237.19 216.4,237.25 216.9,237.28 217.4,237.29 217.9,237.3 218.4,237.3 218.9,237.3 219.4,237.3 219.9,237.3 220.4,237.3 220.9,237.3 221.4,237.3 221.9,237.3 222.4,237.3 222.9,237.3 223.4,237.3 223.9,237.3 224.4,237.29 224.9,237.28 225.4,237.24 225.9,237.16 226.4,236.99 226.9,236.69 227.4,236.19 227.9,235.46 228.4,234.49 228.9,233.36 229.4,232.23 229.9,231.33 230.4,230.84 230.9,230.9 231.4,231.48 231.9,232.45 232.4,233.59 232.9,234.7 233.4,235.63 233.9,236.31 234.4,236.77 234.9,237.03 235.4,237.18 235.9,237.25 236.4,237.28 236.9,237.29 237.4,237.3 237.9,237.3 238.4,237.3 238.9,237.3 239.4,237.3 239.9,237.3 240.4,237.3 240.9,237.3 241.4,237.3 241.9,237.3 242.4,237.3 242.9,237.3 243.4,237.3 243.9,237.3 244.4,237.3 244.9,237.3 245.4,237.3 245.9,237.3 246.4,237.3 246.9,237.3 247.4,237.3 247.9,237.3 248.4,237.3 248.9,237.3 249.4,237.3 249.9,237.3 250.4,237.3 250.9,237.3 251.4,237.3 251.9,237.3 252.4,237.3 252.9,237.29 253.4,237.29 253.9,237.27 254.4,237.24 254.9,237.19 255.4,237.13 255.9,237.03 256.4,236.92 256.9,236.81 257.4,236.7 257.9,236.63 258.4,236.6 258.9,236.63 259.4,236.7 259.9,236.81 260.4,236.92 260.9,237.03 261.4,237.13 261.9,237.19 262.4,237.24 262.9,237.27 263.4,237.29 263.9,237.29 264.4,237.3 264.9,237.3 265.4,237.3 265.9,237.3 266.4,237.3 266.9,237.3 267.4,237.3 267.9,237.29 268.4,237.28 268.9,237.25 269.4,237.2 269.9,237.12 270.4,236.98 270.9,236.79 271.4,236.55 271.9,236.27 272.4,235.99 272.9,235.76 273.4,235.62 273.9,235.61 274.4,235.72 274.9,235.94 275.4,236.21 275.9,236.49 276.4,236.75 276.9,236.95 277.4,237.09 277.9,237.19 278.4,237.24 278.9,237.27 279.4,237.29 279.9,237.3 280.4,237.3 280.9,237.3 281.4,237.3 281.9,237.3 282.4,237.3 282.9,237.3 283.4,237.3 283.9,237.3 284.4,237.3 284.9,237.3 285.4,237.3 285.9,237.3 286.4,237.3 286.9,237.29 287.4,237.27 287.9,237.24 288.4,237.19 288.9,237.09 289.4,236.95 289.9,236.75 290.4,236.49 290.9,236.21 291.4,235.94 291.9,235.72 292.4,235.61 292.9,235.62 293.4,235.76 293.9,235.99 294.4,236.27 294.9,236.55 295.4,236.79 295.9,236.98 296.4,237.12 296.9,237.2 297.4,237.25 297.9,237.28 298.4,237.29 298.9,237.3 299.4,237.3 299.9,237.3 300.4,237.3 300.9,237.3 301.4,237.3 301.9,237.3 302.4,237.29 302.9,237.26 303.4,237.2 303.9,237.06 304.4,236.78 304.9,236.31 305.4,235.56 305.9,234.55 306.4,233.36 306.9,232.17 307.4,231.24 307.9,230.81 308.4,231 308.9,231.75 309.4,232.87 309.9,234.09 310.4,235.19 310.9,236.04 311.4,236.62 311.9,236.97 312.4,237.15 312.9,237.24 313.4,237.26 313.9,237.25 314.4,237.2 314.9,237.1 315.4,236.94 315.9,236.73 316.4,236.49 316.9,236.3 317.4,236.2 317.9,236.24 318.4,236.41 318.9,236.63 319.4,236.86 319.9,237.05 320.4,237.17 320.9,237.24 321.4,237.28 321.9,237.29 322.4,237.29 322.9,237.29 323.4,237.27 323.9,237.24 324.4,237.18 324.9,237.07 325.4,236.94 325.9,236.79 326.4,236.66 326.9,236.6 327.4,236.63 327.9,236.73 328.4,236.88 328.9,237.02 329.4,237.14 329.9,237.22 330.4,237.26 330.9,237.28 331.4,237.29 331.9,237.29 332.4,237.28 332.9,237.26 333.4,237.22 333.9,237.15 334.4,237.05 334.9,236.91 335.4,236.73 335.9,236.53 336.4,236.34 336.9,236.19 337.4,236.11 337.9,236.12 338.4,236.21 338.9,236.38 339.4,236.57 339.9,236.77 340.4,236.94 340.9,237.08 341.4,237.17 341.9,237.22 342.4,237.24 342.9,237.21 343.4,237.1 343.9,236.82 344.4,236.23 344.9,235.05 345.4,232.89 345.9,229.25 346.4,223.58 346.9,215.48 347.4,204.91 347.9,192.46 348.4,179.36 348.9,167.45 349.4,158.72 349.9,154.81 350.4,156.51 350.9,163.47 351.4,174.34 351.9,187.2 352.4,200.1 352.9,211.52 353.4,220.62 353.9,227.2 354.4,231.55 354.9,234.14 355.4,235.5 355.9,236.04 356.4,236.03 356.9,235.63 357.4,234.91 357.9,233.91 358.4,232.66 358.9,231.23 359.4,229.72 359.9,228.27 360.4,227.04 360.9,226.18 361.4,225.81 361.9,225.97 362.4,226.65 362.9,227.74 363.4,229.12 363.9,230.63 364.4,232.1 364.9,233.44 365.4,234.55 365.9,235.41 366.4,235.99 366.9,236.29 367.4,236.28 367.9,235.95 368.4,235.3 368.9,234.4 369.4,233.45 369.9,232.67 370.4,232.3 370.9,232.47 371.4,233.12 371.9,234.07 372.4,235.06 372.9,235.91 373.4,236.53 373.9,236.92 374.4,237.13 374.9,237.23 375.4,237.28 375.9,237.29 376.4,237.3 376.9,237.3 377.4,237.3 377.9,237.3 378.4,237.3 378.9,237.3 379.4,237.3 379.9,237.29 380.4,237.26 380.9,237.19 381.4,237.03 381.9,236.71 382.4,236.17 382.9,235.36 383.4,234.3 383.9,233.16 384.4,232.19 384.9,231.65 385.4,231.7 385.9,232.33 386.4,233.29 386.9,234.27 387.4,234.96 387.9,235.19 388.4,235.02 388.9,234.69 389.4,234.52 389.9,234.71 390.4,235.25 390.9,235.93 391.4,236.53 391.9,236.93 392.4,237.15 392.9,237.25 393.4,237.29 393.9,237.3 394.4,237.3 394.9,237.3 395.4,237.3 395.9,237.3 396.4,237.3 396.9,237.3 397.4,237.3 397.9,237.3 398.4,237.3 398.9,237.3 399.4,237.3 399.9,237.3 400.4,237.3 400.9,237.3 401.4,237.3 401.9,237.3 402.4,237.3 402.9,237.3 403.4,237.3 403.9,237.3 404.4,237.3 404.9,237.3 405.4,237.3 405.9,237.3 406.4,237.3 406.9,237.3 407.4,237.3 407.9,237.3 408.4,237.3 408.9,237.3 409.4,237.3 409.9,237.3 410.4,237.3 410.9,237.3 411.4,237.3 411.9,237.3 412.4,237.3 412.9,237.3 413.4,237.3 413.9,237.29 414.4,237.26 414.9,237.2 415.4,237.07 415.9,236.8 416.4,236.33 416.9,235.63 417.4,234.72 417.9,233.74 418.4,232.91 418.9,232.44 419.4,232.5 419.9,233.05 420.4,233.93 420.9,234.91 421.4,235.79 421.9,236.44 422.4,236.86 422.9,237.09 423.4,237.2 423.9,237.21 424.4,237.16 424.9,237.04 425.4,236.86 425.9,236.63 426.4,236.41 426.9,236.24 427.4,236.2 427.9,236.3 428.4,236.49 428.9,236.73 429.4,236.94 429.9,237.1 430.4,237.21 430.9,237.26 431.4,237.28 431.9,237.3 432.4,237.3 432.9,237.3 433.4,237.3 433.9,237.3 434.4,237.3 434.9,237.3 435.4,237.3 435.9,237.3 436.4,237.3" fill="none" stroke="#ff5c5c" stroke-width="1.2" stroke-linejoin="round"/>
<text transform="translate(128.29,230.7) rotate(-90)" font-size="8.2" fill="#ff0d0d" stroke="#ff0d0d" stroke-width="0.15" textLength="26.1" lengthAdjust="spacingAndGlyphs">gallic acid</text>
<text transform="translate(165.59,225.5) rotate(-90)" font-size="8.2" fill="#ff0d0d" stroke="#ff0d0d" stroke-width="0.15" textLength="49.8" lengthAdjust="spacingAndGlyphs">protocatechuic acid</text>
<text transform="translate(181.99,226.4) rotate(-90)" font-size="8.2" fill="#ff0d0d" stroke="#ff0d0d" stroke-width="0.15" textLength="56.3" lengthAdjust="spacingAndGlyphs">p-aminobenzoic acid</text>
<text transform="translate(205.29,224) rotate(-90)" font-size="8.2" fill="#ff0d0d" stroke="#ff0d0d" stroke-width="0.15" textLength="44.2" lengthAdjust="spacingAndGlyphs">chlorogenic acid</text>
<text transform="translate(216.19,230) rotate(-90)" font-size="8.2" fill="#ff0d0d" stroke="#ff0d0d" stroke-width="0.15" textLength="22.3" lengthAdjust="spacingAndGlyphs">catechin</text>
<text transform="translate(260.69,225.5) rotate(-90)" font-size="8.2" fill="#ff0d0d" stroke="#ff0d0d" stroke-width="0.15" textLength="29.5" lengthAdjust="spacingAndGlyphs">caffeic acid</text>
<text transform="translate(275.79,233.3) rotate(-90)" font-size="8.2" fill="#ff0d0d" stroke="#ff0d0d" stroke-width="0.15" textLength="32.8" lengthAdjust="spacingAndGlyphs">epicatechin</text>
<text transform="translate(310.19,225.7) rotate(-90)" font-size="8.2" fill="#ff0d0d" stroke="#ff0d0d" stroke-width="0.15" textLength="20.9" lengthAdjust="spacingAndGlyphs">vanillin</text>
<text transform="translate(338.99,230) rotate(-90)" font-size="8.2" fill="#ff0d0d" stroke="#ff0d0d" stroke-width="0.15" textLength="41.6" lengthAdjust="spacingAndGlyphs">p-coumaric acid</text>
<text transform="translate(363.79,223.5) rotate(-90)" font-size="8.2" fill="#ff0d0d" stroke="#ff0d0d" stroke-width="0.15" textLength="34" lengthAdjust="spacingAndGlyphs">ferulic acid</text>
<text transform="translate(386.79,225) rotate(-90)" font-size="8.2" fill="#ff0d0d" stroke="#ff0d0d" stroke-width="0.15" textLength="27.5" lengthAdjust="spacingAndGlyphs">quercitrin</text>
<text transform="translate(421.39,230.5) rotate(-90)" font-size="8.2" fill="#ff0d0d" stroke="#ff0d0d" stroke-width="0.15" textLength="31" lengthAdjust="spacingAndGlyphs">resveratrol</text>
<text transform="translate(430.59,230.5) rotate(-90)" font-size="8.2" fill="#ff0d0d" stroke="#ff0d0d" stroke-width="0.15" textLength="28.5" lengthAdjust="spacingAndGlyphs">quercetin</text>
<text transform="translate(355,169) rotate(-23)" font-size="6.2" fill="#ff2020" textLength="14" lengthAdjust="spacingAndGlyphs">rutin</text>
<path d="M113.5 274.2 H439.5 V370" fill="none" stroke="#666" stroke-width="1.1"/>
<path d="M113.5 274.2 V370 H439.5" fill="none" stroke="#333" stroke-width="1.1"/>
<line x1="110.5" y1="343.05" x2="113.5" y2="343.05" stroke="#333" stroke-width="1"/>
<text x="111.3" y="348.65" font-size="8.2" text-anchor="end" fill="#222" stroke="#222" stroke-width="0.12">100</text>
<line x1="110.5" y1="324.7" x2="113.5" y2="324.7" stroke="#333" stroke-width="1"/>
<text x="111.3" y="330.3" font-size="8.2" text-anchor="end" fill="#222" stroke="#222" stroke-width="0.12">200</text>
<line x1="110.5" y1="306.35" x2="113.5" y2="306.35" stroke="#333" stroke-width="1"/>
<text x="111.3" y="311.95" font-size="8.2" text-anchor="end" fill="#222" stroke="#222" stroke-width="0.12">300</text>
<line x1="110.5" y1="288" x2="113.5" y2="288" stroke="#333" stroke-width="1"/>
<text x="111.3" y="293.6" font-size="8.2" text-anchor="end" fill="#222" stroke="#222" stroke-width="0.12">400</text>
<line x1="110.5" y1="361.4" x2="113.5" y2="361.4" stroke="#333" stroke-width="1"/>
<text x="111.3" y="367" font-size="8.2" text-anchor="end" fill="#222" stroke="#222" stroke-width="0.12">-0</text>
<line x1="111" y1="352.22" x2="113.5" y2="352.22" stroke="#333" stroke-width="1"/>
<line x1="111" y1="333.88" x2="113.5" y2="333.88" stroke="#333" stroke-width="1"/>
<line x1="111" y1="315.52" x2="113.5" y2="315.52" stroke="#333" stroke-width="1"/>
<line x1="111" y1="297.17" x2="113.5" y2="297.17" stroke="#333" stroke-width="1"/>
<line x1="111" y1="278.82" x2="113.5" y2="278.82" stroke="#333" stroke-width="1"/>
<line x1="111" y1="370" x2="113.5" y2="370" stroke="#333" stroke-width="1"/>
<line x1="165.8" y1="370" x2="165.8" y2="373" stroke="#333" stroke-width="1"/>
<line x1="223.6" y1="370" x2="223.6" y2="373" stroke="#333" stroke-width="1"/>
<line x1="281.4" y1="370" x2="281.4" y2="373" stroke="#333" stroke-width="1"/>
<line x1="339.2" y1="370" x2="339.2" y2="373" stroke="#333" stroke-width="1"/>
<line x1="397" y1="370" x2="397" y2="373" stroke="#333" stroke-width="1"/>
<line x1="136.9" y1="370" x2="136.9" y2="372" stroke="#333" stroke-width="1"/>
<line x1="194.7" y1="370" x2="194.7" y2="372" stroke="#333" stroke-width="1"/>
<line x1="252.5" y1="370" x2="252.5" y2="372" stroke="#333" stroke-width="1"/>
<line x1="310.3" y1="370" x2="310.3" y2="372" stroke="#333" stroke-width="1"/>
<line x1="368.1" y1="370" x2="368.1" y2="372" stroke="#333" stroke-width="1"/>
<line x1="425.9" y1="370" x2="425.9" y2="372" stroke="#333" stroke-width="1"/>
<text x="168.5" y="381.4" font-size="8.2" text-anchor="middle" fill="#222" stroke="#222" stroke-width="0.12">4.00</text>
<text x="226.3" y="381.4" font-size="8.2" text-anchor="middle" fill="#222" stroke="#222" stroke-width="0.12">6.00</text>
<text x="284.1" y="381.4" font-size="8.2" text-anchor="middle" fill="#222" stroke="#222" stroke-width="0.12">8.00</text>
<text x="341.9" y="381.4" font-size="8.2" text-anchor="middle" fill="#222" stroke="#222" stroke-width="0.12">10.00</text>
<text x="399.7" y="381.4" font-size="8.2" text-anchor="middle" fill="#222" stroke="#222" stroke-width="0.12">12.00</text>
<text transform="translate(93.4,319) rotate(-90)" font-size="7.6" text-anchor="middle" fill="#222" textLength="61" lengthAdjust="spacingAndGlyphs">Peak height (mAU)</text>
<text x="248.7" y="389.3" font-size="7.6" fill="#222" textLength="78.1" lengthAdjust="spacingAndGlyphs">Retention time (minutes)</text>
<text x="122" y="287.1" font-size="10.5" font-weight="bold" fill="#111">c)</text>
<polyline points="114,360.94 114.5,360.87 115,360.73 115.5,360.48 116,360.04 116.5,359.34 117,358.26 117.5,356.7 118,354.6 118.5,351.96 119,348.86 119.5,345.53 120,342.27 120.5,339.47 121,337.49 121.5,336.62 122,337 122.5,338.55 123,341.05 123.5,344.12 124,347.32 124.5,350.19 125,352.28 125.5,353.2 126,352.66 126.5,350.65 127,347.55 127.5,344.15 128,341.51 128.5,340.54 129,341.58 129.5,344.25 130,347.55 130.5,350.3 131,351.55 131.5,350.8 132,348.06 132.5,343.87 133,339.13 133.5,334.96 134,332.42 134.5,332.19 135,334.36 135.5,338.39 136,343.41 136.5,348.45 137,352.78 137.5,356.06 138,358.26 138.5,359.57 139,360.24 139.5,360.49 140,360.45 140.5,360.18 141,359.68 141.5,358.93 142,357.89 142.5,356.56 143,354.97 143.5,353.24 144,351.5 144.5,349.97 145,348.83 145.5,348.25 146,348.32 146.5,349.02 147,350.25 147.5,351.84 148,353.59 148.5,355.3 149,356.83 149.5,358.08 150,359.02 150.5,359.62 151,359.89 151.5,359.79 152,359.26 152.5,358.15 153,356.28 153.5,353.42 154,349.4 154.5,344.09 155,337.59 155.5,330.22 156,322.57 156.5,315.43 157,309.68 157.5,306.11 158,305.26 158.5,307.23 159,311.75 159.5,318.15 160,325.6 160.5,333.21 161,340.26 161.5,346.27 162,351.02 162.5,354.49 163,356.83 163.5,358.24 164,358.89 164.5,358.9 165,358.34 165.5,357.26 166,355.78 166.5,354.2 167,352.88 167.5,352.17 168,352.2 168.5,352.81 169,353.56 169.5,353.97 170,353.67 170.5,352.61 171,351.17 171.5,350 172,349.76 172.5,350.71 173,352.59 173.5,354.75 174,356.54 174.5,357.54 175,357.63 175.5,356.84 176,355.25 176.5,352.94 177,350.06 177.5,346.83 178,343.58 178.5,340.74 179,338.7 179.5,337.81 180,338.21 180.5,339.83 181,342.42 181.5,345.59 182,348.92 182.5,352.06 183,354.74 183.5,356.86 184,358.42 184.5,359.48 185,360.15 185.5,360.55 186,360.78 186.5,360.89 187,360.95 187.5,360.98 188,360.99 188.5,360.98 189,360.97 189.5,360.93 190,360.85 190.5,360.72 191,360.49 191.5,360.13 192,359.62 192.5,358.92 193,358.07 193.5,357.12 194,356.17 194.5,355.35 195,354.8 195.5,354.6 196,354.8 196.5,355.35 197,356.16 197.5,357.1 198,358.02 198.5,358.81 199,359.37 199.5,359.62 200,359.47 200.5,358.82 201,357.55 201.5,355.51 202,352.63 202.5,348.93 203,344.61 203.5,340.09 204,335.94 204.5,332.78 205,331.15 205.5,331.34 206,333.31 206.5,336.71 207,340.99 207.5,345.51 208,349.74 208.5,353.3 209,356.04 209.5,357.96 210,359.14 210.5,359.71 211,359.74 211.5,359.28 212,358.42 212.5,357.26 213,356.03 213.5,355 214,354.37 214.5,354.17 215,354.24 215.5,354.28 216,354.03 216.5,353.42 217,352.58 217.5,351.8 218,351.39 218.5,351.56 219,352.37 219.5,353.67 220,355.23 220.5,356.79 221,358.15 221.5,359.18 222,359.86 222.5,360.19 223,360.17 223.5,359.74 224,358.77 224.5,357.04 225,354.24 225.5,350.06 226,344.27 226.5,336.81 227,327.96 227.5,318.37 228,309.01 228.5,301.09 229,295.78 229.5,293.9 230,295.78 230.5,301.09 231,309.01 231.5,318.37 232,327.97 232.5,336.81 233,344.27 233.5,350.06 234,354.25 234.5,357.06 235,358.83 235.5,359.87 236,360.44 236.5,360.74 237,360.88 237.5,360.93 238,360.93 238.5,360.9 239,360.82 239.5,360.69 240,360.49 240.5,360.19 241,359.78 241.5,359.26 242,358.65 242.5,357.97 243,357.29 243.5,356.69 244,356.25 244.5,356.02 245,356.05 245.5,356.32 246,356.8 246.5,357.42 247,358.11 247.5,358.78 248,359.38 248.5,359.87 249,360.25 249.5,360.53 250,360.7 250.5,360.79 251,360.8 251.5,360.73 252,360.56 252.5,360.27 253,359.8 253.5,359.13 254,358.22 254.5,357.07 255,355.73 255.5,354.28 256,352.86 256.5,351.65 257,350.79 257.5,350.41 258,350.57 258.5,351.25 259,352.34 259.5,353.68 260,355.12 260.5,356.48 261,357.63 261.5,358.49 262,359 262.5,359.13 263,358.9 263.5,358.3 264,357.41 264.5,356.31 265,355.15 265.5,354.11 266,353.34 266.5,353.01 267,353.16 267.5,353.77 268,354.74 268.5,355.91 269,357.11 269.5,358.2 270,359.11 270.5,359.8 271,360.29 271.5,360.6 272,360.79 272.5,360.9 273,360.95 273.5,360.98 274,360.98 274.5,360.98 275,360.95 275.5,360.89 276,360.75 276.5,360.48 277,359.97 277.5,359.05 278,357.51 278.5,355.06 279,351.39 279.5,346.25 280,339.49 280.5,331.22 281,321.84 281.5,312.1 282,303.01 282.5,295.7 283,291.16 283.5,290.07 284,292.59 284.5,298.34 285,306.5 285.5,315.98 286,325.68 286.5,334.69 287,342.39 287.5,348.5 288,353.02 288.5,356.17 289,358.22 289.5,359.48 290,360.21 290.5,360.61 291,360.82 291.5,360.91 292,360.94 292.5,360.92 293,360.82 293.5,360.61 294,360.17 294.5,359.38 295,358.06 295.5,356.08 296,353.35 296.5,350.01 297,346.38 297.5,343 298,340.47 298.5,339.33 299,339.83 299.5,341.85 300,344.96 300.5,348.57 301,352.08 301.5,355.07 302,357.35 302.5,358.92 303,359.91 303.5,360.47 304,360.76 304.5,360.89 305,360.94 305.5,360.91 306,360.79 306.5,360.5 307,359.9 307.5,358.9 308,357.46 308.5,355.74 309,354.12 309.5,353.08 310,352.96 310.5,353.8 311,355.24 311.5,356.76 312,357.84 312.5,358.16 313,357.63 313.5,356.37 314,354.73 314.5,353.16 315,352.17 315.5,352.08 316,352.93 316.5,354.46 317,356.26 317.5,357.93 318,359.22 318.5,360.07 319,360.56 319.5,360.79 320,360.85 320.5,360.8 321,360.62 321.5,360.29 322,359.76 322.5,358.98 323,357.96 323.5,356.76 324,355.53 324.5,354.47 325,353.78 325.5,353.61 326,354 326.5,354.86 327,356 327.5,357.23 328,358.33 328.5,359.2 329,359.78 329.5,360.07 330,360.1 330.5,359.92 331,359.57 331.5,359.12 332,358.62 332.5,358.16 333,357.8 333.5,357.61 334,357.62 334.5,357.83 335,358.18 335.5,358.6 336,359.01 336.5,359.34 337,359.52 337.5,359.53 338,359.4 338.5,359.15 339,358.86 339.5,358.6 340,358.43 340.5,358.39 341,358.51 341.5,358.76 342,359.11 342.5,359.5 343,359.87 343.5,360.18 344,360.38 344.5,360.43 345,360.22 345.5,359.59 346,358.28 346.5,355.89 347,351.95 347.5,346.01 348,337.82 348.5,327.54 349,315.93 349.5,304.36 350,294.58 350.5,288.33 351,286.8 351.5,290.31 352,298.16 352.5,308.88 353,320.66 353.5,331.87 354,341.37 354.5,348.66 355,364.2 355.4,364.67 356.1,365 356.61,364.87 357.21,364.61 357.86,364.24 358.5,363.8 358.99,363.36 359.47,362.83 359.97,362.27 360.47,361.74 361,361.3 361.55,360.93 362.12,360.58 362.7,360.29 363.29,360.12 363.9,360.1 364.41,360.28 364.93,360.64 365.46,361.09 366,361.53 366.55,361.86 367.1,362 367.59,361.95 368.11,361.81 368.64,361.59 369.16,361.3 369.67,360.96 370.16,360.59 370.6,360.2 371.28,359.46 371.88,358.59 372.43,357.61 373,356.5 373.57,355.25 374.13,353.88 374.7,352.38 375.3,350.8 375.83,349.44 376.38,347.98 376.95,346.47 377.5,344.96 378,343.5 378.56,341.63 379.06,339.71 379.54,337.96 380,336.6 380.58,335.46 381.13,334.87 381.7,334.7 382.3,335.24 382.92,336.2 383.6,336.6 384.17,336.22 384.78,335.49 385.4,334.53 386,333.5 386.59,332.36 387.18,331.06 387.76,329.71 388.3,328.4 388.99,326.65 389.63,324.93 390.2,323.5 390.84,321.94 391.4,321.3 392.03,322.19 392.7,323.8 393.11,324.71 393.54,325.74 394.2,327.4 394.59,328.41 395.05,329.58 395.55,330.88 396.09,332.27 396.63,333.71 397.18,335.16 397.7,336.6 398.21,338.07 398.72,339.63 399.24,341.23 399.76,342.83 400.28,344.39 400.79,345.86 401.3,347.2 401.79,348.41 402.27,349.52 402.74,350.55 403.21,351.52 403.71,352.46 404.23,353.38 404.8,354.3 405.28,355.01 405.78,355.71 406.31,356.4 406.85,357.06 407.4,357.72 407.96,358.36 408.52,358.99 409.06,359.6 409.6,360.2 410.13,360.79 410.67,361.38 411.22,361.96 411.76,362.52 412.3,363.06 412.83,363.59 413.34,364.09 413.83,364.56 414.3,365 414.85,365.56 415.35,366.12 415.82,366.66 416.28,367.13 416.75,367.5 417.25,367.74 417.8,367.8 418.28,367.7 418.79,367.47 419.32,367.14 419.87,366.73 420.43,366.27 420.98,365.8 421.51,365.32 422.02,364.88 422.5,364.5 423.07,364.05 423.62,363.58 424.14,363.11 424.64,362.67 425.12,362.26 425.57,361.9 426,361.6 426.65,361.23 427.19,360.99 427.74,360.89 428.4,360.9 428.86,360.99 429.36,361.16 429.89,361.38 430.44,361.61 430.98,361.83 431.51,362.01 432,362.1 432.52,362.1 433.01,362.03 433.48,361.91 433.95,361.76 434.45,361.62 435,361.5 435.48,361.43 436.02,361.36 436.6,361.28 437.19,361.21 437.75,361.15 438.26,361.09 438.68,361.04 439,361" fill="none" stroke="#ff5c5c" stroke-width="1.2" stroke-linejoin="round"/>
<text transform="translate(124.19,334.3) rotate(-90)" font-size="8.2" fill="#ff0d0d" stroke="#ff0d0d" stroke-width="0.15" textLength="28.1" lengthAdjust="spacingAndGlyphs">gallic acid</text>
<text transform="translate(170.39,333) rotate(-90)" font-size="8.2" fill="#ff0d0d" stroke="#ff0d0d" stroke-width="0.15" textLength="51.2" lengthAdjust="spacingAndGlyphs">protocatechuic acid</text>
<text transform="translate(183.79,335.5) rotate(-90)" font-size="8.2" fill="#ff0d0d" stroke="#ff0d0d" stroke-width="0.15" textLength="56.7" lengthAdjust="spacingAndGlyphs">p-aminobenzoic acid</text>
<text transform="translate(198.29,347.2) rotate(-90)" font-size="8.2" fill="#ff0d0d" stroke="#ff0d0d" stroke-width="0.15" textLength="43.6" lengthAdjust="spacingAndGlyphs">chlorogenic acid</text>
<text transform="translate(220.99,348.8) rotate(-90)" font-size="8.2" fill="#ff0d0d" stroke="#ff0d0d" stroke-width="0.15" textLength="23.3" lengthAdjust="spacingAndGlyphs">catechin</text>
<text transform="translate(257.19,347.2) rotate(-90)" font-size="8.2" fill="#ff0d0d" stroke="#ff0d0d" stroke-width="0.15" textLength="30.7" lengthAdjust="spacingAndGlyphs">caffeic acid</text>
<text transform="translate(327.49,350.5) rotate(-90)" font-size="8.2" fill="#ff0d0d" stroke="#ff0d0d" stroke-width="0.15" textLength="19" lengthAdjust="spacingAndGlyphs">vanillin</text>
<text transform="translate(335.99,348.2) rotate(-90)" font-size="8.2" fill="#ff0d0d" stroke="#ff0d0d" stroke-width="0.15" textLength="43.6" lengthAdjust="spacingAndGlyphs">p-coumaric acid</text>
<text transform="translate(362.89,348.2) rotate(-90)" font-size="8.2" fill="#ff0d0d" stroke="#ff0d0d" stroke-width="0.15" textLength="33.5" lengthAdjust="spacingAndGlyphs">ferulic acid</text>
<text transform="translate(398.19,324.5) rotate(-90)" font-size="8.2" fill="#ff0d0d" stroke="#ff0d0d" stroke-width="0.15" textLength="28.5" lengthAdjust="spacingAndGlyphs">quercitrin</text>
<text transform="translate(421.79,363) rotate(-90)" font-size="8.2" fill="#ff0d0d" stroke="#ff0d0d" stroke-width="0.15" textLength="29" lengthAdjust="spacingAndGlyphs">resveratrol</text>
<text transform="translate(431.19,359.5) rotate(-90)" font-size="8.2" fill="#ff0d0d" stroke="#ff0d0d" stroke-width="0.15" textLength="27" lengthAdjust="spacingAndGlyphs">quercetin</text>
<text transform="translate(287.5,302.5) rotate(-40)" font-size="6.2" fill="#ff2020" textLength="31" lengthAdjust="spacingAndGlyphs">epicatechin</text>
<text transform="translate(357,296) rotate(-45)" font-size="6.2" fill="#ff2020" textLength="14" lengthAdjust="spacingAndGlyphs">rutin</text>
<rect x="476.6" y="9.7" width="60.8" height="98.7" fill="none" stroke="#9a9a9a" stroke-width="1"/>
<line x1="474.1" y1="108.4" x2="476.6" y2="108.4" stroke="#9a9a9a" stroke-width="1"/>
<text x="468" y="111.2" font-size="8" text-anchor="end" fill="#222" stroke="#222" stroke-width="0.12">0.0</text>
<line x1="474.1" y1="88.66" x2="476.6" y2="88.66" stroke="#9a9a9a" stroke-width="1"/>
<text x="468" y="91.46" font-size="8" text-anchor="end" fill="#222" stroke="#222" stroke-width="0.12">0.4</text>
<line x1="474.1" y1="68.92" x2="476.6" y2="68.92" stroke="#9a9a9a" stroke-width="1"/>
<text x="468" y="71.72" font-size="8" text-anchor="end" fill="#222" stroke="#222" stroke-width="0.12">0.8</text>
<line x1="474.1" y1="49.18" x2="476.6" y2="49.18" stroke="#9a9a9a" stroke-width="1"/>
<text x="468" y="51.98" font-size="8" text-anchor="end" fill="#222" stroke="#222" stroke-width="0.12">1.2</text>
<line x1="474.1" y1="29.44" x2="476.6" y2="29.44" stroke="#9a9a9a" stroke-width="1"/>
<text x="468" y="32.24" font-size="8" text-anchor="end" fill="#222" stroke="#222" stroke-width="0.12">1.6</text>
<line x1="474.1" y1="9.7" x2="476.6" y2="9.7" stroke="#9a9a9a" stroke-width="1"/>
<text x="468" y="12.5" font-size="8" text-anchor="end" fill="#222" stroke="#222" stroke-width="0.12">2.0</text>
<line x1="476.6" y1="108.4" x2="476.6" y2="110.9" stroke="#9a9a9a" stroke-width="1"/>
<text x="476.2" y="123.5" font-size="8" text-anchor="middle" fill="#222" stroke="#222" stroke-width="0.12">4</text>
<line x1="491.8" y1="108.4" x2="491.8" y2="110.9" stroke="#9a9a9a" stroke-width="1"/>
<text x="491.4" y="123.5" font-size="8" text-anchor="middle" fill="#222" stroke="#222" stroke-width="0.12">8</text>
<line x1="507" y1="108.4" x2="507" y2="110.9" stroke="#9a9a9a" stroke-width="1"/>
<text x="506.6" y="123.5" font-size="8" text-anchor="middle" fill="#222" stroke="#222" stroke-width="0.12">12</text>
<line x1="522.2" y1="108.4" x2="522.2" y2="110.9" stroke="#9a9a9a" stroke-width="1"/>
<text x="521.8" y="123.5" font-size="8" text-anchor="middle" fill="#222" stroke="#222" stroke-width="0.12">16</text>
<line x1="537.4" y1="108.4" x2="537.4" y2="110.9" stroke="#9a9a9a" stroke-width="1"/>
<text x="537" y="123.5" font-size="8" text-anchor="middle" fill="#222" stroke="#222" stroke-width="0.12">20</text>
<text x="461.6" y="134.2" font-size="7.4" fill="#222" textLength="81.4" lengthAdjust="spacingAndGlyphs">Interaction time (minutes)</text>
<text transform="translate(453.2,54.2) rotate(-90)" font-size="7.2" text-anchor="middle" fill="#222" textLength="67.5" lengthAdjust="spacingAndGlyphs">Absorbance <tspan font-style="italic">(576 nm)</tspan></text>
<polyline points="476.6,76.08 476.68,76.48 476.75,76.83 476.83,77.14 476.9,77.41 476.98,77.64 477.06,77.85 477.13,78.03 477.21,78.19 477.28,78.33 477.36,78.45 477.44,78.55 477.51,78.65 477.59,78.73 477.66,78.8 477.74,78.86 477.82,78.92 477.89,78.97 477.97,79.01 478.04,79.05 478.12,79.08 478.2,79.11 478.27,79.13 478.35,79.16 478.42,79.17 478.5,79.19 478.58,79.21 478.65,79.22 478.73,79.23 478.8,79.24 478.88,79.25 478.96,79.26 479.03,79.27 479.11,79.27 479.18,79.28 479.26,79.29 479.34,79.29 479.41,79.29 479.49,79.3 479.56,79.3 479.64,79.31 479.72,79.31 479.79,79.31 479.87,79.31 479.94,79.32 480.02,79.32 480.1,79.32 480.17,79.32 480.25,79.32 480.32,79.32 480.4,79.33 480.78,79.33 481.16,79.34 481.54,79.34 481.92,79.35 482.3,79.35 482.68,79.36 483.06,79.36 483.44,79.37 483.82,79.37 484.2,79.38 484.58,79.38 484.96,79.39 485.34,79.39 485.72,79.39 486.1,79.4 486.48,79.4 486.86,79.41 487.24,79.41 487.62,79.42 488,79.42 488.38,79.43 488.76,79.43 489.14,79.44 489.52,79.44 489.9,79.45 490.28,79.45 490.66,79.45 491.04,79.46 491.42,79.46 491.8,79.47 492.18,79.47 492.56,79.48 492.94,79.48 493.32,79.49 493.7,79.49 494.08,79.5 494.46,79.5 494.84,79.51 495.22,79.51 495.6,79.51 495.98,79.52 496.36,79.52 496.74,79.53 497.12,79.53 497.5,79.54 497.88,79.54 498.26,79.55 498.64,79.55 499.02,79.56 499.4,79.56 499.78,79.57 500.16,79.57 500.54,79.57 500.92,79.58 501.3,79.58 501.68,79.59 502.06,79.59 502.44,79.6 502.82,79.6 503.2,79.61 503.58,79.61 503.96,79.62 504.34,79.62 504.72,79.63 505.1,79.63 505.48,79.64 505.86,79.64 506.24,79.64 506.62,79.65 507,79.65 507.38,79.66 507.76,79.66 508.14,79.67 508.52,79.67 508.9,79.68 509.28,79.68 509.66,79.69 510.04,79.69 510.42,79.7 510.8,79.7 511.18,79.7 511.56,79.71 511.94,79.71 512.32,79.72 512.7,79.72 513.08,79.73 513.46,79.73 513.84,79.74 514.22,79.74 514.6,79.75 514.98,79.75 515.36,79.76 515.74,79.76 516.12,79.76 516.5,79.77 516.88,79.77 517.26,79.78 517.64,79.78 518.02,79.79 518.4,79.79 518.78,79.8 519.16,79.8 519.54,79.81 519.92,79.81 520.3,79.82 520.68,79.82 521.06,79.82 521.44,79.83 521.82,79.83 522.2,79.84 522.58,79.84 522.96,79.85 523.34,79.85 523.72,79.86 524.1,79.86 524.48,79.87 524.86,79.87 525.24,79.88 525.62,79.88 526,79.88 526.38,79.89 526.76,79.89 527.14,79.9 527.52,79.9 527.9,79.91 528.28,79.91 528.66,79.92 529.04,79.92 529.42,79.93 529.8,79.93 530.18,79.94 530.56,79.94 530.94,79.95 531.32,79.95 531.7,79.95 532.08,79.96 532.46,79.96 532.84,79.97 533.22,79.97 533.6,79.98 533.98,79.98 534.36,79.99 534.74,79.99 535.12,80 535.5,80 535.88,80.01 536.26,80.01 536.64,80.01 537.02,80.02 537.4,80.02" fill="none" stroke="#138a13" stroke-width="2.2" stroke-linejoin="round"/>
<polyline points="476.6,79.53 476.68,80.2 476.75,80.83 476.83,81.41 476.9,81.96 476.98,82.48 477.06,82.96 477.13,83.41 477.21,83.83 477.28,84.22 477.36,84.59 477.44,84.93 477.51,85.26 477.59,85.56 477.66,85.84 477.74,86.1 477.82,86.35 477.89,86.58 477.97,86.8 478.04,87 478.12,87.19 478.2,87.37 478.27,87.54 478.35,87.69 478.42,87.84 478.5,87.97 478.58,88.1 478.65,88.22 478.73,88.33 478.8,88.44 478.88,88.54 478.96,88.63 479.03,88.72 479.11,88.8 479.18,88.87 479.26,88.94 479.34,89.01 479.41,89.07 479.49,89.13 479.56,89.18 479.64,89.24 479.72,89.28 479.79,89.33 479.87,89.37 479.94,89.41 480.02,89.45 480.1,89.48 480.17,89.51 480.25,89.55 480.32,89.57 480.4,89.6 480.78,89.71 481.16,89.8 481.54,89.86 481.92,89.9 482.3,89.94 482.68,89.97 483.06,89.99 483.44,90.01 483.82,90.02 484.2,90.03 484.58,90.05 484.96,90.06 485.34,90.07 485.72,90.08 486.1,90.08 486.48,90.09 486.86,90.1 487.24,90.11 487.62,90.12 488,90.12 488.38,90.13 488.76,90.14 489.14,90.15 489.52,90.16 489.9,90.16 490.28,90.17 490.66,90.18 491.04,90.19 491.42,90.19 491.8,90.2 492.18,90.21 492.56,90.22 492.94,90.23 493.32,90.23 493.7,90.24 494.08,90.25 494.46,90.26 494.84,90.26 495.22,90.27 495.6,90.28 495.98,90.29 496.36,90.29 496.74,90.3 497.12,90.31 497.5,90.32 497.88,90.33 498.26,90.33 498.64,90.34 499.02,90.35 499.4,90.36 499.78,90.36 500.16,90.37 500.54,90.38 500.92,90.39 501.3,90.39 501.68,90.4 502.06,90.41 502.44,90.42 502.82,90.43 503.2,90.43 503.58,90.44 503.96,90.45 504.34,90.46 504.72,90.46 505.1,90.47 505.48,90.48 505.86,90.49 506.24,90.5 506.62,90.5 507,90.51 507.38,90.52 507.76,90.53 508.14,90.53 508.52,90.54 508.9,90.55 509.28,90.56 509.66,90.56 510.04,90.57 510.42,90.58 510.8,90.59 511.18,90.6 511.56,90.6 511.94,90.61 512.32,90.62 512.7,90.63 513.08,90.63 513.46,90.64 513.84,90.65 514.22,90.66 514.6,90.66 514.98,90.67 515.36,90.68 515.74,90.69 516.12,90.7 516.5,90.7 516.88,90.71 517.26,90.72 517.64,90.73 518.02,90.73 518.4,90.74 518.78,90.75 519.16,90.76 519.54,90.77 519.92,90.77 520.3,90.78 520.68,90.79 521.06,90.8 521.44,90.8 521.82,90.81 522.2,90.82 522.58,90.83 522.96,90.83 523.34,90.84 523.72,90.85 524.1,90.86 524.48,90.87 524.86,90.87 525.24,90.88 525.62,90.89 526,90.9 526.38,90.9 526.76,90.91 527.14,90.92 527.52,90.93 527.9,90.93 528.28,90.94 528.66,90.95 529.04,90.96 529.42,90.97 529.8,90.97 530.18,90.98 530.56,90.99 530.94,91 531.32,91 531.7,91.01 532.08,91.02 532.46,91.03 532.84,91.03 533.22,91.04 533.6,91.05 533.98,91.06 534.36,91.07 534.74,91.07 535.12,91.08 535.5,91.09 535.88,91.1 536.26,91.1 536.64,91.11 537.02,91.12 537.4,91.13" fill="none" stroke="#7434b4" stroke-width="2.2" stroke-linejoin="round"/>
<polyline points="476.6,108.4 476.68,108.29 476.75,108.19 476.83,108.11 476.9,108.02 476.98,107.95 477.06,107.88 477.13,107.82 477.21,107.77 477.28,107.72 477.36,107.67 477.44,107.63 477.51,107.59 477.59,107.55 477.66,107.52 477.74,107.49 477.82,107.46 477.89,107.44 477.97,107.41 478.04,107.39 478.12,107.37 478.2,107.36 478.27,107.34 478.35,107.32 478.42,107.31 478.5,107.29 478.58,107.28 478.65,107.27 478.73,107.26 478.8,107.25 478.88,107.24 478.96,107.23 479.03,107.22 479.11,107.21 479.18,107.2 479.26,107.19 479.34,107.19 479.41,107.18 479.49,107.17 479.56,107.17 479.64,107.16 479.72,107.15 479.79,107.15 479.87,107.14 479.94,107.13 480.02,107.13 480.1,107.12 480.17,107.12 480.25,107.11 480.32,107.11 480.4,107.1 480.78,107.08 481.16,107.05 481.54,107.03 481.92,107.01 482.3,106.99 482.68,106.96 483.06,106.94 483.44,106.92 483.82,106.9 484.2,106.88 484.58,106.85 484.96,106.83 485.34,106.81 485.72,106.79 486.1,106.77 486.48,106.74 486.86,106.72 487.24,106.7 487.62,106.68 488,106.66 488.38,106.64 488.76,106.61 489.14,106.59 489.52,106.57 489.9,106.55 490.28,106.53 490.66,106.5 491.04,106.48 491.42,106.46 491.8,106.44 492.18,106.42 492.56,106.39 492.94,106.37 493.32,106.35 493.7,106.33 494.08,106.31 494.46,106.29 494.84,106.26 495.22,106.24 495.6,106.22 495.98,106.2 496.36,106.18 496.74,106.15 497.12,106.13 497.5,106.11 497.88,106.09 498.26,106.07 498.64,106.04 499.02,106.02 499.4,106 499.78,105.98 500.16,105.96 500.54,105.93 500.92,105.91 501.3,105.89 501.68,105.87 502.06,105.85 502.44,105.83 502.82,105.8 503.2,105.78 503.58,105.76 503.96,105.74 504.34,105.72 504.72,105.69 505.1,105.67 505.48,105.65 505.86,105.63 506.24,105.61 506.62,105.58 507,105.56 507.38,105.54 507.76,105.52 508.14,105.5 508.52,105.47 508.9,105.45 509.28,105.43 509.66,105.41 510.04,105.39 510.42,105.37 510.8,105.34 511.18,105.32 511.56,105.3 511.94,105.28 512.32,105.26 512.7,105.23 513.08,105.21 513.46,105.19 513.84,105.17 514.22,105.15 514.6,105.12 514.98,105.1 515.36,105.08 515.74,105.06 516.12,105.04 516.5,105.01 516.88,104.99 517.26,104.97 517.64,104.95 518.02,104.93 518.4,104.91 518.78,104.88 519.16,104.86 519.54,104.84 519.92,104.82 520.3,104.8 520.68,104.77 521.06,104.75 521.44,104.73 521.82,104.71 522.2,104.69 522.58,104.66 522.96,104.64 523.34,104.62 523.72,104.6 524.1,104.58 524.48,104.56 524.86,104.53 525.24,104.51 525.62,104.49 526,104.47 526.38,104.45 526.76,104.42 527.14,104.4 527.52,104.38 527.9,104.36 528.28,104.34 528.66,104.31 529.04,104.29 529.42,104.27 529.8,104.25 530.18,104.23 530.56,104.2 530.94,104.18 531.32,104.16 531.7,104.14 532.08,104.12 532.46,104.1 532.84,104.07 533.22,104.05 533.6,104.03 533.98,104.01 534.36,103.99 534.74,103.96 535.12,103.94 535.5,103.92 535.88,103.9 536.26,103.88 536.64,103.85 537.02,103.83 537.4,103.81" fill="none" stroke="#ff0a0a" stroke-width="2.2" stroke-linejoin="round"/>
<rect x="476.6" y="149.6" width="60.6" height="87.3" fill="none" stroke="#9a9a9a" stroke-width="1"/>
<line x1="474.1" y1="236.9" x2="476.6" y2="236.9" stroke="#9a9a9a" stroke-width="1"/>
<text x="468" y="239.7" font-size="8" text-anchor="end" fill="#222" stroke="#222" stroke-width="0.12">0.0</text>
<line x1="474.1" y1="219.44" x2="476.6" y2="219.44" stroke="#9a9a9a" stroke-width="1"/>
<text x="468" y="222.24" font-size="8" text-anchor="end" fill="#222" stroke="#222" stroke-width="0.12">0.4</text>
<line x1="474.1" y1="201.98" x2="476.6" y2="201.98" stroke="#9a9a9a" stroke-width="1"/>
<text x="468" y="204.78" font-size="8" text-anchor="end" fill="#222" stroke="#222" stroke-width="0.12">0.8</text>
<line x1="474.1" y1="184.52" x2="476.6" y2="184.52" stroke="#9a9a9a" stroke-width="1"/>
<text x="468" y="187.32" font-size="8" text-anchor="end" fill="#222" stroke="#222" stroke-width="0.12">1.2</text>
<line x1="474.1" y1="167.06" x2="476.6" y2="167.06" stroke="#9a9a9a" stroke-width="1"/>
<text x="468" y="169.86" font-size="8" text-anchor="end" fill="#222" stroke="#222" stroke-width="0.12">1.6</text>
<line x1="474.1" y1="149.6" x2="476.6" y2="149.6" stroke="#9a9a9a" stroke-width="1"/>
<text x="468" y="152.4" font-size="8" text-anchor="end" fill="#222" stroke="#222" stroke-width="0.12">2.0</text>
<line x1="476.6" y1="236.9" x2="476.6" y2="239.4" stroke="#9a9a9a" stroke-width="1"/>
<text x="476.2" y="252.1" font-size="8" text-anchor="middle" fill="#222" stroke="#222" stroke-width="0.12">4</text>
<line x1="491.75" y1="236.9" x2="491.75" y2="239.4" stroke="#9a9a9a" stroke-width="1"/>
<text x="491.35" y="252.1" font-size="8" text-anchor="middle" fill="#222" stroke="#222" stroke-width="0.12">8</text>
<line x1="506.9" y1="236.9" x2="506.9" y2="239.4" stroke="#9a9a9a" stroke-width="1"/>
<text x="506.5" y="252.1" font-size="8" text-anchor="middle" fill="#222" stroke="#222" stroke-width="0.12">12</text>
<line x1="522.05" y1="236.9" x2="522.05" y2="239.4" stroke="#9a9a9a" stroke-width="1"/>
<text x="521.65" y="252.1" font-size="8" text-anchor="middle" fill="#222" stroke="#222" stroke-width="0.12">16</text>
<line x1="537.2" y1="236.9" x2="537.2" y2="239.4" stroke="#9a9a9a" stroke-width="1"/>
<text x="536.8" y="252.1" font-size="8" text-anchor="middle" fill="#222" stroke="#222" stroke-width="0.12">20</text>
<text x="460.7" y="262.9" font-size="7.4" fill="#222" textLength="82.5" lengthAdjust="spacingAndGlyphs">Interaction time (minutes)</text>
<text transform="translate(451.5,190) rotate(-90)" font-size="7.2" text-anchor="middle" fill="#222" textLength="67.5" lengthAdjust="spacingAndGlyphs">Absorbance <tspan font-style="italic">(576 nm)</tspan></text>
<polyline points="476.6,198.49 476.68,198.86 476.75,199.18 476.83,199.47 476.9,199.72 476.98,199.94 477.05,200.13 477.13,200.29 477.21,200.44 477.28,200.57 477.36,200.68 477.43,200.78 477.51,200.86 477.58,200.94 477.66,201.01 477.74,201.06 477.81,201.12 477.89,201.16 477.96,201.2 478.04,201.23 478.12,201.26 478.19,201.29 478.27,201.31 478.34,201.33 478.42,201.35 478.49,201.37 478.57,201.38 478.65,201.39 478.72,201.4 478.8,201.41 478.87,201.42 478.95,201.43 479.02,201.44 479.1,201.44 479.18,201.45 479.25,201.45 479.33,201.46 479.4,201.46 479.48,201.46 479.55,201.47 479.63,201.47 479.71,201.47 479.78,201.47 479.86,201.47 479.93,201.48 480.01,201.48 480.08,201.48 480.16,201.48 480.24,201.48 480.31,201.48 480.39,201.49 480.77,201.49 481.15,201.49 481.52,201.5 481.9,201.5 482.28,201.51 482.66,201.51 483.04,201.51 483.42,201.52 483.8,201.52 484.18,201.52 484.55,201.52 484.93,201.53 485.31,201.53 485.69,201.53 486.07,201.54 486.45,201.54 486.83,201.54 487.21,201.55 487.58,201.55 487.96,201.55 488.34,201.56 488.72,201.56 489.1,201.56 489.48,201.57 489.86,201.57 490.24,201.57 490.61,201.58 490.99,201.58 491.37,201.58 491.75,201.59 492.13,201.59 492.51,201.59 492.89,201.6 493.27,201.6 493.64,201.6 494.02,201.61 494.4,201.61 494.78,201.61 495.16,201.62 495.54,201.62 495.92,201.62 496.3,201.63 496.67,201.63 497.05,201.63 497.43,201.64 497.81,201.64 498.19,201.64 498.57,201.65 498.95,201.65 499.33,201.65 499.7,201.66 500.08,201.66 500.46,201.66 500.84,201.67 501.22,201.67 501.6,201.67 501.98,201.68 502.36,201.68 502.73,201.68 503.11,201.69 503.49,201.69 503.87,201.69 504.25,201.7 504.63,201.7 505.01,201.7 505.39,201.71 505.76,201.71 506.14,201.71 506.52,201.71 506.9,201.72 507.28,201.72 507.66,201.72 508.04,201.73 508.42,201.73 508.79,201.73 509.17,201.74 509.55,201.74 509.93,201.74 510.31,201.75 510.69,201.75 511.07,201.75 511.45,201.76 511.82,201.76 512.2,201.76 512.58,201.77 512.96,201.77 513.34,201.77 513.72,201.78 514.1,201.78 514.48,201.78 514.85,201.79 515.23,201.79 515.61,201.79 515.99,201.8 516.37,201.8 516.75,201.8 517.13,201.81 517.5,201.81 517.88,201.81 518.26,201.82 518.64,201.82 519.02,201.82 519.4,201.83 519.78,201.83 520.16,201.83 520.54,201.84 520.91,201.84 521.29,201.84 521.67,201.85 522.05,201.85 522.43,201.85 522.81,201.86 523.19,201.86 523.57,201.86 523.94,201.87 524.32,201.87 524.7,201.87 525.08,201.88 525.46,201.88 525.84,201.88 526.22,201.89 526.6,201.89 526.97,201.89 527.35,201.89 527.73,201.9 528.11,201.9 528.49,201.9 528.87,201.91 529.25,201.91 529.62,201.91 530,201.92 530.38,201.92 530.76,201.92 531.14,201.93 531.52,201.93 531.9,201.93 532.28,201.94 532.66,201.94 533.03,201.94 533.41,201.95 533.79,201.95 534.17,201.95 534.55,201.96 534.93,201.96 535.31,201.96 535.69,201.97 536.06,201.97 536.44,201.97 536.82,201.98 537.2,201.98" fill="none" stroke="#138a13" stroke-width="2.2" stroke-linejoin="round"/>
<polyline points="476.6,212.46 476.68,213.09 476.75,213.66 476.83,214.18 476.9,214.65 476.98,215.07 477.05,215.46 477.13,215.81 477.21,216.12 477.28,216.41 477.36,216.67 477.43,216.9 477.51,217.11 477.58,217.3 477.66,217.48 477.74,217.63 477.81,217.78 477.89,217.9 477.96,218.02 478.04,218.13 478.12,218.22 478.19,218.31 478.27,218.39 478.34,218.46 478.42,218.53 478.49,218.58 478.57,218.64 478.65,218.69 478.72,218.73 478.8,218.77 478.87,218.81 478.95,218.84 479.02,218.87 479.1,218.9 479.18,218.92 479.25,218.94 479.33,218.96 479.4,218.98 479.48,219 479.55,219.02 479.63,219.03 479.71,219.04 479.78,219.06 479.86,219.07 479.93,219.08 480.01,219.09 480.08,219.09 480.16,219.1 480.24,219.11 480.31,219.12 480.39,219.12 480.77,219.15 481.15,219.17 481.52,219.18 481.9,219.19 482.28,219.2 482.66,219.21 483.04,219.22 483.42,219.23 483.8,219.24 484.18,219.24 484.55,219.25 484.93,219.26 485.31,219.27 485.69,219.27 486.07,219.28 486.45,219.29 486.83,219.3 487.21,219.3 487.58,219.31 487.96,219.32 488.34,219.33 488.72,219.34 489.1,219.34 489.48,219.35 489.86,219.36 490.24,219.37 490.61,219.37 490.99,219.38 491.37,219.39 491.75,219.4 492.13,219.4 492.51,219.41 492.89,219.42 493.27,219.43 493.64,219.43 494.02,219.44 494.4,219.45 494.78,219.46 495.16,219.47 495.54,219.47 495.92,219.48 496.3,219.49 496.67,219.5 497.05,219.5 497.43,219.51 497.81,219.52 498.19,219.53 498.57,219.53 498.95,219.54 499.33,219.55 499.7,219.56 500.08,219.56 500.46,219.57 500.84,219.58 501.22,219.59 501.6,219.59 501.98,219.6 502.36,219.61 502.73,219.62 503.11,219.63 503.49,219.63 503.87,219.64 504.25,219.65 504.63,219.66 505.01,219.66 505.39,219.67 505.76,219.68 506.14,219.69 506.52,219.69 506.9,219.7 507.28,219.71 507.66,219.72 508.04,219.72 508.42,219.73 508.79,219.74 509.17,219.75 509.55,219.76 509.93,219.76 510.31,219.77 510.69,219.78 511.07,219.79 511.45,219.79 511.82,219.8 512.2,219.81 512.58,219.82 512.96,219.82 513.34,219.83 513.72,219.84 514.1,219.85 514.48,219.85 514.85,219.86 515.23,219.87 515.61,219.88 515.99,219.89 516.37,219.89 516.75,219.9 517.13,219.91 517.5,219.92 517.88,219.92 518.26,219.93 518.64,219.94 519.02,219.95 519.4,219.95 519.78,219.96 520.16,219.97 520.54,219.98 520.91,219.98 521.29,219.99 521.67,220 522.05,220.01 522.43,220.02 522.81,220.02 523.19,220.03 523.57,220.04 523.94,220.05 524.32,220.05 524.7,220.06 525.08,220.07 525.46,220.08 525.84,220.08 526.22,220.09 526.6,220.1 526.97,220.11 527.35,220.11 527.73,220.12 528.11,220.13 528.49,220.14 528.87,220.14 529.25,220.15 529.62,220.16 530,220.17 530.38,220.18 530.76,220.18 531.14,220.19 531.52,220.2 531.9,220.21 532.28,220.21 532.66,220.22 533.03,220.23 533.41,220.24 533.79,220.24 534.17,220.25 534.55,220.26 534.93,220.27 535.31,220.27 535.69,220.28 536.06,220.29 536.44,220.3 536.82,220.31 537.2,220.31" fill="none" stroke="#7434b4" stroke-width="2.2" stroke-linejoin="round"/>
<polyline points="476.6,236.9 476.68,236.81 476.75,236.72 476.83,236.65 476.9,236.58 476.98,236.51 477.05,236.46 477.13,236.41 477.21,236.36 477.28,236.32 477.36,236.28 477.43,236.24 477.51,236.21 477.58,236.18 477.66,236.16 477.74,236.13 477.81,236.11 477.89,236.09 477.96,236.07 478.04,236.05 478.12,236.04 478.19,236.03 478.27,236.01 478.34,236 478.42,235.99 478.49,235.98 478.57,235.97 478.65,235.96 478.72,235.96 478.8,235.95 478.87,235.94 478.95,235.94 479.02,235.93 479.1,235.92 479.18,235.92 479.25,235.92 479.33,235.91 479.4,235.91 479.48,235.9 479.55,235.9 479.63,235.9 479.71,235.89 479.78,235.89 479.86,235.89 479.93,235.88 480.01,235.88 480.08,235.88 480.16,235.88 480.24,235.87 480.31,235.87 480.39,235.87 480.77,235.86 481.15,235.85 481.52,235.84 481.9,235.83 482.28,235.83 482.66,235.82 483.04,235.81 483.42,235.8 483.8,235.79 484.18,235.79 484.55,235.78 484.93,235.77 485.31,235.76 485.69,235.76 486.07,235.75 486.45,235.74 486.83,235.73 487.21,235.73 487.58,235.72 487.96,235.71 488.34,235.7 488.72,235.7 489.1,235.69 489.48,235.68 489.86,235.67 490.24,235.66 490.61,235.66 490.99,235.65 491.37,235.64 491.75,235.63 492.13,235.63 492.51,235.62 492.89,235.61 493.27,235.6 493.64,235.6 494.02,235.59 494.4,235.58 494.78,235.57 495.16,235.57 495.54,235.56 495.92,235.55 496.3,235.54 496.67,235.53 497.05,235.53 497.43,235.52 497.81,235.51 498.19,235.5 498.57,235.5 498.95,235.49 499.33,235.48 499.7,235.47 500.08,235.47 500.46,235.46 500.84,235.45 501.22,235.44 501.6,235.44 501.98,235.43 502.36,235.42 502.73,235.41 503.11,235.4 503.49,235.4 503.87,235.39 504.25,235.38 504.63,235.37 505.01,235.37 505.39,235.36 505.76,235.35 506.14,235.34 506.52,235.34 506.9,235.33 507.28,235.32 507.66,235.31 508.04,235.31 508.42,235.3 508.79,235.29 509.17,235.28 509.55,235.28 509.93,235.27 510.31,235.26 510.69,235.25 511.07,235.24 511.45,235.24 511.82,235.23 512.2,235.22 512.58,235.21 512.96,235.21 513.34,235.2 513.72,235.19 514.1,235.18 514.48,235.18 514.85,235.17 515.23,235.16 515.61,235.15 515.99,235.15 516.37,235.14 516.75,235.13 517.13,235.12 517.5,235.11 517.88,235.11 518.26,235.1 518.64,235.09 519.02,235.08 519.4,235.08 519.78,235.07 520.16,235.06 520.54,235.05 520.91,235.05 521.29,235.04 521.67,235.03 522.05,235.02 522.43,235.02 522.81,235.01 523.19,235 523.57,234.99 523.94,234.98 524.32,234.98 524.7,234.97 525.08,234.96 525.46,234.95 525.84,234.95 526.22,234.94 526.6,234.93 526.97,234.92 527.35,234.92 527.73,234.91 528.11,234.9 528.49,234.89 528.87,234.89 529.25,234.88 529.62,234.87 530,234.86 530.38,234.85 530.76,234.85 531.14,234.84 531.52,234.83 531.9,234.82 532.28,234.82 532.66,234.81 533.03,234.8 533.41,234.79 533.79,234.79 534.17,234.78 534.55,234.77 534.93,234.76 535.31,234.76 535.69,234.75 536.06,234.74 536.44,234.73 536.82,234.73 537.2,234.72" fill="none" stroke="#ff0a0a" stroke-width="2.2" stroke-linejoin="round"/>
<rect x="478.3" y="277.7" width="60.1" height="87.6" fill="none" stroke="#9a9a9a" stroke-width="1"/>
<line x1="475.8" y1="365.3" x2="478.3" y2="365.3" stroke="#9a9a9a" stroke-width="1"/>
<text x="469.7" y="368.1" font-size="8" text-anchor="end" fill="#222" stroke="#222" stroke-width="0.12">0.0</text>
<line x1="475.8" y1="347.78" x2="478.3" y2="347.78" stroke="#9a9a9a" stroke-width="1"/>
<text x="469.7" y="350.58" font-size="8" text-anchor="end" fill="#222" stroke="#222" stroke-width="0.12">0.4</text>
<line x1="475.8" y1="330.26" x2="478.3" y2="330.26" stroke="#9a9a9a" stroke-width="1"/>
<text x="469.7" y="333.06" font-size="8" text-anchor="end" fill="#222" stroke="#222" stroke-width="0.12">0.8</text>
<line x1="475.8" y1="312.74" x2="478.3" y2="312.74" stroke="#9a9a9a" stroke-width="1"/>
<text x="469.7" y="315.54" font-size="8" text-anchor="end" fill="#222" stroke="#222" stroke-width="0.12">1.2</text>
<line x1="475.8" y1="295.22" x2="478.3" y2="295.22" stroke="#9a9a9a" stroke-width="1"/>
<text x="469.7" y="298.02" font-size="8" text-anchor="end" fill="#222" stroke="#222" stroke-width="0.12">1.6</text>
<line x1="475.8" y1="277.7" x2="478.3" y2="277.7" stroke="#9a9a9a" stroke-width="1"/>
<text x="469.7" y="280.5" font-size="8" text-anchor="end" fill="#222" stroke="#222" stroke-width="0.12">2.0</text>
<line x1="478.3" y1="365.3" x2="478.3" y2="367.8" stroke="#9a9a9a" stroke-width="1"/>
<text x="477.9" y="380.6" font-size="8" text-anchor="middle" fill="#222" stroke="#222" stroke-width="0.12">4</text>
<line x1="493.32" y1="365.3" x2="493.32" y2="367.8" stroke="#9a9a9a" stroke-width="1"/>
<text x="492.93" y="380.6" font-size="8" text-anchor="middle" fill="#222" stroke="#222" stroke-width="0.12">8</text>
<line x1="508.35" y1="365.3" x2="508.35" y2="367.8" stroke="#9a9a9a" stroke-width="1"/>
<text x="507.95" y="380.6" font-size="8" text-anchor="middle" fill="#222" stroke="#222" stroke-width="0.12">12</text>
<line x1="523.38" y1="365.3" x2="523.38" y2="367.8" stroke="#9a9a9a" stroke-width="1"/>
<text x="522.98" y="380.6" font-size="8" text-anchor="middle" fill="#222" stroke="#222" stroke-width="0.12">16</text>
<line x1="538.4" y1="365.3" x2="538.4" y2="367.8" stroke="#9a9a9a" stroke-width="1"/>
<text x="538" y="380.6" font-size="8" text-anchor="middle" fill="#222" stroke="#222" stroke-width="0.12">20</text>
<text x="461" y="388.7" font-size="7.4" fill="#222" textLength="81.8" lengthAdjust="spacingAndGlyphs">Interaction time (minutes)</text>
<text transform="translate(453,322.5) rotate(-90)" font-size="7.2" text-anchor="middle" fill="#222" textLength="67.5" lengthAdjust="spacingAndGlyphs">Absorbance <tspan font-style="italic">(576 nm)</tspan></text>
<polyline points="478.3,337.27 478.38,337.62 478.45,337.94 478.53,338.21 478.6,338.45 478.68,338.66 478.75,338.84 478.83,339 478.9,339.14 478.98,339.27 479.05,339.38 479.13,339.47 479.2,339.55 479.28,339.63 479.35,339.69 479.43,339.75 479.5,339.8 479.58,339.84 479.65,339.88 479.73,339.91 479.8,339.94 479.88,339.96 479.95,339.99 480.03,340.01 480.1,340.03 480.18,340.04 480.25,340.05 480.33,340.07 480.4,340.08 480.48,340.09 480.55,340.1 480.63,340.1 480.7,340.11 480.78,340.12 480.85,340.12 480.93,340.13 481,340.13 481.08,340.14 481.15,340.14 481.23,340.14 481.31,340.15 481.38,340.15 481.46,340.15 481.53,340.15 481.61,340.16 481.68,340.16 481.76,340.16 481.83,340.16 481.91,340.16 481.98,340.16 482.06,340.17 482.43,340.17 482.81,340.18 483.18,340.19 483.56,340.19 483.93,340.2 484.31,340.2 484.69,340.21 485.06,340.21 485.44,340.22 485.81,340.22 486.19,340.23 486.56,340.24 486.94,340.24 487.31,340.25 487.69,340.25 488.07,340.26 488.44,340.26 488.82,340.27 489.19,340.27 489.57,340.28 489.94,340.28 490.32,340.29 490.7,340.3 491.07,340.3 491.45,340.31 491.82,340.31 492.2,340.32 492.57,340.32 492.95,340.33 493.32,340.33 493.7,340.34 494.08,340.34 494.45,340.35 494.83,340.36 495.2,340.36 495.58,340.37 495.95,340.37 496.33,340.38 496.71,340.38 497.08,340.39 497.46,340.39 497.83,340.4 498.21,340.41 498.58,340.41 498.96,340.42 499.33,340.42 499.71,340.43 500.09,340.43 500.46,340.44 500.84,340.44 501.21,340.45 501.59,340.45 501.96,340.46 502.34,340.47 502.72,340.47 503.09,340.48 503.47,340.48 503.84,340.49 504.22,340.49 504.59,340.5 504.97,340.5 505.34,340.51 505.72,340.51 506.1,340.52 506.47,340.53 506.85,340.53 507.22,340.54 507.6,340.54 507.97,340.55 508.35,340.55 508.73,340.56 509.1,340.56 509.48,340.57 509.85,340.57 510.23,340.58 510.6,340.59 510.98,340.59 511.36,340.6 511.73,340.6 512.11,340.61 512.48,340.61 512.86,340.62 513.23,340.62 513.61,340.63 513.98,340.64 514.36,340.64 514.74,340.65 515.11,340.65 515.49,340.66 515.86,340.66 516.24,340.67 516.61,340.67 516.99,340.68 517.37,340.68 517.74,340.69 518.12,340.7 518.49,340.7 518.87,340.71 519.24,340.71 519.62,340.72 519.99,340.72 520.37,340.73 520.75,340.73 521.12,340.74 521.5,340.74 521.87,340.75 522.25,340.76 522.62,340.76 523,340.77 523.38,340.77 523.75,340.78 524.13,340.78 524.5,340.79 524.88,340.79 525.25,340.8 525.63,340.8 526,340.81 526.38,340.82 526.76,340.82 527.13,340.83 527.51,340.83 527.88,340.84 528.26,340.84 528.63,340.85 529.01,340.85 529.38,340.86 529.76,340.87 530.14,340.87 530.51,340.88 530.89,340.88 531.26,340.89 531.64,340.89 532.01,340.9 532.39,340.9 532.77,340.91 533.14,340.91 533.52,340.92 533.89,340.93 534.27,340.93 534.64,340.94 535.02,340.94 535.39,340.95 535.77,340.95 536.15,340.96 536.52,340.96 536.9,340.97 537.27,340.97 537.65,340.98 538.02,340.99 538.4,340.99" fill="none" stroke="#138a13" stroke-width="2.2" stroke-linejoin="round"/>
<polyline points="478.3,341.87 478.38,342.24 478.45,342.57 478.53,342.87 478.6,343.15 478.68,343.4 478.75,343.62 478.83,343.83 478.9,344.01 478.98,344.18 479.05,344.33 479.13,344.47 479.2,344.59 479.28,344.71 479.35,344.81 479.43,344.9 479.5,344.99 479.58,345.06 479.65,345.13 479.73,345.2 479.8,345.25 479.88,345.31 479.95,345.35 480.03,345.4 480.1,345.44 480.18,345.47 480.25,345.51 480.33,345.54 480.4,345.56 480.48,345.59 480.55,345.61 480.63,345.63 480.7,345.65 480.78,345.67 480.85,345.69 480.93,345.7 481,345.71 481.08,345.73 481.15,345.74 481.23,345.75 481.31,345.76 481.38,345.77 481.46,345.78 481.53,345.79 481.61,345.79 481.68,345.8 481.76,345.81 481.83,345.82 481.91,345.82 481.98,345.83 482.06,345.83 482.43,345.86 482.81,345.88 483.18,345.89 483.56,345.91 483.93,345.92 484.31,345.94 484.69,345.95 485.06,345.97 485.44,345.98 485.81,345.99 486.19,346.01 486.56,346.02 486.94,346.04 487.31,346.05 487.69,346.06 488.07,346.08 488.44,346.09 488.82,346.1 489.19,346.12 489.57,346.13 489.94,346.15 490.32,346.16 490.7,346.17 491.07,346.19 491.45,346.2 491.82,346.21 492.2,346.23 492.57,346.24 492.95,346.26 493.32,346.27 493.7,346.28 494.08,346.3 494.45,346.31 494.83,346.32 495.2,346.34 495.58,346.35 495.95,346.36 496.33,346.38 496.71,346.39 497.08,346.41 497.46,346.42 497.83,346.43 498.21,346.45 498.58,346.46 498.96,346.47 499.33,346.49 499.71,346.5 500.09,346.52 500.46,346.53 500.84,346.54 501.21,346.56 501.59,346.57 501.96,346.58 502.34,346.6 502.72,346.61 503.09,346.62 503.47,346.64 503.84,346.65 504.22,346.67 504.59,346.68 504.97,346.69 505.34,346.71 505.72,346.72 506.1,346.73 506.47,346.75 506.85,346.76 507.22,346.78 507.6,346.79 507.97,346.8 508.35,346.82 508.73,346.83 509.1,346.84 509.48,346.86 509.85,346.87 510.23,346.88 510.6,346.9 510.98,346.91 511.36,346.93 511.73,346.94 512.11,346.95 512.48,346.97 512.86,346.98 513.23,346.99 513.61,347.01 513.98,347.02 514.36,347.04 514.74,347.05 515.11,347.06 515.49,347.08 515.86,347.09 516.24,347.1 516.61,347.12 516.99,347.13 517.37,347.14 517.74,347.16 518.12,347.17 518.49,347.19 518.87,347.2 519.24,347.21 519.62,347.23 519.99,347.24 520.37,347.25 520.75,347.27 521.12,347.28 521.5,347.3 521.87,347.31 522.25,347.32 522.62,347.34 523,347.35 523.38,347.36 523.75,347.38 524.13,347.39 524.5,347.4 524.88,347.42 525.25,347.43 525.63,347.45 526,347.46 526.38,347.47 526.76,347.49 527.13,347.5 527.51,347.51 527.88,347.53 528.26,347.54 528.63,347.56 529.01,347.57 529.38,347.58 529.76,347.6 530.14,347.61 530.51,347.62 530.89,347.64 531.26,347.65 531.64,347.67 532.01,347.68 532.39,347.69 532.77,347.71 533.14,347.72 533.52,347.73 533.89,347.75 534.27,347.76 534.64,347.77 535.02,347.79 535.39,347.8 535.77,347.82 536.15,347.83 536.52,347.84 536.9,347.86 537.27,347.87 537.65,347.88 538.02,347.9 538.4,347.91" fill="none" stroke="#7434b4" stroke-width="2.2" stroke-linejoin="round"/>
<polyline points="478.3,365.3 478.38,365.21 478.45,365.12 478.53,365.04 478.6,364.97 478.68,364.9 478.75,364.85 478.83,364.79 478.9,364.74 478.98,364.7 479.05,364.66 479.13,364.62 479.2,364.59 479.28,364.56 479.35,364.53 479.43,364.5 479.5,364.48 479.58,364.46 479.65,364.44 479.73,364.42 479.8,364.4 479.88,364.39 479.95,364.37 480.03,364.36 480.1,364.35 480.18,364.34 480.25,364.33 480.33,364.32 480.4,364.31 480.48,364.3 480.55,364.29 480.63,364.28 480.7,364.27 480.78,364.27 480.85,364.26 480.93,364.25 481,364.25 481.08,364.24 481.15,364.24 481.23,364.23 481.31,364.23 481.38,364.22 481.46,364.22 481.53,364.21 481.61,364.21 481.68,364.2 481.76,364.2 481.83,364.2 481.91,364.19 481.98,364.19 482.06,364.18 482.43,364.17 482.81,364.15 483.18,364.13 483.56,364.11 483.93,364.1 484.31,364.08 484.69,364.07 485.06,364.05 485.44,364.03 485.81,364.02 486.19,364 486.56,363.99 486.94,363.97 487.31,363.96 487.69,363.94 488.07,363.92 488.44,363.91 488.82,363.89 489.19,363.88 489.57,363.86 489.94,363.84 490.32,363.83 490.7,363.81 491.07,363.8 491.45,363.78 491.82,363.76 492.2,363.75 492.57,363.73 492.95,363.72 493.32,363.7 493.7,363.69 494.08,363.67 494.45,363.65 494.83,363.64 495.2,363.62 495.58,363.61 495.95,363.59 496.33,363.57 496.71,363.56 497.08,363.54 497.46,363.53 497.83,363.51 498.21,363.49 498.58,363.48 498.96,363.46 499.33,363.45 499.71,363.43 500.09,363.42 500.46,363.4 500.84,363.38 501.21,363.37 501.59,363.35 501.96,363.34 502.34,363.32 502.72,363.3 503.09,363.29 503.47,363.27 503.84,363.26 504.22,363.24 504.59,363.22 504.97,363.21 505.34,363.19 505.72,363.18 506.1,363.16 506.47,363.15 506.85,363.13 507.22,363.11 507.6,363.1 507.97,363.08 508.35,363.07 508.73,363.05 509.1,363.03 509.48,363.02 509.85,363 510.23,362.99 510.6,362.97 510.98,362.96 511.36,362.94 511.73,362.92 512.11,362.91 512.48,362.89 512.86,362.88 513.23,362.86 513.61,362.84 513.98,362.83 514.36,362.81 514.74,362.8 515.11,362.78 515.49,362.76 515.86,362.75 516.24,362.73 516.61,362.72 516.99,362.7 517.37,362.69 517.74,362.67 518.12,362.65 518.49,362.64 518.87,362.62 519.24,362.61 519.62,362.59 519.99,362.57 520.37,362.56 520.75,362.54 521.12,362.53 521.5,362.51 521.87,362.49 522.25,362.48 522.62,362.46 523,362.45 523.38,362.43 523.75,362.42 524.13,362.4 524.5,362.38 524.88,362.37 525.25,362.35 525.63,362.34 526,362.32 526.38,362.3 526.76,362.29 527.13,362.27 527.51,362.26 527.88,362.24 528.26,362.22 528.63,362.21 529.01,362.19 529.38,362.18 529.76,362.16 530.14,362.15 530.51,362.13 530.89,362.11 531.26,362.1 531.64,362.08 532.01,362.07 532.39,362.05 532.77,362.03 533.14,362.02 533.52,362 533.89,361.99 534.27,361.97 534.64,361.95 535.02,361.94 535.39,361.92 535.77,361.91 536.15,361.89 536.52,361.88 536.9,361.86 537.27,361.84 537.65,361.83 538.02,361.81 538.4,361.8" fill="none" stroke="#ff0a0a" stroke-width="2.2" stroke-linejoin="round"/>
</svg>
</body></html>
